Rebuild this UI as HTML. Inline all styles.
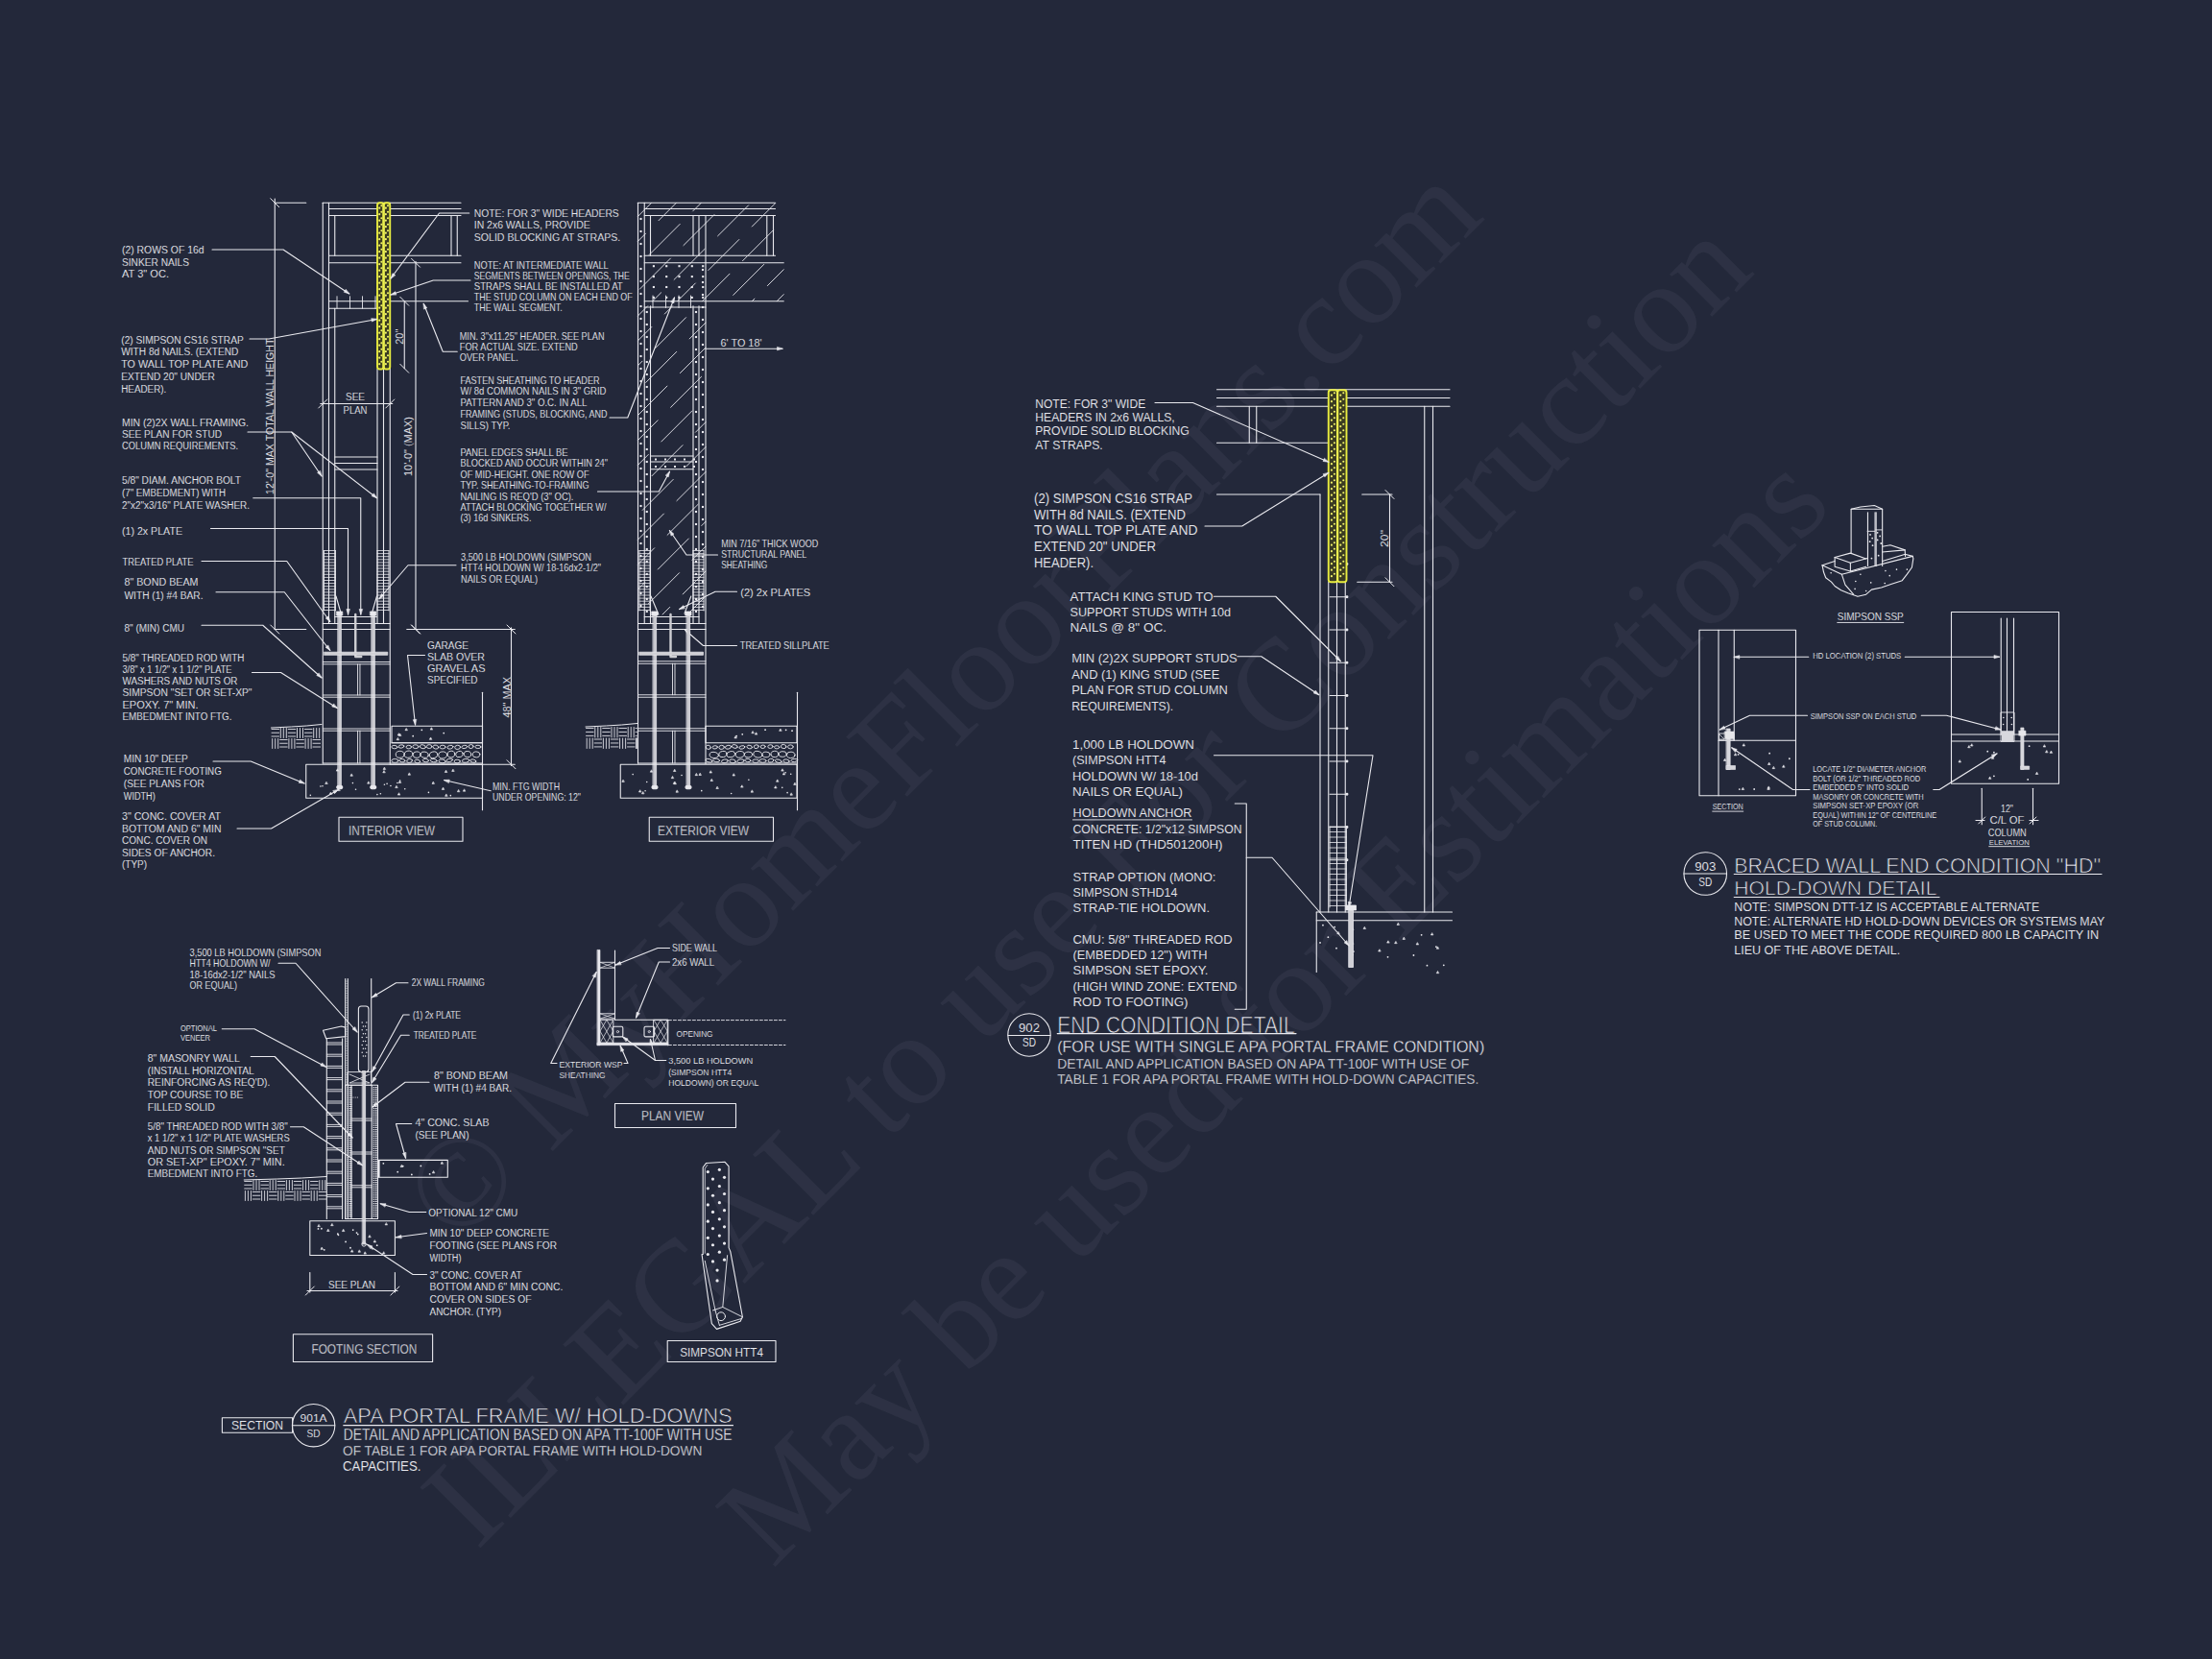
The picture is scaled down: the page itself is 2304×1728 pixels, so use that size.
<!DOCTYPE html>
<html><head><meta charset="utf-8"><style>
.d text{fill:#e9e9ee;stroke:#23283a;stroke-width:0.1px;font-family:"Liberation Sans",sans-serif}
.d text.big{stroke-width:0.7px}
.d text.mid{stroke-width:0.3px}

html,body{margin:0;padding:0;background:#23283a;width:2304px;height:1728px;overflow:hidden}
svg{display:block}
</style></head><body>
<svg width="2304" height="1728" viewBox="0 0 2304 1728">
<rect width="2304" height="1728" fill="#23283a"/>
<g transform="rotate(-45)" style="font-family:'Liberation Serif',serif;font-size:136px;fill:#f2ecff;fill-opacity:0.052">
<text x="-582" y="1255">© MyHomeFloorPlans.com</text>
<text x="-791" y="1494">ILLEGAL to use For Construction</text>
<text x="-587" y="1725">May be used for Estimations</text>
</g>
<g class="d" stroke="#e9e9ee" stroke-width="1.1" fill="none" stroke-linecap="round" stroke-linejoin="round">
<line x1="286.25" y1="207" x2="286.25" y2="655.5"/>
<line x1="286.25" y1="211.25" x2="318.75" y2="211.25"/>
<line x1="281.75" y1="206.75" x2="290.75" y2="215.75" stroke-width="1"/>
<line x1="286.25" y1="655.5" x2="318.75" y2="655.5"/>
<line x1="281.75" y1="651" x2="290.75" y2="660" stroke-width="1"/>
<text x="280.5" y="437.75" font-size="11.63" textLength="162.5" lengthAdjust="spacingAndGlyphs" text-anchor="middle" transform="rotate(-90 280.5 433.75)">12'-0" MAX TOTAL WALL HEIGHT</text>
<line x1="336.25" y1="211.25" x2="336.25" y2="795"/>
<line x1="342.5" y1="211.25" x2="342.5" y2="649.5"/>
<line x1="336.25" y1="211.25" x2="480" y2="211.25"/>
<line x1="342.5" y1="217.5" x2="480" y2="217.5"/>
<line x1="342.5" y1="224.5" x2="480" y2="224.5"/>
<line x1="342.5" y1="266.25" x2="480" y2="266.25"/>
<line x1="342.5" y1="273.75" x2="480" y2="273.75"/>
<line x1="348.75" y1="224.5" x2="348.75" y2="266.25"/>
<line x1="470" y1="224.5" x2="470" y2="266.25"/>
<line x1="476.25" y1="224.5" x2="476.25" y2="266.25"/>
<line x1="342.5" y1="313.75" x2="393" y2="313.75"/>
<line x1="406.25" y1="313.75" x2="487.5" y2="313.75"/>
<line x1="342.5" y1="321.25" x2="393" y2="321.25"/>
<line x1="351" y1="308.75" x2="351" y2="321.25" stroke-width="0.9"/>
<line x1="364.5" y1="308.75" x2="364.5" y2="321.25" stroke-width="0.9"/>
<line x1="377.5" y1="308.75" x2="377.5" y2="321.25" stroke-width="0.9"/>
<line x1="391" y1="308.75" x2="391" y2="321.25" stroke-width="0.9"/>
<line x1="348.75" y1="321.25" x2="348.75" y2="649.5"/>
<line x1="393" y1="384.5" x2="393" y2="649.5"/>
<line x1="399.5" y1="384.5" x2="399.5" y2="649.5"/>
<line x1="406.25" y1="211.25" x2="406.25" y2="795"/>
<line x1="348.75" y1="476" x2="393" y2="476"/>
<line x1="348.75" y1="482.5" x2="393" y2="482.5"/>
<line x1="348.75" y1="489" x2="393" y2="489"/>
<line x1="433" y1="272.5" x2="433" y2="655.5"/>
<line x1="428.5" y1="269.25" x2="437.5" y2="278.25" stroke-width="1"/>
<line x1="428.5" y1="651" x2="437.5" y2="660" stroke-width="1"/>
<text x="425" y="469" font-size="11.63" textLength="62" lengthAdjust="spacingAndGlyphs" text-anchor="middle" transform="rotate(-90 425 465)">10'-0" (MAX)</text>
<line x1="421.25" y1="313.75" x2="421.25" y2="383.75"/>
<line x1="416.75" y1="309.25" x2="425.75" y2="318.25" stroke-width="1"/>
<line x1="416.75" y1="379.25" x2="425.75" y2="388.25" stroke-width="1"/>
<text x="416" y="354.5" font-size="10.9" textLength="16" lengthAdjust="spacingAndGlyphs" text-anchor="middle" transform="rotate(-90 416 350.75)">20"</text>
<line x1="333.75" y1="420.5" x2="408.75" y2="420.5"/>
<line x1="331.75" y1="425" x2="340.75" y2="416" stroke-width="1"/>
<line x1="401.75" y1="425" x2="410.75" y2="416" stroke-width="1"/>
<text x="370" y="417.25" font-size="10.17" textLength="20" lengthAdjust="spacingAndGlyphs" text-anchor="middle">SEE</text>
<text x="370" y="431" font-size="10.17" textLength="25" lengthAdjust="spacingAndGlyphs" text-anchor="middle">PLAN</text>
<rect x="393" y="211.25" width="6.62" height="173.25" rx="2.5" fill="#3a3b22" stroke="#e8ec40" stroke-width="1.9"/>
<rect x="399.62" y="211.25" width="6.62" height="173.25" rx="2.5" fill="#3a3b22" stroke="#e8ec40" stroke-width="1.9"/>
<line x1="399.62" y1="212.25" x2="399.62" y2="383.5" stroke="#ecf050" stroke-width="2.2"/>
<circle cx="397.37" cy="214.25" r="1.05" fill="#f2f46a" stroke="none"/>
<circle cx="395.25" cy="216.65" r="1.05" fill="#f2f46a" stroke="none"/>
<circle cx="404" cy="214.25" r="1.05" fill="#f2f46a" stroke="none"/>
<circle cx="401.88" cy="216.65" r="1.05" fill="#f2f46a" stroke="none"/>
<circle cx="397.37" cy="220.75" r="1.05" fill="#f2f46a" stroke="none"/>
<circle cx="395.25" cy="223.15" r="1.05" fill="#f2f46a" stroke="none"/>
<circle cx="404" cy="220.75" r="1.05" fill="#f2f46a" stroke="none"/>
<circle cx="401.88" cy="223.15" r="1.05" fill="#f2f46a" stroke="none"/>
<circle cx="397.37" cy="227.25" r="1.05" fill="#f2f46a" stroke="none"/>
<circle cx="395.25" cy="229.65" r="1.05" fill="#f2f46a" stroke="none"/>
<circle cx="404" cy="227.25" r="1.05" fill="#f2f46a" stroke="none"/>
<circle cx="401.88" cy="229.65" r="1.05" fill="#f2f46a" stroke="none"/>
<circle cx="397.37" cy="233.75" r="1.05" fill="#f2f46a" stroke="none"/>
<circle cx="395.25" cy="236.15" r="1.05" fill="#f2f46a" stroke="none"/>
<circle cx="404" cy="233.75" r="1.05" fill="#f2f46a" stroke="none"/>
<circle cx="401.88" cy="236.15" r="1.05" fill="#f2f46a" stroke="none"/>
<circle cx="397.37" cy="240.25" r="1.05" fill="#f2f46a" stroke="none"/>
<circle cx="395.25" cy="242.65" r="1.05" fill="#f2f46a" stroke="none"/>
<circle cx="404" cy="240.25" r="1.05" fill="#f2f46a" stroke="none"/>
<circle cx="401.88" cy="242.65" r="1.05" fill="#f2f46a" stroke="none"/>
<circle cx="397.37" cy="246.75" r="1.05" fill="#f2f46a" stroke="none"/>
<circle cx="395.25" cy="249.15" r="1.05" fill="#f2f46a" stroke="none"/>
<circle cx="404" cy="246.75" r="1.05" fill="#f2f46a" stroke="none"/>
<circle cx="401.88" cy="249.15" r="1.05" fill="#f2f46a" stroke="none"/>
<circle cx="397.37" cy="253.25" r="1.05" fill="#f2f46a" stroke="none"/>
<circle cx="395.25" cy="255.65" r="1.05" fill="#f2f46a" stroke="none"/>
<circle cx="404" cy="253.25" r="1.05" fill="#f2f46a" stroke="none"/>
<circle cx="401.88" cy="255.65" r="1.05" fill="#f2f46a" stroke="none"/>
<circle cx="397.37" cy="259.75" r="1.05" fill="#f2f46a" stroke="none"/>
<circle cx="395.25" cy="262.15" r="1.05" fill="#f2f46a" stroke="none"/>
<circle cx="404" cy="259.75" r="1.05" fill="#f2f46a" stroke="none"/>
<circle cx="401.88" cy="262.15" r="1.05" fill="#f2f46a" stroke="none"/>
<circle cx="397.37" cy="266.25" r="1.05" fill="#f2f46a" stroke="none"/>
<circle cx="395.25" cy="268.65" r="1.05" fill="#f2f46a" stroke="none"/>
<circle cx="404" cy="266.25" r="1.05" fill="#f2f46a" stroke="none"/>
<circle cx="401.88" cy="268.65" r="1.05" fill="#f2f46a" stroke="none"/>
<circle cx="397.37" cy="272.75" r="1.05" fill="#f2f46a" stroke="none"/>
<circle cx="395.25" cy="275.15" r="1.05" fill="#f2f46a" stroke="none"/>
<circle cx="404" cy="272.75" r="1.05" fill="#f2f46a" stroke="none"/>
<circle cx="401.88" cy="275.15" r="1.05" fill="#f2f46a" stroke="none"/>
<circle cx="397.37" cy="279.25" r="1.05" fill="#f2f46a" stroke="none"/>
<circle cx="395.25" cy="281.65" r="1.05" fill="#f2f46a" stroke="none"/>
<circle cx="404" cy="279.25" r="1.05" fill="#f2f46a" stroke="none"/>
<circle cx="401.88" cy="281.65" r="1.05" fill="#f2f46a" stroke="none"/>
<circle cx="397.37" cy="285.75" r="1.05" fill="#f2f46a" stroke="none"/>
<circle cx="395.25" cy="288.15" r="1.05" fill="#f2f46a" stroke="none"/>
<circle cx="404" cy="285.75" r="1.05" fill="#f2f46a" stroke="none"/>
<circle cx="401.88" cy="288.15" r="1.05" fill="#f2f46a" stroke="none"/>
<circle cx="397.37" cy="292.25" r="1.05" fill="#f2f46a" stroke="none"/>
<circle cx="395.25" cy="294.65" r="1.05" fill="#f2f46a" stroke="none"/>
<circle cx="404" cy="292.25" r="1.05" fill="#f2f46a" stroke="none"/>
<circle cx="401.88" cy="294.65" r="1.05" fill="#f2f46a" stroke="none"/>
<circle cx="397.37" cy="298.75" r="1.05" fill="#f2f46a" stroke="none"/>
<circle cx="395.25" cy="301.15" r="1.05" fill="#f2f46a" stroke="none"/>
<circle cx="404" cy="298.75" r="1.05" fill="#f2f46a" stroke="none"/>
<circle cx="401.88" cy="301.15" r="1.05" fill="#f2f46a" stroke="none"/>
<circle cx="397.37" cy="305.25" r="1.05" fill="#f2f46a" stroke="none"/>
<circle cx="395.25" cy="307.65" r="1.05" fill="#f2f46a" stroke="none"/>
<circle cx="404" cy="305.25" r="1.05" fill="#f2f46a" stroke="none"/>
<circle cx="401.88" cy="307.65" r="1.05" fill="#f2f46a" stroke="none"/>
<circle cx="397.37" cy="311.75" r="1.05" fill="#f2f46a" stroke="none"/>
<circle cx="395.25" cy="314.15" r="1.05" fill="#f2f46a" stroke="none"/>
<circle cx="404" cy="311.75" r="1.05" fill="#f2f46a" stroke="none"/>
<circle cx="401.88" cy="314.15" r="1.05" fill="#f2f46a" stroke="none"/>
<circle cx="397.37" cy="318.25" r="1.05" fill="#f2f46a" stroke="none"/>
<circle cx="395.25" cy="320.65" r="1.05" fill="#f2f46a" stroke="none"/>
<circle cx="404" cy="318.25" r="1.05" fill="#f2f46a" stroke="none"/>
<circle cx="401.88" cy="320.65" r="1.05" fill="#f2f46a" stroke="none"/>
<circle cx="397.37" cy="324.75" r="1.05" fill="#f2f46a" stroke="none"/>
<circle cx="395.25" cy="327.15" r="1.05" fill="#f2f46a" stroke="none"/>
<circle cx="404" cy="324.75" r="1.05" fill="#f2f46a" stroke="none"/>
<circle cx="401.88" cy="327.15" r="1.05" fill="#f2f46a" stroke="none"/>
<circle cx="397.37" cy="331.25" r="1.05" fill="#f2f46a" stroke="none"/>
<circle cx="395.25" cy="333.65" r="1.05" fill="#f2f46a" stroke="none"/>
<circle cx="404" cy="331.25" r="1.05" fill="#f2f46a" stroke="none"/>
<circle cx="401.88" cy="333.65" r="1.05" fill="#f2f46a" stroke="none"/>
<circle cx="397.37" cy="337.75" r="1.05" fill="#f2f46a" stroke="none"/>
<circle cx="395.25" cy="340.15" r="1.05" fill="#f2f46a" stroke="none"/>
<circle cx="404" cy="337.75" r="1.05" fill="#f2f46a" stroke="none"/>
<circle cx="401.88" cy="340.15" r="1.05" fill="#f2f46a" stroke="none"/>
<circle cx="397.37" cy="344.25" r="1.05" fill="#f2f46a" stroke="none"/>
<circle cx="395.25" cy="346.65" r="1.05" fill="#f2f46a" stroke="none"/>
<circle cx="404" cy="344.25" r="1.05" fill="#f2f46a" stroke="none"/>
<circle cx="401.88" cy="346.65" r="1.05" fill="#f2f46a" stroke="none"/>
<circle cx="397.37" cy="350.75" r="1.05" fill="#f2f46a" stroke="none"/>
<circle cx="395.25" cy="353.15" r="1.05" fill="#f2f46a" stroke="none"/>
<circle cx="404" cy="350.75" r="1.05" fill="#f2f46a" stroke="none"/>
<circle cx="401.88" cy="353.15" r="1.05" fill="#f2f46a" stroke="none"/>
<circle cx="397.37" cy="357.25" r="1.05" fill="#f2f46a" stroke="none"/>
<circle cx="395.25" cy="359.65" r="1.05" fill="#f2f46a" stroke="none"/>
<circle cx="404" cy="357.25" r="1.05" fill="#f2f46a" stroke="none"/>
<circle cx="401.88" cy="359.65" r="1.05" fill="#f2f46a" stroke="none"/>
<circle cx="397.37" cy="363.75" r="1.05" fill="#f2f46a" stroke="none"/>
<circle cx="395.25" cy="366.15" r="1.05" fill="#f2f46a" stroke="none"/>
<circle cx="404" cy="363.75" r="1.05" fill="#f2f46a" stroke="none"/>
<circle cx="401.88" cy="366.15" r="1.05" fill="#f2f46a" stroke="none"/>
<circle cx="397.37" cy="370.25" r="1.05" fill="#f2f46a" stroke="none"/>
<circle cx="395.25" cy="372.65" r="1.05" fill="#f2f46a" stroke="none"/>
<circle cx="404" cy="370.25" r="1.05" fill="#f2f46a" stroke="none"/>
<circle cx="401.88" cy="372.65" r="1.05" fill="#f2f46a" stroke="none"/>
<circle cx="397.37" cy="376.75" r="1.05" fill="#f2f46a" stroke="none"/>
<circle cx="395.25" cy="379.15" r="1.05" fill="#f2f46a" stroke="none"/>
<circle cx="404" cy="376.75" r="1.05" fill="#f2f46a" stroke="none"/>
<circle cx="401.88" cy="379.15" r="1.05" fill="#f2f46a" stroke="none"/>
<line x1="337.5" y1="573.5" x2="337.5" y2="636" stroke-width="0.9"/>
<line x1="349.5" y1="573.5" x2="349.5" y2="636" stroke-width="0.9"/>
<line x1="337.5" y1="573.5" x2="349.5" y2="573.5" stroke-width="0.8"/>
<line x1="337.5" y1="576.6" x2="349.5" y2="576.6" stroke-width="0.8"/>
<line x1="337.5" y1="579.7" x2="349.5" y2="579.7" stroke-width="0.8"/>
<line x1="337.5" y1="582.8" x2="349.5" y2="582.8" stroke-width="0.8"/>
<line x1="337.5" y1="585.9" x2="349.5" y2="585.9" stroke-width="0.8"/>
<line x1="337.5" y1="589" x2="349.5" y2="589" stroke-width="0.8"/>
<line x1="337.5" y1="592.1" x2="349.5" y2="592.1" stroke-width="0.8"/>
<line x1="337.5" y1="595.2" x2="349.5" y2="595.2" stroke-width="0.8"/>
<line x1="337.5" y1="598.3" x2="349.5" y2="598.3" stroke-width="0.8"/>
<line x1="337.5" y1="601.4" x2="349.5" y2="601.4" stroke-width="0.8"/>
<line x1="337.5" y1="604.5" x2="349.5" y2="604.5" stroke-width="0.8"/>
<line x1="337.5" y1="607.6" x2="349.5" y2="607.6" stroke-width="0.8"/>
<line x1="337.5" y1="610.7" x2="349.5" y2="610.7" stroke-width="0.8"/>
<line x1="337.5" y1="613.8" x2="349.5" y2="613.8" stroke-width="0.8"/>
<line x1="337.5" y1="616.9" x2="349.5" y2="616.9" stroke-width="0.8"/>
<line x1="337.5" y1="620" x2="349.5" y2="620" stroke-width="0.8"/>
<line x1="337.5" y1="623.1" x2="349.5" y2="623.1" stroke-width="0.8"/>
<line x1="337.5" y1="626.2" x2="349.5" y2="626.2" stroke-width="0.8"/>
<line x1="337.5" y1="629.3" x2="349.5" y2="629.3" stroke-width="0.8"/>
<line x1="337.5" y1="632.4" x2="349.5" y2="632.4" stroke-width="0.8"/>
<line x1="337.5" y1="635.5" x2="349.5" y2="635.5" stroke-width="0.8"/>
<line x1="393" y1="573.5" x2="393" y2="636" stroke-width="0.9"/>
<line x1="405" y1="573.5" x2="405" y2="636" stroke-width="0.9"/>
<line x1="393" y1="573.5" x2="405" y2="573.5" stroke-width="0.8"/>
<line x1="393" y1="576.6" x2="405" y2="576.6" stroke-width="0.8"/>
<line x1="393" y1="579.7" x2="405" y2="579.7" stroke-width="0.8"/>
<line x1="393" y1="582.8" x2="405" y2="582.8" stroke-width="0.8"/>
<line x1="393" y1="585.9" x2="405" y2="585.9" stroke-width="0.8"/>
<line x1="393" y1="589" x2="405" y2="589" stroke-width="0.8"/>
<line x1="393" y1="592.1" x2="405" y2="592.1" stroke-width="0.8"/>
<line x1="393" y1="595.2" x2="405" y2="595.2" stroke-width="0.8"/>
<line x1="393" y1="598.3" x2="405" y2="598.3" stroke-width="0.8"/>
<line x1="393" y1="601.4" x2="405" y2="601.4" stroke-width="0.8"/>
<line x1="393" y1="604.5" x2="405" y2="604.5" stroke-width="0.8"/>
<line x1="393" y1="607.6" x2="405" y2="607.6" stroke-width="0.8"/>
<line x1="393" y1="610.7" x2="405" y2="610.7" stroke-width="0.8"/>
<line x1="393" y1="613.8" x2="405" y2="613.8" stroke-width="0.8"/>
<line x1="393" y1="616.9" x2="405" y2="616.9" stroke-width="0.8"/>
<line x1="393" y1="620" x2="405" y2="620" stroke-width="0.8"/>
<line x1="393" y1="623.1" x2="405" y2="623.1" stroke-width="0.8"/>
<line x1="393" y1="626.2" x2="405" y2="626.2" stroke-width="0.8"/>
<line x1="393" y1="629.3" x2="405" y2="629.3" stroke-width="0.8"/>
<line x1="393" y1="632.4" x2="405" y2="632.4" stroke-width="0.8"/>
<line x1="393" y1="635.5" x2="405" y2="635.5" stroke-width="0.8"/>
<line x1="336.25" y1="649.5" x2="406.25" y2="649.5"/>
<line x1="336.25" y1="655.5" x2="406.25" y2="655.5"/>
<rect x="352.15" y="638.5" width="3.2" height="181.5" stroke-width="0.8" fill="#c9c9cf"/>
<ellipse cx="353.75" cy="820" rx="3" ry="1.8" fill="#e9e9ee"/>
<rect x="350.75" y="637" width="6" height="4" stroke-width="0.8" fill="#e9e9ee"/>
<rect x="387.15" y="638.5" width="3.2" height="181.5" stroke-width="0.8" fill="#c9c9cf"/>
<ellipse cx="388.75" cy="820" rx="3" ry="1.8" fill="#e9e9ee"/>
<rect x="385.75" y="637" width="6" height="4" stroke-width="0.8" fill="#e9e9ee"/>
<polyline points="370.25,640 370.25,684 376.25,684" stroke-width="2.4" stroke="#cfcfd4"/>
<rect x="337.75" y="679.2" width="66" height="3.1" stroke-width="0.7" fill="#cfcfd4"/>
<line x1="336.25" y1="689.5" x2="406.25" y2="689.5" stroke-width="0.9"/>
<line x1="336.25" y1="691.8" x2="406.25" y2="691.8" stroke-width="0.9"/>
<line x1="336.25" y1="724" x2="406.25" y2="724" stroke-width="0.9"/>
<line x1="336.25" y1="726.2" x2="406.25" y2="726.2" stroke-width="0.9"/>
<line x1="336.25" y1="759" x2="406.25" y2="759" stroke-width="0.9"/>
<line x1="336.25" y1="761.2" x2="406.25" y2="761.2" stroke-width="0.9"/>
<line x1="336.25" y1="795" x2="406.25" y2="795"/>
<line x1="372.55" y1="691.8" x2="372.55" y2="724" stroke-width="0.9"/>
<line x1="374.95" y1="691.8" x2="374.95" y2="724" stroke-width="0.9"/>
<line x1="372.55" y1="761.2" x2="372.55" y2="795" stroke-width="0.9"/>
<line x1="374.95" y1="761.2" x2="374.95" y2="795" stroke-width="0.9"/>
<line x1="348.75" y1="642.5" x2="392.5" y2="642.5"/>
<line x1="350" y1="621" x2="355.5" y2="640"/>
<line x1="392.5" y1="621" x2="387" y2="640"/>
<polyline points="219.5,550.5 362.5,550.5 362.5,640"/>
<polygon points="362.5,640 360.9,634.5 364.1,634.5" stroke-width="0.6" fill="#e9e9ee"/>
<polyline points="263.75,518.75 375.75,518.75 375.75,640"/>
<polygon points="375.75,640 374.15,634.5 377.35,634.5" stroke-width="0.6" fill="#e9e9ee"/>
<rect x="408" y="756.25" width="94.5" height="17.5"/>
<circle cx="439.31" cy="760.29" r="0.9" stroke-width="0" fill="#e9e9ee"/>
<polygon points="416.56,764.38 415.46,766.38 417.66,766.38" stroke-width="0.6" fill="#e9e9ee"/>
<polygon points="415.25,764 414.15,766 416.35,766" stroke-width="0.6" fill="#e9e9ee"/>
<polygon points="449.24,758.09 448.14,760.09 450.34,760.09" stroke-width="0.6" fill="#e9e9ee"/>
<polygon points="448.42,768.31 447.32,770.31 449.52,770.31" stroke-width="0.6" fill="#e9e9ee"/>
<circle cx="430.2" cy="766.72" r="0.9" stroke-width="0" fill="#e9e9ee"/>
<circle cx="462.23" cy="763.61" r="0.9" stroke-width="0" fill="#e9e9ee"/>
<polygon points="414.22,768.74 413.12,770.74 415.32,770.74" stroke-width="0.6" fill="#e9e9ee"/>
<polygon points="423.06,758.74 421.96,760.74 424.16,760.74" stroke-width="0.6" fill="#e9e9ee"/>
<line x1="408" y1="773.75" x2="502.5" y2="773.75"/>
<line x1="406.25" y1="795" x2="502.5" y2="795"/>
<ellipse cx="410.9" cy="778.1" rx="3.06" ry="1.7" stroke-width="0.85" transform="rotate(4.17 410.9 778)"/>
<ellipse cx="418.11" cy="777.47" rx="2.86" ry="1.64" stroke-width="0.85" transform="rotate(-8.82 418.11 778)"/>
<ellipse cx="425.78" cy="778.1" rx="2.78" ry="1.76" stroke-width="0.85" transform="rotate(-1.4 425.78 778)"/>
<ellipse cx="432.88" cy="777.69" rx="3.04" ry="1.95" stroke-width="0.85" transform="rotate(2.23 432.88 778)"/>
<ellipse cx="440.32" cy="777.75" rx="3.1" ry="1.96" stroke-width="0.85" transform="rotate(14.41 440.32 778)"/>
<ellipse cx="447.15" cy="777.58" rx="2.77" ry="1.97" stroke-width="0.85" transform="rotate(-0.33 447.15 778)"/>
<ellipse cx="453.87" cy="778.09" rx="2.95" ry="1.98" stroke-width="0.85" transform="rotate(11.26 453.87 778)"/>
<ellipse cx="461" cy="778.1" rx="2.97" ry="1.9" stroke-width="0.85" transform="rotate(-1.31 461 778)"/>
<ellipse cx="468.9" cy="778.2" rx="3.15" ry="1.84" stroke-width="0.85" transform="rotate(-13.18 468.9 778)"/>
<ellipse cx="476.6" cy="778.39" rx="2.93" ry="2.09" stroke-width="0.85" transform="rotate(-6.46 476.6 778)"/>
<ellipse cx="483.83" cy="777.95" rx="2.95" ry="1.63" stroke-width="0.85" transform="rotate(-9.96 483.83 778)"/>
<ellipse cx="490.66" cy="777.56" rx="2.51" ry="1.98" stroke-width="0.85" transform="rotate(-7.57 490.66 778)"/>
<ellipse cx="497.9" cy="777.94" rx="3.1" ry="1.65" stroke-width="0.85" transform="rotate(1.48 497.9 778)"/>
<ellipse cx="416.8" cy="785.81" rx="4.54" ry="3.52" stroke-width="0.85" transform="rotate(-2.54 416.8 786.08)"/>
<ellipse cx="425.55" cy="785.66" rx="4.61" ry="3.6" stroke-width="0.85" transform="rotate(-9.71 425.55 786.08)"/>
<ellipse cx="434.06" cy="786.18" rx="3.91" ry="3.21" stroke-width="0.85" transform="rotate(-7.12 434.06 786.08)"/>
<ellipse cx="442.17" cy="786.15" rx="4.11" ry="3.11" stroke-width="0.85" transform="rotate(13.59 442.17 786.08)"/>
<ellipse cx="451.51" cy="786.29" rx="4.21" ry="3.31" stroke-width="0.85" transform="rotate(-13.38 451.51 786.08)"/>
<ellipse cx="461.23" cy="786.43" rx="4.49" ry="3.53" stroke-width="0.85" transform="rotate(-3.23 461.23 786.08)"/>
<ellipse cx="470.05" cy="785.55" rx="3.77" ry="3.33" stroke-width="0.85" transform="rotate(-12.98 470.05 786.08)"/>
<ellipse cx="478.53" cy="785.54" rx="3.83" ry="3.09" stroke-width="0.85" transform="rotate(-14.99 478.53 786.08)"/>
<ellipse cx="486.9" cy="785.51" rx="3.76" ry="3.1" stroke-width="0.85" transform="rotate(11.23 486.9 786.08)"/>
<ellipse cx="496.1" cy="785.89" rx="3.81" ry="3.01" stroke-width="0.85" transform="rotate(-4.08 496.1 786.08)"/>
<ellipse cx="411.4" cy="792.41" rx="3.61" ry="1.98" stroke-width="0.85" transform="rotate(-0.48 411.4 792.45)"/>
<ellipse cx="418.92" cy="792.17" rx="2.98" ry="1.68" stroke-width="0.85" transform="rotate(9.87 418.92 792.45)"/>
<ellipse cx="426.57" cy="792.48" rx="2.91" ry="1.96" stroke-width="0.85" transform="rotate(-10.6 426.57 792.45)"/>
<ellipse cx="434.84" cy="793.02" rx="2.91" ry="1.77" stroke-width="0.85" transform="rotate(10.9 434.84 792.45)"/>
<ellipse cx="443.36" cy="792.05" rx="3.11" ry="1.7" stroke-width="0.85" transform="rotate(8.16 443.36 792.45)"/>
<ellipse cx="451.61" cy="792.12" rx="3.55" ry="1.68" stroke-width="0.85" transform="rotate(9.35 451.61 792.45)"/>
<ellipse cx="460.61" cy="792.83" rx="3.61" ry="1.89" stroke-width="0.85" transform="rotate(7.2 460.61 792.45)"/>
<ellipse cx="468.36" cy="791.88" rx="3.33" ry="1.69" stroke-width="0.85" transform="rotate(-14.16 468.36 792.45)"/>
<ellipse cx="476.2" cy="793" rx="3.11" ry="1.84" stroke-width="0.85" transform="rotate(-1.58 476.2 792.45)"/>
<ellipse cx="485.11" cy="792.29" rx="3.73" ry="1.96" stroke-width="0.85" transform="rotate(-8.39 485.11 792.45)"/>
<ellipse cx="492.87" cy="792.6" rx="3.06" ry="1.62" stroke-width="0.85" transform="rotate(12.01 492.87 792.45)"/>
<rect x="318.75" y="796.25" width="183.75" height="35"/>
<circle cx="406.94" cy="818.49" r="0.8" stroke-width="0" fill="#e9e9ee"/>
<circle cx="335.99" cy="818.73" r="0.8" stroke-width="0" fill="#e9e9ee"/>
<polygon points="461.37,820.4 460.27,822.4 462.47,822.4" stroke-width="0.6" fill="#e9e9ee"/>
<polygon points="352.84,821.61 351.74,823.61 353.94,823.61" stroke-width="0.6" fill="#e9e9ee"/>
<polygon points="464.7,827.27 463.6,829.27 465.8,829.27" stroke-width="0.6" fill="#e9e9ee"/>
<circle cx="392.9" cy="827.6" r="0.8" stroke-width="0" fill="#e9e9ee"/>
<polygon points="351.31,801.09 350.21,803.09 352.41,803.09" stroke-width="0.6" fill="#e9e9ee"/>
<polygon points="483.4,822.15 482.3,824.15 484.5,824.15" stroke-width="0.6" fill="#e9e9ee"/>
<circle cx="469.32" cy="828.64" r="0.8" stroke-width="0" fill="#e9e9ee"/>
<polygon points="383.74,814.16 382.64,816.16 384.84,816.16" stroke-width="0.6" fill="#e9e9ee"/>
<circle cx="323.31" cy="828.35" r="0.8" stroke-width="0" fill="#e9e9ee"/>
<polygon points="415.4,826.09 414.3,828.09 416.5,828.09" stroke-width="0.6" fill="#e9e9ee"/>
<polygon points="477.45,822.76 476.35,824.76 478.55,824.76" stroke-width="0.6" fill="#e9e9ee"/>
<polygon points="366.02,806.23 364.92,808.23 367.12,808.23" stroke-width="0.6" fill="#e9e9ee"/>
<polygon points="426.16,805.19 425.06,807.19 427.26,807.19" stroke-width="0.6" fill="#e9e9ee"/>
<polygon points="344.31,825.36 343.21,827.36 345.41,827.36" stroke-width="0.6" fill="#e9e9ee"/>
<circle cx="403.1" cy="816.33" r="0.8" stroke-width="0" fill="#e9e9ee"/>
<circle cx="396.36" cy="826.7" r="0.8" stroke-width="0" fill="#e9e9ee"/>
<polygon points="416.35,813.38 415.25,815.38 417.45,815.38" stroke-width="0.6" fill="#e9e9ee"/>
<polygon points="399.86,802.83 398.76,804.83 400.96,804.83" stroke-width="0.6" fill="#e9e9ee"/>
<polygon points="464.4,802.49 463.3,804.49 465.5,804.49" stroke-width="0.6" fill="#e9e9ee"/>
<polygon points="451.1,814.4 450,816.4 452.2,816.4" stroke-width="0.6" fill="#e9e9ee"/>
<circle cx="413.92" cy="815.47" r="0.8" stroke-width="0" fill="#e9e9ee"/>
<polygon points="339.82,814.52 338.72,816.52 340.92,816.52" stroke-width="0.6" fill="#e9e9ee"/>
<circle cx="370.53" cy="822.19" r="0.8" stroke-width="0" fill="#e9e9ee"/>
<circle cx="421.72" cy="821.81" r="0.8" stroke-width="0" fill="#e9e9ee"/>
<circle cx="400.42" cy="817.24" r="0.8" stroke-width="0" fill="#e9e9ee"/>
<polygon points="412.81,818.62 411.71,820.62 413.91,820.62" stroke-width="0.6" fill="#e9e9ee"/>
<circle cx="416.61" cy="813.07" r="0.8" stroke-width="0" fill="#e9e9ee"/>
<circle cx="446.43" cy="825.42" r="0.8" stroke-width="0" fill="#e9e9ee"/>
<circle cx="367.41" cy="815.59" r="0.8" stroke-width="0" fill="#e9e9ee"/>
<polygon points="471.74,801.4 470.64,803.4 472.84,803.4" stroke-width="0.6" fill="#e9e9ee"/>
<polygon points="400.22,799.4 399.12,801.4 401.32,801.4" stroke-width="0.6" fill="#e9e9ee"/>
<circle cx="333.89" cy="819" r="0.8" stroke-width="0" fill="#e9e9ee"/>
<line x1="406.25" y1="796.25" x2="536.25" y2="796.25"/>
<line x1="532.5" y1="653.75" x2="532.5" y2="797.5"/>
<line x1="528" y1="651" x2="537" y2="660" stroke-width="1"/>
<line x1="528" y1="791.75" x2="537" y2="800.75" stroke-width="1"/>
<text x="527.5" y="730.25" font-size="11.63" textLength="42.5" lengthAdjust="spacingAndGlyphs" text-anchor="middle" transform="rotate(-90 527.5 726.25)">48" MAX</text>
<line x1="423.75" y1="655.5" x2="536.25" y2="655.5"/>
<line x1="428.5" y1="651" x2="437.5" y2="660" stroke-width="1"/>
<line x1="502.5" y1="721.25" x2="502.5" y2="843.75"/>
<polyline points="282.5,758 303.5,757 319.25,756 335,754.5" stroke-width="1"/>
<line x1="283" y1="759.5" x2="290.6" y2="759.5" stroke-width="0.85"/>
<line x1="283" y1="763.25" x2="290.6" y2="763.25" stroke-width="0.85"/>
<line x1="283" y1="767" x2="290.6" y2="767" stroke-width="0.85"/>
<line x1="292.3" y1="758.5" x2="292.3" y2="768.5" stroke-width="0.85"/>
<line x1="295.3" y1="758.5" x2="295.3" y2="768.5" stroke-width="0.85"/>
<line x1="298.3" y1="758.5" x2="298.3" y2="768.5" stroke-width="0.85"/>
<line x1="300.2" y1="759.5" x2="307.8" y2="759.5" stroke-width="0.85"/>
<line x1="300.2" y1="763.25" x2="307.8" y2="763.25" stroke-width="0.85"/>
<line x1="300.2" y1="767" x2="307.8" y2="767" stroke-width="0.85"/>
<line x1="309.5" y1="758.5" x2="309.5" y2="768.5" stroke-width="0.85"/>
<line x1="312.5" y1="758.5" x2="312.5" y2="768.5" stroke-width="0.85"/>
<line x1="315.5" y1="758.5" x2="315.5" y2="768.5" stroke-width="0.85"/>
<line x1="317.4" y1="759.5" x2="325" y2="759.5" stroke-width="0.85"/>
<line x1="317.4" y1="763.25" x2="325" y2="763.25" stroke-width="0.85"/>
<line x1="317.4" y1="767" x2="325" y2="767" stroke-width="0.85"/>
<line x1="326.7" y1="758.5" x2="326.7" y2="768.5" stroke-width="0.85"/>
<line x1="329.7" y1="758.5" x2="329.7" y2="768.5" stroke-width="0.85"/>
<line x1="332.7" y1="758.5" x2="332.7" y2="768.5" stroke-width="0.85"/>
<line x1="283.7" y1="769.5" x2="283.7" y2="779.5" stroke-width="0.85"/>
<line x1="286.7" y1="769.5" x2="286.7" y2="779.5" stroke-width="0.85"/>
<line x1="289.7" y1="769.5" x2="289.7" y2="779.5" stroke-width="0.85"/>
<line x1="291.6" y1="770.5" x2="299.2" y2="770.5" stroke-width="0.85"/>
<line x1="291.6" y1="774.25" x2="299.2" y2="774.25" stroke-width="0.85"/>
<line x1="291.6" y1="778" x2="299.2" y2="778" stroke-width="0.85"/>
<line x1="300.9" y1="769.5" x2="300.9" y2="779.5" stroke-width="0.85"/>
<line x1="303.9" y1="769.5" x2="303.9" y2="779.5" stroke-width="0.85"/>
<line x1="306.9" y1="769.5" x2="306.9" y2="779.5" stroke-width="0.85"/>
<line x1="308.8" y1="770.5" x2="316.4" y2="770.5" stroke-width="0.85"/>
<line x1="308.8" y1="774.25" x2="316.4" y2="774.25" stroke-width="0.85"/>
<line x1="308.8" y1="778" x2="316.4" y2="778" stroke-width="0.85"/>
<line x1="318.1" y1="769.5" x2="318.1" y2="779.5" stroke-width="0.85"/>
<line x1="321.1" y1="769.5" x2="321.1" y2="779.5" stroke-width="0.85"/>
<line x1="324.1" y1="769.5" x2="324.1" y2="779.5" stroke-width="0.85"/>
<line x1="326" y1="770.5" x2="333.6" y2="770.5" stroke-width="0.85"/>
<line x1="326" y1="774.25" x2="333.6" y2="774.25" stroke-width="0.85"/>
<line x1="326" y1="778" x2="333.6" y2="778" stroke-width="0.85"/>
<rect x="353" y="851.25" width="129" height="25"/>
<text x="363" y="869.5" font-size="14.53" textLength="90" lengthAdjust="spacingAndGlyphs" class="mid">INTERIOR VIEW</text>
<text x="127" y="264" font-size="11.63" textLength="85.5" lengthAdjust="spacingAndGlyphs">(2) ROWS OF 16d</text>
<text x="127" y="276.5" font-size="11.63" textLength="70" lengthAdjust="spacingAndGlyphs">SINKER NAILS</text>
<text x="127" y="289" font-size="11.63" textLength="49" lengthAdjust="spacingAndGlyphs">AT 3" OC.</text>
<polyline points="221,260 295,260 363.75,306"/>
<polygon points="363.75,306 358.29,304.27 360.07,301.61" stroke-width="0.6" fill="#e9e9ee"/>
<text x="126.25" y="357.75" font-size="11.63" textLength="127.5" lengthAdjust="spacingAndGlyphs">(2) SIMPSON CS16 STRAP</text>
<text x="126.25" y="370.45" font-size="11.63" textLength="122" lengthAdjust="spacingAndGlyphs">WITH 8d NAILS. (EXTEND</text>
<text x="126.25" y="383.15" font-size="11.63" textLength="132" lengthAdjust="spacingAndGlyphs">TO WALL TOP PLATE AND</text>
<text x="126.25" y="395.85" font-size="11.63" textLength="97.5" lengthAdjust="spacingAndGlyphs">EXTEND 20" UNDER</text>
<text x="126.25" y="408.55" font-size="11.63" textLength="47" lengthAdjust="spacingAndGlyphs">HEADER).</text>
<polyline points="260,353 280,353 392.5,332.5"/>
<polygon points="392.5,332.5 387.38,335.06 386.8,331.91" stroke-width="0.6" fill="#e9e9ee"/>
<text x="127" y="444" font-size="11.63" textLength="132" lengthAdjust="spacingAndGlyphs">MIN (2)2X WALL FRAMING.</text>
<text x="127" y="456.2" font-size="11.63" textLength="104" lengthAdjust="spacingAndGlyphs">SEE PLAN FOR STUD</text>
<text x="127" y="468.4" font-size="11.63" textLength="121" lengthAdjust="spacingAndGlyphs">COLUMN REQUIREMENTS.</text>
<polyline points="258,450 303.75,450 335,496"/>
<polygon points="335,496 330.59,492.35 333.23,490.55" stroke-width="0.6" fill="#e9e9ee"/>
<polyline points="303.75,450 392.5,518.75"/>
<polygon points="392.5,518.75 387.17,516.65 389.13,514.12" stroke-width="0.6" fill="#e9e9ee"/>
<text x="127" y="504" font-size="11.63" textLength="124" lengthAdjust="spacingAndGlyphs">5/8" DIAM. ANCHOR BOLT</text>
<text x="127" y="517" font-size="11.63" textLength="108" lengthAdjust="spacingAndGlyphs">(7" EMBEDMENT) WITH</text>
<text x="127" y="530" font-size="11.63" textLength="133" lengthAdjust="spacingAndGlyphs">2"x2"x3/16" PLATE WASHER.</text>
<text x="127" y="557" font-size="11.63" textLength="63" lengthAdjust="spacingAndGlyphs">(1) 2x PLATE</text>
<text x="127.5" y="588.5" font-size="11.63" textLength="74" lengthAdjust="spacingAndGlyphs">TREATED PLATE</text>
<polyline points="210,584.5 298.75,584.5 343.75,647.5"/>
<polygon points="343.75,647.5 339.25,643.95 341.86,642.09" stroke-width="0.6" fill="#e9e9ee"/>
<text x="129.5" y="610" font-size="11.63" textLength="77" lengthAdjust="spacingAndGlyphs">8" BOND BEAM</text>
<text x="129.5" y="624" font-size="11.63" textLength="82" lengthAdjust="spacingAndGlyphs">WITH (1) #4 BAR.</text>
<polyline points="225,616.75 296.25,616.75 343.75,677.5"/>
<polygon points="343.75,677.5 339.1,674.15 341.62,672.18" stroke-width="0.6" fill="#e9e9ee"/>
<text x="129.5" y="657.75" font-size="11.63" textLength="62.5" lengthAdjust="spacingAndGlyphs">8" (MIN) CMU</text>
<polyline points="210,651.25 273.75,651.25 335,706"/>
<polygon points="335,706 329.83,703.53 331.97,701.14" stroke-width="0.6" fill="#e9e9ee"/>
<text x="127.5" y="688.5" font-size="11.63" textLength="127" lengthAdjust="spacingAndGlyphs">5/8" THREADED ROD WITH</text>
<text x="127.5" y="700.75" font-size="11.63" textLength="114" lengthAdjust="spacingAndGlyphs">3/8" x 1 1/2" x 1 1/2" PLATE</text>
<text x="127.5" y="713" font-size="11.63" textLength="120" lengthAdjust="spacingAndGlyphs">WASHERS AND NUTS OR</text>
<text x="127.5" y="725.25" font-size="11.63" textLength="135" lengthAdjust="spacingAndGlyphs">SIMPSON "SET OR SET-XP"</text>
<text x="127.5" y="737.5" font-size="11.63" textLength="79" lengthAdjust="spacingAndGlyphs">EPOXY.  7" MIN.</text>
<text x="127.5" y="749.75" font-size="11.63" textLength="114" lengthAdjust="spacingAndGlyphs">EMBEDMENT INTO FTG.</text>
<polyline points="262.5,700.5 292.5,700.5 351.25,737.5"/>
<polygon points="351.25,737.5 345.74,735.92 347.45,733.22" stroke-width="0.6" fill="#e9e9ee"/>
<text x="128.75" y="794" font-size="11.63" textLength="67" lengthAdjust="spacingAndGlyphs">MIN 10" DEEP</text>
<text x="128.75" y="806.9" font-size="11.63" textLength="102" lengthAdjust="spacingAndGlyphs">CONCRETE FOOTING</text>
<text x="128.75" y="819.8" font-size="11.63" textLength="84" lengthAdjust="spacingAndGlyphs">(SEE PLANS FOR</text>
<text x="128.75" y="832.7" font-size="11.63" textLength="33" lengthAdjust="spacingAndGlyphs">WIDTH)</text>
<polyline points="222,793 261.25,793 317,816"/>
<polygon points="317,816 311.31,815.38 312.53,812.42" stroke-width="0.6" fill="#e9e9ee"/>
<text x="127" y="854" font-size="11.63" textLength="103" lengthAdjust="spacingAndGlyphs">3" CONC. COVER AT</text>
<text x="127" y="866.6" font-size="11.63" textLength="103.5" lengthAdjust="spacingAndGlyphs">BOTTOM AND 6" MIN</text>
<text x="127" y="879.2" font-size="11.63" textLength="89" lengthAdjust="spacingAndGlyphs">CONC. COVER ON</text>
<text x="127" y="891.8" font-size="11.63" textLength="97" lengthAdjust="spacingAndGlyphs">SIDES OF ANCHOR.</text>
<text x="127" y="904.4" font-size="11.63" textLength="26" lengthAdjust="spacingAndGlyphs">(TYP)</text>
<polyline points="247,863 282.5,863 352.5,822.5"/>
<polygon points="352.5,822.5 348.54,826.64 346.94,823.87" stroke-width="0.6" fill="#e9e9ee"/>
<text x="493.75" y="225.6" font-size="10.47" textLength="151" lengthAdjust="spacingAndGlyphs">NOTE: FOR 3" WIDE HEADERS</text>
<text x="493.75" y="238.1" font-size="10.47" textLength="121" lengthAdjust="spacingAndGlyphs">IN 2x6 WALLS, PROVIDE</text>
<text x="493.75" y="250.6" font-size="10.47" textLength="152.5" lengthAdjust="spacingAndGlyphs">SOLID BLOCKING AT STRAPS.</text>
<polyline points="488.75,222 457.5,222 407,290"/>
<polygon points="407,290 408.99,284.63 411.56,286.54" stroke-width="0.6" fill="#e9e9ee"/>
<text x="493.75" y="279.75" font-size="10.17" textLength="140" lengthAdjust="spacingAndGlyphs">NOTE: AT INTERMEDIATE WALL</text>
<text x="493.75" y="290.85" font-size="10.17" textLength="162" lengthAdjust="spacingAndGlyphs">SEGMENTS BETWEEN OPENINGS, THE</text>
<text x="493.75" y="301.95" font-size="10.17" textLength="155" lengthAdjust="spacingAndGlyphs">STRAPS SHALL BE INSTALLED AT</text>
<text x="493.75" y="313.05" font-size="10.17" textLength="165" lengthAdjust="spacingAndGlyphs">THE STUD COLUMN ON EACH END OF</text>
<text x="493.75" y="324.15" font-size="10.17" textLength="92" lengthAdjust="spacingAndGlyphs">THE WALL SEGMENT.</text>
<polyline points="490,292 451.25,292 407,307"/>
<polygon points="407,307 411.7,303.72 412.72,306.75" stroke-width="0.6" fill="#e9e9ee"/>
<text x="478.75" y="354.25" font-size="10.17" textLength="150.75" lengthAdjust="spacingAndGlyphs">MIN. 3"x11.25" HEADER. SEE PLAN</text>
<text x="478.75" y="365.15" font-size="10.17" textLength="123" lengthAdjust="spacingAndGlyphs">FOR ACTUAL SIZE. EXTEND</text>
<text x="478.75" y="376.05" font-size="10.17" textLength="61" lengthAdjust="spacingAndGlyphs">OVER PANEL.</text>
<polyline points="476.25,366.25 461.25,366.25 441.25,316.25"/>
<polygon points="441.25,316.25 444.78,320.76 441.81,321.95" stroke-width="0.6" fill="#e9e9ee"/>
<text x="479.5" y="399.75" font-size="10.17" textLength="145" lengthAdjust="spacingAndGlyphs">FASTEN SHEATHING TO HEADER</text>
<text x="479.5" y="411.45" font-size="10.17" textLength="152" lengthAdjust="spacingAndGlyphs">W/ 8d COMMON NAILS IN 3" GRID</text>
<text x="479.5" y="423.15" font-size="10.17" textLength="132" lengthAdjust="spacingAndGlyphs">PATTERN AND 3" O.C. IN ALL</text>
<text x="479.5" y="434.85" font-size="10.17" textLength="153" lengthAdjust="spacingAndGlyphs">FRAMING (STUDS, BLOCKING, AND</text>
<text x="479.5" y="446.55" font-size="10.17" textLength="52" lengthAdjust="spacingAndGlyphs">SILLS) TYP.</text>
<text x="479.5" y="474.75" font-size="10.17" textLength="112" lengthAdjust="spacingAndGlyphs">PANEL EDGES SHALL BE</text>
<text x="479.5" y="486.2" font-size="10.17" textLength="153.5" lengthAdjust="spacingAndGlyphs">BLOCKED AND OCCUR WITHIN 24"</text>
<text x="479.5" y="497.65" font-size="10.17" textLength="134" lengthAdjust="spacingAndGlyphs">OF MID-HEIGHT.  ONE ROW OF</text>
<text x="479.5" y="509.1" font-size="10.17" textLength="134" lengthAdjust="spacingAndGlyphs">TYP. SHEATHING-TO-FRAMING</text>
<text x="479.5" y="520.55" font-size="10.17" textLength="118" lengthAdjust="spacingAndGlyphs">NAILING IS REQ'D (3" OC).</text>
<text x="479.5" y="532" font-size="10.17" textLength="152" lengthAdjust="spacingAndGlyphs">ATTACH BLOCKING TOGETHER W/</text>
<text x="479.5" y="543.45" font-size="10.17" textLength="74" lengthAdjust="spacingAndGlyphs">(3) 16d SINKERS.</text>
<text x="480" y="584" font-size="10.17" textLength="136" lengthAdjust="spacingAndGlyphs">3,500 LB HOLDOWN (SIMPSON</text>
<text x="480" y="595.4" font-size="10.17" textLength="146" lengthAdjust="spacingAndGlyphs">HTT4 HOLDOWN W/ 18-16dx2-1/2"</text>
<text x="480" y="606.8" font-size="10.17" textLength="80" lengthAdjust="spacingAndGlyphs">NAILS OR EQUAL)</text>
<polyline points="475,588.75 425,588.75 395,623.75"/>
<polygon points="395,623.75 397.36,618.53 399.79,620.62" stroke-width="0.6" fill="#e9e9ee"/>
<text x="445" y="675.75" font-size="10.9" textLength="43" lengthAdjust="spacingAndGlyphs">GARAGE</text>
<text x="445" y="687.85" font-size="10.9" textLength="60" lengthAdjust="spacingAndGlyphs">SLAB OVER</text>
<text x="445" y="699.95" font-size="10.9" textLength="60.5" lengthAdjust="spacingAndGlyphs">GRAVEL AS</text>
<text x="445" y="712.05" font-size="10.9" textLength="52.5" lengthAdjust="spacingAndGlyphs">SPECIFIED</text>
<polyline points="442.5,682.5 424.5,682.5 432.5,755"/>
<polygon points="432.5,755 430.31,749.71 433.49,749.36" stroke-width="0.6" fill="#e9e9ee"/>
<text x="513" y="822.75" font-size="10.17" textLength="70" lengthAdjust="spacingAndGlyphs">MIN. FTG WIDTH</text>
<text x="513" y="834.25" font-size="10.17" textLength="92" lengthAdjust="spacingAndGlyphs">UNDER OPENING: 12"</text>
<polyline points="511.25,823.75 462.5,812.5"/>
<polygon points="462.5,812.5 468.22,812.18 467.5,815.3" stroke-width="0.6" fill="#e9e9ee"/>
<line x1="664.5" y1="211.25" x2="664.5" y2="795"/>
<line x1="671.25" y1="211.25" x2="671.25" y2="649.5"/>
<line x1="664.5" y1="211.25" x2="807.5" y2="211.25"/>
<line x1="671.25" y1="217.5" x2="807.5" y2="217.5"/>
<line x1="671.25" y1="224.5" x2="807.5" y2="224.5"/>
<line x1="677.5" y1="224.5" x2="677.5" y2="266.25"/>
<line x1="722" y1="224.5" x2="722" y2="266.25"/>
<line x1="728" y1="224.5" x2="728" y2="266.25"/>
<line x1="798.8" y1="224.5" x2="798.8" y2="266.25"/>
<line x1="805.5" y1="224.5" x2="805.5" y2="266.25"/>
<line x1="671.25" y1="266.25" x2="807.5" y2="266.25"/>
<line x1="671.25" y1="273.75" x2="816.25" y2="273.75"/>
<line x1="671.25" y1="313.75" x2="816.25" y2="313.75"/>
<line x1="671.25" y1="320" x2="735" y2="320"/>
<line x1="680" y1="308" x2="680" y2="320.5" stroke-width="0.9"/>
<line x1="693.5" y1="308" x2="693.5" y2="320.5" stroke-width="0.9"/>
<line x1="707" y1="308" x2="707" y2="320.5" stroke-width="0.9"/>
<line x1="719.5" y1="308" x2="719.5" y2="320.5" stroke-width="0.9"/>
<line x1="677.5" y1="318.75" x2="677.5" y2="649.5"/>
<line x1="722" y1="318.75" x2="722" y2="649.5"/>
<line x1="728" y1="318.75" x2="728" y2="649.5"/>
<line x1="735" y1="224.5" x2="735" y2="795"/>
<line x1="677.5" y1="475" x2="722" y2="475"/>
<line x1="677.5" y1="481" x2="722" y2="481"/>
<line x1="677.5" y1="488.75" x2="722" y2="488.75"/>
<rect x="666.45" y="226.95" width="2.1" height="2.1" fill="#e9e9ee" stroke="none"/>
<rect x="666.45" y="239.95" width="2.1" height="2.1" fill="#e9e9ee" stroke="none"/>
<rect x="666.45" y="252.95" width="2.1" height="2.1" fill="#e9e9ee" stroke="none"/>
<rect x="666.45" y="265.95" width="2.1" height="2.1" fill="#e9e9ee" stroke="none"/>
<rect x="666.45" y="278.95" width="2.1" height="2.1" fill="#e9e9ee" stroke="none"/>
<rect x="666.45" y="291.95" width="2.1" height="2.1" fill="#e9e9ee" stroke="none"/>
<rect x="666.45" y="304.95" width="2.1" height="2.1" fill="#e9e9ee" stroke="none"/>
<rect x="666.45" y="317.95" width="2.1" height="2.1" fill="#e9e9ee" stroke="none"/>
<rect x="666.45" y="330.95" width="2.1" height="2.1" fill="#e9e9ee" stroke="none"/>
<rect x="666.45" y="343.95" width="2.1" height="2.1" fill="#e9e9ee" stroke="none"/>
<rect x="666.45" y="356.95" width="2.1" height="2.1" fill="#e9e9ee" stroke="none"/>
<rect x="666.45" y="369.95" width="2.1" height="2.1" fill="#e9e9ee" stroke="none"/>
<rect x="666.45" y="382.95" width="2.1" height="2.1" fill="#e9e9ee" stroke="none"/>
<rect x="666.45" y="395.95" width="2.1" height="2.1" fill="#e9e9ee" stroke="none"/>
<rect x="666.45" y="408.95" width="2.1" height="2.1" fill="#e9e9ee" stroke="none"/>
<rect x="666.45" y="421.95" width="2.1" height="2.1" fill="#e9e9ee" stroke="none"/>
<rect x="666.45" y="434.95" width="2.1" height="2.1" fill="#e9e9ee" stroke="none"/>
<rect x="666.45" y="447.95" width="2.1" height="2.1" fill="#e9e9ee" stroke="none"/>
<rect x="666.45" y="460.95" width="2.1" height="2.1" fill="#e9e9ee" stroke="none"/>
<rect x="666.45" y="473.95" width="2.1" height="2.1" fill="#e9e9ee" stroke="none"/>
<rect x="666.45" y="486.95" width="2.1" height="2.1" fill="#e9e9ee" stroke="none"/>
<rect x="666.45" y="499.95" width="2.1" height="2.1" fill="#e9e9ee" stroke="none"/>
<rect x="666.45" y="512.95" width="2.1" height="2.1" fill="#e9e9ee" stroke="none"/>
<rect x="666.45" y="525.95" width="2.1" height="2.1" fill="#e9e9ee" stroke="none"/>
<rect x="666.45" y="538.95" width="2.1" height="2.1" fill="#e9e9ee" stroke="none"/>
<rect x="666.45" y="551.95" width="2.1" height="2.1" fill="#e9e9ee" stroke="none"/>
<rect x="666.45" y="564.95" width="2.1" height="2.1" fill="#e9e9ee" stroke="none"/>
<rect x="666.45" y="577.95" width="2.1" height="2.1" fill="#e9e9ee" stroke="none"/>
<rect x="666.45" y="590.95" width="2.1" height="2.1" fill="#e9e9ee" stroke="none"/>
<rect x="666.45" y="603.95" width="2.1" height="2.1" fill="#e9e9ee" stroke="none"/>
<rect x="666.45" y="616.95" width="2.1" height="2.1" fill="#e9e9ee" stroke="none"/>
<rect x="666.45" y="629.95" width="2.1" height="2.1" fill="#e9e9ee" stroke="none"/>
<rect x="672.7" y="323.95" width="2.1" height="2.1" fill="#e9e9ee" stroke="none"/>
<rect x="672.7" y="336.95" width="2.1" height="2.1" fill="#e9e9ee" stroke="none"/>
<rect x="672.7" y="349.95" width="2.1" height="2.1" fill="#e9e9ee" stroke="none"/>
<rect x="672.7" y="362.95" width="2.1" height="2.1" fill="#e9e9ee" stroke="none"/>
<rect x="672.7" y="375.95" width="2.1" height="2.1" fill="#e9e9ee" stroke="none"/>
<rect x="672.7" y="388.95" width="2.1" height="2.1" fill="#e9e9ee" stroke="none"/>
<rect x="672.7" y="401.95" width="2.1" height="2.1" fill="#e9e9ee" stroke="none"/>
<rect x="672.7" y="414.95" width="2.1" height="2.1" fill="#e9e9ee" stroke="none"/>
<rect x="672.7" y="427.95" width="2.1" height="2.1" fill="#e9e9ee" stroke="none"/>
<rect x="672.7" y="440.95" width="2.1" height="2.1" fill="#e9e9ee" stroke="none"/>
<rect x="672.7" y="453.95" width="2.1" height="2.1" fill="#e9e9ee" stroke="none"/>
<rect x="672.7" y="466.95" width="2.1" height="2.1" fill="#e9e9ee" stroke="none"/>
<rect x="672.7" y="479.95" width="2.1" height="2.1" fill="#e9e9ee" stroke="none"/>
<rect x="672.7" y="492.95" width="2.1" height="2.1" fill="#e9e9ee" stroke="none"/>
<rect x="672.7" y="505.95" width="2.1" height="2.1" fill="#e9e9ee" stroke="none"/>
<rect x="672.7" y="518.95" width="2.1" height="2.1" fill="#e9e9ee" stroke="none"/>
<rect x="672.7" y="531.95" width="2.1" height="2.1" fill="#e9e9ee" stroke="none"/>
<rect x="672.7" y="544.95" width="2.1" height="2.1" fill="#e9e9ee" stroke="none"/>
<rect x="672.7" y="557.95" width="2.1" height="2.1" fill="#e9e9ee" stroke="none"/>
<rect x="672.7" y="570.95" width="2.1" height="2.1" fill="#e9e9ee" stroke="none"/>
<rect x="672.7" y="583.95" width="2.1" height="2.1" fill="#e9e9ee" stroke="none"/>
<rect x="672.7" y="596.95" width="2.1" height="2.1" fill="#e9e9ee" stroke="none"/>
<rect x="672.7" y="609.95" width="2.1" height="2.1" fill="#e9e9ee" stroke="none"/>
<rect x="672.7" y="622.95" width="2.1" height="2.1" fill="#e9e9ee" stroke="none"/>
<rect x="672.7" y="635.95" width="2.1" height="2.1" fill="#e9e9ee" stroke="none"/>
<rect x="723.95" y="323.95" width="2.1" height="2.1" fill="#e9e9ee" stroke="none"/>
<rect x="723.95" y="336.95" width="2.1" height="2.1" fill="#e9e9ee" stroke="none"/>
<rect x="723.95" y="349.95" width="2.1" height="2.1" fill="#e9e9ee" stroke="none"/>
<rect x="723.95" y="362.95" width="2.1" height="2.1" fill="#e9e9ee" stroke="none"/>
<rect x="723.95" y="375.95" width="2.1" height="2.1" fill="#e9e9ee" stroke="none"/>
<rect x="723.95" y="388.95" width="2.1" height="2.1" fill="#e9e9ee" stroke="none"/>
<rect x="723.95" y="401.95" width="2.1" height="2.1" fill="#e9e9ee" stroke="none"/>
<rect x="723.95" y="414.95" width="2.1" height="2.1" fill="#e9e9ee" stroke="none"/>
<rect x="723.95" y="427.95" width="2.1" height="2.1" fill="#e9e9ee" stroke="none"/>
<rect x="723.95" y="440.95" width="2.1" height="2.1" fill="#e9e9ee" stroke="none"/>
<rect x="723.95" y="453.95" width="2.1" height="2.1" fill="#e9e9ee" stroke="none"/>
<rect x="723.95" y="466.95" width="2.1" height="2.1" fill="#e9e9ee" stroke="none"/>
<rect x="723.95" y="479.95" width="2.1" height="2.1" fill="#e9e9ee" stroke="none"/>
<rect x="723.95" y="492.95" width="2.1" height="2.1" fill="#e9e9ee" stroke="none"/>
<rect x="723.95" y="505.95" width="2.1" height="2.1" fill="#e9e9ee" stroke="none"/>
<rect x="723.95" y="518.95" width="2.1" height="2.1" fill="#e9e9ee" stroke="none"/>
<rect x="723.95" y="531.95" width="2.1" height="2.1" fill="#e9e9ee" stroke="none"/>
<rect x="723.95" y="544.95" width="2.1" height="2.1" fill="#e9e9ee" stroke="none"/>
<rect x="723.95" y="557.95" width="2.1" height="2.1" fill="#e9e9ee" stroke="none"/>
<rect x="723.95" y="570.95" width="2.1" height="2.1" fill="#e9e9ee" stroke="none"/>
<rect x="723.95" y="583.95" width="2.1" height="2.1" fill="#e9e9ee" stroke="none"/>
<rect x="723.95" y="596.95" width="2.1" height="2.1" fill="#e9e9ee" stroke="none"/>
<rect x="723.95" y="609.95" width="2.1" height="2.1" fill="#e9e9ee" stroke="none"/>
<rect x="723.95" y="622.95" width="2.1" height="2.1" fill="#e9e9ee" stroke="none"/>
<rect x="723.95" y="635.95" width="2.1" height="2.1" fill="#e9e9ee" stroke="none"/>
<rect x="730.95" y="279.95" width="2.1" height="2.1" fill="#e9e9ee" stroke="none"/>
<rect x="730.95" y="292.95" width="2.1" height="2.1" fill="#e9e9ee" stroke="none"/>
<rect x="730.95" y="305.95" width="2.1" height="2.1" fill="#e9e9ee" stroke="none"/>
<rect x="730.95" y="318.95" width="2.1" height="2.1" fill="#e9e9ee" stroke="none"/>
<rect x="730.95" y="331.95" width="2.1" height="2.1" fill="#e9e9ee" stroke="none"/>
<rect x="730.95" y="344.95" width="2.1" height="2.1" fill="#e9e9ee" stroke="none"/>
<rect x="730.95" y="357.95" width="2.1" height="2.1" fill="#e9e9ee" stroke="none"/>
<rect x="730.95" y="370.95" width="2.1" height="2.1" fill="#e9e9ee" stroke="none"/>
<rect x="730.95" y="383.95" width="2.1" height="2.1" fill="#e9e9ee" stroke="none"/>
<rect x="730.95" y="396.95" width="2.1" height="2.1" fill="#e9e9ee" stroke="none"/>
<rect x="730.95" y="409.95" width="2.1" height="2.1" fill="#e9e9ee" stroke="none"/>
<rect x="730.95" y="422.95" width="2.1" height="2.1" fill="#e9e9ee" stroke="none"/>
<rect x="730.95" y="435.95" width="2.1" height="2.1" fill="#e9e9ee" stroke="none"/>
<rect x="730.95" y="448.95" width="2.1" height="2.1" fill="#e9e9ee" stroke="none"/>
<rect x="730.95" y="461.95" width="2.1" height="2.1" fill="#e9e9ee" stroke="none"/>
<rect x="730.95" y="474.95" width="2.1" height="2.1" fill="#e9e9ee" stroke="none"/>
<rect x="730.95" y="487.95" width="2.1" height="2.1" fill="#e9e9ee" stroke="none"/>
<rect x="730.95" y="500.95" width="2.1" height="2.1" fill="#e9e9ee" stroke="none"/>
<rect x="730.95" y="513.95" width="2.1" height="2.1" fill="#e9e9ee" stroke="none"/>
<rect x="730.95" y="526.95" width="2.1" height="2.1" fill="#e9e9ee" stroke="none"/>
<rect x="730.95" y="539.95" width="2.1" height="2.1" fill="#e9e9ee" stroke="none"/>
<rect x="730.95" y="552.95" width="2.1" height="2.1" fill="#e9e9ee" stroke="none"/>
<rect x="730.95" y="565.95" width="2.1" height="2.1" fill="#e9e9ee" stroke="none"/>
<rect x="730.95" y="578.95" width="2.1" height="2.1" fill="#e9e9ee" stroke="none"/>
<rect x="730.95" y="591.95" width="2.1" height="2.1" fill="#e9e9ee" stroke="none"/>
<rect x="730.95" y="604.95" width="2.1" height="2.1" fill="#e9e9ee" stroke="none"/>
<rect x="730.95" y="617.95" width="2.1" height="2.1" fill="#e9e9ee" stroke="none"/>
<rect x="730.95" y="630.95" width="2.1" height="2.1" fill="#e9e9ee" stroke="none"/>
<rect x="679.85" y="276.15" width="2.1" height="2.1" fill="#e9e9ee" stroke="none"/>
<rect x="693.15" y="276.15" width="2.1" height="2.1" fill="#e9e9ee" stroke="none"/>
<rect x="706.45" y="276.15" width="2.1" height="2.1" fill="#e9e9ee" stroke="none"/>
<rect x="719.75" y="276.15" width="2.1" height="2.1" fill="#e9e9ee" stroke="none"/>
<rect x="731.15" y="276.15" width="2.1" height="2.1" fill="#e9e9ee" stroke="none"/>
<rect x="679.85" y="287.05" width="2.1" height="2.1" fill="#e9e9ee" stroke="none"/>
<rect x="693.15" y="287.05" width="2.1" height="2.1" fill="#e9e9ee" stroke="none"/>
<rect x="706.45" y="287.05" width="2.1" height="2.1" fill="#e9e9ee" stroke="none"/>
<rect x="719.75" y="287.05" width="2.1" height="2.1" fill="#e9e9ee" stroke="none"/>
<rect x="731.15" y="287.05" width="2.1" height="2.1" fill="#e9e9ee" stroke="none"/>
<rect x="679.85" y="297.95" width="2.1" height="2.1" fill="#e9e9ee" stroke="none"/>
<rect x="693.15" y="297.95" width="2.1" height="2.1" fill="#e9e9ee" stroke="none"/>
<rect x="706.45" y="297.95" width="2.1" height="2.1" fill="#e9e9ee" stroke="none"/>
<rect x="719.75" y="297.95" width="2.1" height="2.1" fill="#e9e9ee" stroke="none"/>
<rect x="731.15" y="297.95" width="2.1" height="2.1" fill="#e9e9ee" stroke="none"/>
<rect x="679.85" y="308.85" width="2.1" height="2.1" fill="#e9e9ee" stroke="none"/>
<rect x="693.15" y="308.85" width="2.1" height="2.1" fill="#e9e9ee" stroke="none"/>
<rect x="706.45" y="308.85" width="2.1" height="2.1" fill="#e9e9ee" stroke="none"/>
<rect x="719.75" y="308.85" width="2.1" height="2.1" fill="#e9e9ee" stroke="none"/>
<rect x="731.15" y="308.85" width="2.1" height="2.1" fill="#e9e9ee" stroke="none"/>
<rect x="682" y="477.5" width="2" height="2" fill="#e9e9ee" stroke="none"/>
<rect x="682" y="485" width="2" height="2" fill="#e9e9ee" stroke="none"/>
<rect x="692" y="477.5" width="2" height="2" fill="#e9e9ee" stroke="none"/>
<rect x="692" y="485" width="2" height="2" fill="#e9e9ee" stroke="none"/>
<rect x="702" y="477.5" width="2" height="2" fill="#e9e9ee" stroke="none"/>
<rect x="702" y="485" width="2" height="2" fill="#e9e9ee" stroke="none"/>
<rect x="712" y="477.5" width="2" height="2" fill="#e9e9ee" stroke="none"/>
<rect x="712" y="485" width="2" height="2" fill="#e9e9ee" stroke="none"/>
<rect x="722" y="477.5" width="2" height="2" fill="#e9e9ee" stroke="none"/>
<rect x="722" y="485" width="2" height="2" fill="#e9e9ee" stroke="none"/>
<line x1="664.5" y1="225.3" x2="678.55" y2="211.25" stroke-width="0.9"/>
<line x1="664.5" y1="251.2" x2="672.5" y2="243.2" stroke-width="0.9"/>
<line x1="686" y1="229.7" x2="704.45" y2="211.25" stroke-width="0.9"/>
<line x1="676.2" y1="265.4" x2="708.2" y2="233.4" stroke-width="0.9"/>
<line x1="721.7" y1="219.9" x2="730.35" y2="211.25" stroke-width="0.9"/>
<line x1="693.75" y1="273.75" x2="698.4" y2="269.1" stroke-width="0.9"/>
<line x1="711.9" y1="255.6" x2="743.9" y2="223.6" stroke-width="0.9"/>
<line x1="719.65" y1="273.75" x2="734.1" y2="259.3" stroke-width="0.9"/>
<line x1="747.6" y1="245.8" x2="779.6" y2="213.8" stroke-width="0.9"/>
<line x1="745.55" y1="273.75" x2="769.8" y2="249.5" stroke-width="0.9"/>
<line x1="783.3" y1="236" x2="807.5" y2="211.8" stroke-width="0.9"/>
<line x1="773.5" y1="271.7" x2="805.5" y2="239.7" stroke-width="0.9"/>
<line x1="737.8" y1="281.5" x2="745.55" y2="273.75" stroke-width="0.9"/>
<line x1="735" y1="310.2" x2="760" y2="285.2" stroke-width="0.9"/>
<line x1="763.7" y1="307.4" x2="795.7" y2="275.4" stroke-width="0.9"/>
<line x1="783.25" y1="313.75" x2="785.9" y2="311.1" stroke-width="0.9"/>
<line x1="799.4" y1="297.6" x2="816.25" y2="280.75" stroke-width="0.9"/>
<line x1="809.15" y1="313.75" x2="816.25" y2="306.65" stroke-width="0.9"/>
<line x1="666.4" y1="301.1" x2="693.75" y2="273.75" stroke-width="0.9"/>
<line x1="679.65" y1="313.75" x2="688.6" y2="304.8" stroke-width="0.9"/>
<line x1="702.1" y1="291.3" x2="719.65" y2="273.75" stroke-width="0.9"/>
<line x1="705.55" y1="313.75" x2="724.3" y2="295" stroke-width="0.9"/>
<line x1="731.45" y1="313.75" x2="735" y2="310.2" stroke-width="0.9"/>
<line x1="664.5" y1="328.9" x2="674.65" y2="318.75" stroke-width="0.9"/>
<line x1="664.5" y1="354.8" x2="678.8" y2="340.5" stroke-width="0.9"/>
<line x1="692.3" y1="327" x2="700.55" y2="318.75" stroke-width="0.9"/>
<line x1="664.5" y1="380.7" x2="669" y2="376.2" stroke-width="0.9"/>
<line x1="682.5" y1="362.7" x2="714.5" y2="330.7" stroke-width="0.9"/>
<line x1="672.7" y1="398.4" x2="704.7" y2="366.4" stroke-width="0.9"/>
<line x1="718.2" y1="352.9" x2="735" y2="336.1" stroke-width="0.9"/>
<line x1="664.5" y1="432.5" x2="694.9" y2="402.1" stroke-width="0.9"/>
<line x1="708.4" y1="388.6" x2="735" y2="362" stroke-width="0.9"/>
<line x1="664.5" y1="458.4" x2="685.1" y2="437.8" stroke-width="0.9"/>
<line x1="698.6" y1="424.3" x2="730.6" y2="392.3" stroke-width="0.9"/>
<line x1="664.5" y1="484.3" x2="675.3" y2="473.5" stroke-width="0.9"/>
<line x1="688.8" y1="460" x2="720.8" y2="428" stroke-width="0.9"/>
<line x1="679" y1="495.7" x2="711" y2="463.7" stroke-width="0.9"/>
<line x1="724.5" y1="450.2" x2="735" y2="439.7" stroke-width="0.9"/>
<line x1="669.2" y1="531.4" x2="701.2" y2="499.4" stroke-width="0.9"/>
<line x1="714.7" y1="485.9" x2="735" y2="465.6" stroke-width="0.9"/>
<line x1="664.5" y1="562" x2="691.4" y2="535.1" stroke-width="0.9"/>
<line x1="704.9" y1="521.6" x2="735" y2="491.5" stroke-width="0.9"/>
<line x1="664.5" y1="587.9" x2="681.6" y2="570.8" stroke-width="0.9"/>
<line x1="695.1" y1="557.3" x2="727.1" y2="525.3" stroke-width="0.9"/>
<line x1="664.5" y1="613.8" x2="671.8" y2="606.5" stroke-width="0.9"/>
<line x1="685.3" y1="593" x2="717.3" y2="561" stroke-width="0.9"/>
<line x1="730.8" y1="547.5" x2="735" y2="543.3" stroke-width="0.9"/>
<line x1="675.5" y1="628.7" x2="707.5" y2="596.7" stroke-width="0.9"/>
<line x1="721" y1="583.2" x2="735" y2="569.2" stroke-width="0.9"/>
<line x1="690.1" y1="640" x2="697.7" y2="632.4" stroke-width="0.9"/>
<line x1="711.2" y1="618.9" x2="735" y2="595.1" stroke-width="0.9"/>
<line x1="716" y1="640" x2="733.4" y2="622.6" stroke-width="0.9"/>
<text x="750.5" y="361" font-size="10.17" textLength="43" lengthAdjust="spacingAndGlyphs">6' TO 18'</text>
<line x1="735" y1="363.25" x2="815" y2="363.25"/>
<polygon points="815,363.25 809.5,364.85 809.5,361.65" stroke-width="0.6" fill="#e9e9ee"/>
<polyline points="635,435 653.75,435 702.5,310"/>
<polygon points="702.5,310 701.99,315.71 699.01,314.54" stroke-width="0.6" fill="#e9e9ee"/>
<polyline points="622.5,512 686.25,512 697.5,491.25"/>
<polygon points="697.5,491.25 696.29,496.85 693.47,495.32" stroke-width="0.6" fill="#e9e9ee"/>
<text x="751.25" y="569.75" font-size="10.17" textLength="101" lengthAdjust="spacingAndGlyphs">MIN 7/16" THICK WOOD</text>
<text x="751.25" y="580.75" font-size="10.17" textLength="89" lengthAdjust="spacingAndGlyphs">STRUCTURAL PANEL</text>
<text x="751.25" y="591.75" font-size="10.17" textLength="48" lengthAdjust="spacingAndGlyphs">SHEATHING</text>
<polyline points="747.5,578 715,578 697.5,552.5"/>
<polygon points="697.5,552.5 701.93,556.13 699.29,557.94" stroke-width="0.6" fill="#e9e9ee"/>
<text x="771.25" y="620.75" font-size="11.63" textLength="73" lengthAdjust="spacingAndGlyphs">(2) 2x PLATES</text>
<polyline points="767.5,616.25 745,616.25 707.5,634.5"/>
<polygon points="707.5,634.5 711.75,630.65 713.15,633.53" stroke-width="0.6" fill="#e9e9ee"/>
<text x="770.75" y="676.25" font-size="10.9" textLength="93" lengthAdjust="spacingAndGlyphs">TREATED SILLPLATE</text>
<polyline points="767.5,672.5 732.5,672.5 713.75,656.25"/>
<polygon points="713.75,656.25 718.95,658.64 716.86,661.06" stroke-width="0.6" fill="#e9e9ee"/>
<line x1="671.25" y1="642.5" x2="728" y2="642.5"/>
<line x1="678" y1="621" x2="685.9" y2="640"/>
<line x1="719.8" y1="621" x2="713" y2="639"/>
<line x1="666" y1="573.5" x2="666" y2="636" stroke-width="0.9"/>
<line x1="677" y1="573.5" x2="677" y2="636" stroke-width="0.9"/>
<line x1="666" y1="573.5" x2="677" y2="573.5" stroke-width="0.8"/>
<line x1="666" y1="576.6" x2="677" y2="576.6" stroke-width="0.8"/>
<line x1="666" y1="579.7" x2="677" y2="579.7" stroke-width="0.8"/>
<line x1="666" y1="582.8" x2="677" y2="582.8" stroke-width="0.8"/>
<line x1="666" y1="585.9" x2="677" y2="585.9" stroke-width="0.8"/>
<line x1="666" y1="589" x2="677" y2="589" stroke-width="0.8"/>
<line x1="666" y1="592.1" x2="677" y2="592.1" stroke-width="0.8"/>
<line x1="666" y1="595.2" x2="677" y2="595.2" stroke-width="0.8"/>
<line x1="666" y1="598.3" x2="677" y2="598.3" stroke-width="0.8"/>
<line x1="666" y1="601.4" x2="677" y2="601.4" stroke-width="0.8"/>
<line x1="666" y1="604.5" x2="677" y2="604.5" stroke-width="0.8"/>
<line x1="666" y1="607.6" x2="677" y2="607.6" stroke-width="0.8"/>
<line x1="666" y1="610.7" x2="677" y2="610.7" stroke-width="0.8"/>
<line x1="666" y1="613.8" x2="677" y2="613.8" stroke-width="0.8"/>
<line x1="666" y1="616.9" x2="677" y2="616.9" stroke-width="0.8"/>
<line x1="666" y1="620" x2="677" y2="620" stroke-width="0.8"/>
<line x1="666" y1="623.1" x2="677" y2="623.1" stroke-width="0.8"/>
<line x1="666" y1="626.2" x2="677" y2="626.2" stroke-width="0.8"/>
<line x1="666" y1="629.3" x2="677" y2="629.3" stroke-width="0.8"/>
<line x1="666" y1="632.4" x2="677" y2="632.4" stroke-width="0.8"/>
<line x1="666" y1="635.5" x2="677" y2="635.5" stroke-width="0.8"/>
<line x1="722" y1="573.5" x2="722" y2="636" stroke-width="0.9"/>
<line x1="733" y1="573.5" x2="733" y2="636" stroke-width="0.9"/>
<line x1="722" y1="573.5" x2="733" y2="573.5" stroke-width="0.8"/>
<line x1="722" y1="576.6" x2="733" y2="576.6" stroke-width="0.8"/>
<line x1="722" y1="579.7" x2="733" y2="579.7" stroke-width="0.8"/>
<line x1="722" y1="582.8" x2="733" y2="582.8" stroke-width="0.8"/>
<line x1="722" y1="585.9" x2="733" y2="585.9" stroke-width="0.8"/>
<line x1="722" y1="589" x2="733" y2="589" stroke-width="0.8"/>
<line x1="722" y1="592.1" x2="733" y2="592.1" stroke-width="0.8"/>
<line x1="722" y1="595.2" x2="733" y2="595.2" stroke-width="0.8"/>
<line x1="722" y1="598.3" x2="733" y2="598.3" stroke-width="0.8"/>
<line x1="722" y1="601.4" x2="733" y2="601.4" stroke-width="0.8"/>
<line x1="722" y1="604.5" x2="733" y2="604.5" stroke-width="0.8"/>
<line x1="722" y1="607.6" x2="733" y2="607.6" stroke-width="0.8"/>
<line x1="722" y1="610.7" x2="733" y2="610.7" stroke-width="0.8"/>
<line x1="722" y1="613.8" x2="733" y2="613.8" stroke-width="0.8"/>
<line x1="722" y1="616.9" x2="733" y2="616.9" stroke-width="0.8"/>
<line x1="722" y1="620" x2="733" y2="620" stroke-width="0.8"/>
<line x1="722" y1="623.1" x2="733" y2="623.1" stroke-width="0.8"/>
<line x1="722" y1="626.2" x2="733" y2="626.2" stroke-width="0.8"/>
<line x1="722" y1="629.3" x2="733" y2="629.3" stroke-width="0.8"/>
<line x1="722" y1="632.4" x2="733" y2="632.4" stroke-width="0.8"/>
<line x1="722" y1="635.5" x2="733" y2="635.5" stroke-width="0.8"/>
<line x1="664.5" y1="649.5" x2="735" y2="649.5"/>
<line x1="664.5" y1="655.5" x2="735" y2="655.5"/>
<rect x="680.4" y="638.5" width="3.2" height="181.5" stroke-width="0.8" fill="#c9c9cf"/>
<ellipse cx="682" cy="820" rx="3" ry="1.8" fill="#e9e9ee"/>
<rect x="679" y="637" width="6" height="4" stroke-width="0.8" fill="#e9e9ee"/>
<rect x="715.4" y="638.5" width="3.2" height="181.5" stroke-width="0.8" fill="#c9c9cf"/>
<ellipse cx="717" cy="820" rx="3" ry="1.8" fill="#e9e9ee"/>
<rect x="714" y="637" width="6" height="4" stroke-width="0.8" fill="#e9e9ee"/>
<polyline points="698.5,640 698.5,684 704,684" stroke-width="2.4" stroke="#cfcfd4"/>
<rect x="666" y="679.2" width="66.5" height="3.1" stroke-width="0.7" fill="#cfcfd4"/>
<line x1="664.5" y1="688.75" x2="735" y2="688.75" stroke-width="0.9"/>
<line x1="664.5" y1="691.25" x2="735" y2="691.25" stroke-width="0.9"/>
<line x1="664.5" y1="723.75" x2="735" y2="723.75" stroke-width="0.9"/>
<line x1="664.5" y1="726.25" x2="735" y2="726.25" stroke-width="0.9"/>
<line x1="664.5" y1="758.75" x2="735" y2="758.75" stroke-width="0.9"/>
<line x1="664.5" y1="761.25" x2="735" y2="761.25" stroke-width="0.9"/>
<line x1="664.5" y1="795" x2="735" y2="795"/>
<line x1="700.5" y1="691.25" x2="700.5" y2="723.75" stroke-width="0.9"/>
<line x1="703" y1="691.25" x2="703" y2="723.75" stroke-width="0.9"/>
<line x1="700.5" y1="761.25" x2="700.5" y2="795" stroke-width="0.9"/>
<line x1="703" y1="761.25" x2="703" y2="795" stroke-width="0.9"/>
<rect x="735" y="756.25" width="95" height="17.5"/>
<circle cx="818.63" cy="760.34" r="0.9" stroke-width="0" fill="#e9e9ee"/>
<circle cx="797.08" cy="760.18" r="0.9" stroke-width="0" fill="#e9e9ee"/>
<circle cx="825.05" cy="761.21" r="0.9" stroke-width="0" fill="#e9e9ee"/>
<circle cx="773.24" cy="764.83" r="0.9" stroke-width="0" fill="#e9e9ee"/>
<polygon points="812.75,759.33 811.65,761.33 813.85,761.33" stroke-width="0.6" fill="#e9e9ee"/>
<polygon points="783.92,761.73 782.82,763.73 785.02,763.73" stroke-width="0.6" fill="#e9e9ee"/>
<polygon points="765.99,766.9 764.89,768.9 767.09,768.9" stroke-width="0.6" fill="#e9e9ee"/>
<polygon points="787.42,763.1 786.32,765.1 788.52,765.1" stroke-width="0.6" fill="#e9e9ee"/>
<circle cx="767.17" cy="766.67" r="0.9" stroke-width="0" fill="#e9e9ee"/>
<ellipse cx="737.9" cy="778.35" rx="2.51" ry="2.08" stroke-width="0.85" transform="rotate(14.15 737.9 778)"/>
<ellipse cx="744.72" cy="778.33" rx="2.66" ry="1.63" stroke-width="0.85" transform="rotate(-6.89 744.72 778)"/>
<ellipse cx="751.57" cy="778.38" rx="2.77" ry="2.05" stroke-width="0.85" transform="rotate(-7.24 751.57 778)"/>
<ellipse cx="758.45" cy="778.24" rx="3.13" ry="1.89" stroke-width="0.85" transform="rotate(-12.32 758.45 778)"/>
<ellipse cx="765.19" cy="777.49" rx="2.96" ry="1.82" stroke-width="0.85" transform="rotate(13.15 765.19 778)"/>
<ellipse cx="772.79" cy="778.43" rx="3.05" ry="1.65" stroke-width="0.85" transform="rotate(-13 772.79 778)"/>
<ellipse cx="780.73" cy="778.06" rx="2.79" ry="1.78" stroke-width="0.85" transform="rotate(12.8 780.73 778)"/>
<ellipse cx="787.79" cy="777.69" rx="2.56" ry="1.87" stroke-width="0.85" transform="rotate(-11.72 787.79 778)"/>
<ellipse cx="794.68" cy="777.77" rx="2.5" ry="1.71" stroke-width="0.85" transform="rotate(-5.85 794.68 778)"/>
<ellipse cx="802.47" cy="777.61" rx="2.68" ry="1.85" stroke-width="0.85" transform="rotate(-4.59 802.47 778)"/>
<ellipse cx="809.16" cy="778.28" rx="2.65" ry="1.62" stroke-width="0.85" transform="rotate(1.53 809.16 778)"/>
<ellipse cx="816.1" cy="777.53" rx="2.81" ry="2.06" stroke-width="0.85" transform="rotate(9.57 816.1 778)"/>
<ellipse cx="823.4" cy="777.87" rx="2.82" ry="2.01" stroke-width="0.85" transform="rotate(0.2 823.4 778)"/>
<ellipse cx="743.8" cy="786.47" rx="4.71" ry="3.09" stroke-width="0.85" transform="rotate(6.2 743.8 786.08)"/>
<ellipse cx="753.04" cy="785.54" rx="4.09" ry="3.09" stroke-width="0.85" transform="rotate(-11.11 753.04 786.08)"/>
<ellipse cx="761.27" cy="785.67" rx="4.45" ry="3.02" stroke-width="0.85" transform="rotate(-12.47 761.27 786.08)"/>
<ellipse cx="770.89" cy="785.81" rx="4.59" ry="3.36" stroke-width="0.85" transform="rotate(-7.73 770.89 786.08)"/>
<ellipse cx="779.51" cy="786.01" rx="4.15" ry="2.93" stroke-width="0.85" transform="rotate(-7.1 779.51 786.08)"/>
<ellipse cx="789.35" cy="785.77" rx="4.7" ry="3.26" stroke-width="0.85" transform="rotate(13.97 789.35 786.08)"/>
<ellipse cx="798" cy="785.93" rx="4.04" ry="2.81" stroke-width="0.85" transform="rotate(-0.76 798 786.08)"/>
<ellipse cx="807.01" cy="785.48" rx="3.87" ry="3.22" stroke-width="0.85" transform="rotate(-7.07 807.01 786.08)"/>
<ellipse cx="815.27" cy="785.5" rx="4.08" ry="2.84" stroke-width="0.85" transform="rotate(-5.87 815.27 786.08)"/>
<ellipse cx="823.79" cy="786.38" rx="4.28" ry="3.24" stroke-width="0.85" transform="rotate(4.73 823.79 786.08)"/>
<ellipse cx="738.4" cy="792.24" rx="3.64" ry="1.71" stroke-width="0.85" transform="rotate(14.54 738.4 792.45)"/>
<ellipse cx="746.03" cy="791.9" rx="3.51" ry="1.82" stroke-width="0.85" transform="rotate(10.06 746.03 792.45)"/>
<ellipse cx="754.87" cy="792.82" rx="3.42" ry="1.86" stroke-width="0.85" transform="rotate(-10.82 754.87 792.45)"/>
<ellipse cx="763.11" cy="792.82" rx="3.32" ry="1.91" stroke-width="0.85" transform="rotate(9.79 763.11 792.45)"/>
<ellipse cx="771.44" cy="792.68" rx="3.65" ry="1.84" stroke-width="0.85" transform="rotate(-8.1 771.44 792.45)"/>
<ellipse cx="778.88" cy="791.98" rx="3" ry="1.69" stroke-width="0.85" transform="rotate(10.07 778.88 792.45)"/>
<ellipse cx="787.17" cy="792.67" rx="3.42" ry="1.81" stroke-width="0.85" transform="rotate(-0.32 787.17 792.45)"/>
<ellipse cx="794.56" cy="792.45" rx="3.57" ry="1.87" stroke-width="0.85" transform="rotate(1.06 794.56 792.45)"/>
<ellipse cx="803.02" cy="792.15" rx="2.95" ry="1.86" stroke-width="0.85" transform="rotate(-12.77 803.02 792.45)"/>
<ellipse cx="810.83" cy="792.74" rx="3.51" ry="1.62" stroke-width="0.85" transform="rotate(14.27 810.83 792.45)"/>
<ellipse cx="819.02" cy="792.67" rx="3.22" ry="1.75" stroke-width="0.85" transform="rotate(8.01 819.02 792.45)"/>
<ellipse cx="827.42" cy="792.03" rx="3.44" ry="1.56" stroke-width="0.85" transform="rotate(-7.38 827.42 792.45)"/>
<line x1="735" y1="795" x2="830" y2="795"/>
<rect x="646.25" y="796.25" width="183.75" height="35"/>
<polygon points="702.97,814.75 701.87,816.75 704.07,816.75" stroke-width="0.6" fill="#e9e9ee"/>
<circle cx="659.15" cy="806.58" r="0.8" stroke-width="0" fill="#e9e9ee"/>
<polygon points="772.67,818.1 771.57,820.1 773.77,820.1" stroke-width="0.6" fill="#e9e9ee"/>
<polygon points="741.1,811.55 740,813.55 742.2,813.55" stroke-width="0.6" fill="#e9e9ee"/>
<polygon points="669.55,824.85 668.45,826.85 670.65,826.85" stroke-width="0.6" fill="#e9e9ee"/>
<polygon points="824.07,826.17 822.97,828.17 825.17,828.17" stroke-width="0.6" fill="#e9e9ee"/>
<circle cx="730.75" cy="823.67" r="0.8" stroke-width="0" fill="#e9e9ee"/>
<polygon points="729.04,805.48 727.94,807.48 730.14,807.48" stroke-width="0.6" fill="#e9e9ee"/>
<circle cx="818.22" cy="804.78" r="0.8" stroke-width="0" fill="#e9e9ee"/>
<circle cx="673.73" cy="814.5" r="0.8" stroke-width="0" fill="#e9e9ee"/>
<circle cx="672.09" cy="823.68" r="0.8" stroke-width="0" fill="#e9e9ee"/>
<polygon points="807.66,818.95 806.56,820.95 808.76,820.95" stroke-width="0.6" fill="#e9e9ee"/>
<polygon points="809.61,812.22 808.51,814.22 810.71,814.22" stroke-width="0.6" fill="#e9e9ee"/>
<polygon points="648.9,812.39 647.8,814.39 650,814.39" stroke-width="0.6" fill="#e9e9ee"/>
<polygon points="702.53,801.51 701.43,803.51 703.63,803.51" stroke-width="0.6" fill="#e9e9ee"/>
<polygon points="705.07,823.2 703.97,825.2 706.17,825.2" stroke-width="0.6" fill="#e9e9ee"/>
<polygon points="783.19,823.16 782.09,825.16 784.29,825.16" stroke-width="0.6" fill="#e9e9ee"/>
<circle cx="814.77" cy="820.35" r="0.8" stroke-width="0" fill="#e9e9ee"/>
<polygon points="700.35,808.69 699.25,810.69 701.45,810.69" stroke-width="0.6" fill="#e9e9ee"/>
<polygon points="827.78,815.41 826.68,817.41 828.88,817.41" stroke-width="0.6" fill="#e9e9ee"/>
<polygon points="725.19,805.68 724.09,807.68 726.29,807.68" stroke-width="0.6" fill="#e9e9ee"/>
<polygon points="666.53,823.02 665.43,825.02 667.63,825.02" stroke-width="0.6" fill="#e9e9ee"/>
<polygon points="816.42,804.88 815.32,806.88 817.52,806.88" stroke-width="0.6" fill="#e9e9ee"/>
<polygon points="740.1,803.04 739,805.04 741.2,805.04" stroke-width="0.6" fill="#e9e9ee"/>
<circle cx="820.12" cy="825.66" r="0.8" stroke-width="0" fill="#e9e9ee"/>
<circle cx="761.65" cy="826.57" r="0.8" stroke-width="0" fill="#e9e9ee"/>
<polygon points="746.97,819.46 745.87,821.46 748.07,821.46" stroke-width="0.6" fill="#e9e9ee"/>
<circle cx="779.89" cy="812.23" r="0.8" stroke-width="0" fill="#e9e9ee"/>
<polygon points="764.1,806.02 763,808.02 765.2,808.02" stroke-width="0.6" fill="#e9e9ee"/>
<polygon points="814.84,801.1 813.74,803.1 815.94,803.1" stroke-width="0.6" fill="#e9e9ee"/>
<circle cx="710.02" cy="807.48" r="0.8" stroke-width="0" fill="#e9e9ee"/>
<circle cx="823.74" cy="806.32" r="0.8" stroke-width="0" fill="#e9e9ee"/>
<polygon points="702.33,814.43 701.23,816.43 703.43,816.43" stroke-width="0.6" fill="#e9e9ee"/>
<polygon points="678.33,802.16 677.23,804.16 679.43,804.16" stroke-width="0.6" fill="#e9e9ee"/>
<line x1="830.5" y1="721.25" x2="830.5" y2="843.75"/>
<polyline points="610,757 631.5,756 647.62,755 663.75,753.5" stroke-width="1"/>
<line x1="610.5" y1="758.5" x2="618.1" y2="758.5" stroke-width="0.85"/>
<line x1="610.5" y1="762.46" x2="618.1" y2="762.46" stroke-width="0.85"/>
<line x1="610.5" y1="766.42" x2="618.1" y2="766.42" stroke-width="0.85"/>
<line x1="619.8" y1="757.5" x2="619.8" y2="768" stroke-width="0.85"/>
<line x1="622.8" y1="757.5" x2="622.8" y2="768" stroke-width="0.85"/>
<line x1="625.8" y1="757.5" x2="625.8" y2="768" stroke-width="0.85"/>
<line x1="627.7" y1="758.5" x2="635.3" y2="758.5" stroke-width="0.85"/>
<line x1="627.7" y1="762.46" x2="635.3" y2="762.46" stroke-width="0.85"/>
<line x1="627.7" y1="766.42" x2="635.3" y2="766.42" stroke-width="0.85"/>
<line x1="637" y1="757.5" x2="637" y2="768" stroke-width="0.85"/>
<line x1="640" y1="757.5" x2="640" y2="768" stroke-width="0.85"/>
<line x1="643" y1="757.5" x2="643" y2="768" stroke-width="0.85"/>
<line x1="644.9" y1="758.5" x2="652.5" y2="758.5" stroke-width="0.85"/>
<line x1="644.9" y1="762.46" x2="652.5" y2="762.46" stroke-width="0.85"/>
<line x1="644.9" y1="766.42" x2="652.5" y2="766.42" stroke-width="0.85"/>
<line x1="654.2" y1="757.5" x2="654.2" y2="768" stroke-width="0.85"/>
<line x1="657.2" y1="757.5" x2="657.2" y2="768" stroke-width="0.85"/>
<line x1="660.2" y1="757.5" x2="660.2" y2="768" stroke-width="0.85"/>
<line x1="662.1" y1="758.5" x2="663.25" y2="758.5" stroke-width="0.85"/>
<line x1="662.1" y1="762.46" x2="663.25" y2="762.46" stroke-width="0.85"/>
<line x1="662.1" y1="766.42" x2="663.25" y2="766.42" stroke-width="0.85"/>
<line x1="611.2" y1="769" x2="611.2" y2="779.5" stroke-width="0.85"/>
<line x1="614.2" y1="769" x2="614.2" y2="779.5" stroke-width="0.85"/>
<line x1="617.2" y1="769" x2="617.2" y2="779.5" stroke-width="0.85"/>
<line x1="619.1" y1="770" x2="626.7" y2="770" stroke-width="0.85"/>
<line x1="619.1" y1="773.96" x2="626.7" y2="773.96" stroke-width="0.85"/>
<line x1="619.1" y1="777.92" x2="626.7" y2="777.92" stroke-width="0.85"/>
<line x1="628.4" y1="769" x2="628.4" y2="779.5" stroke-width="0.85"/>
<line x1="631.4" y1="769" x2="631.4" y2="779.5" stroke-width="0.85"/>
<line x1="634.4" y1="769" x2="634.4" y2="779.5" stroke-width="0.85"/>
<line x1="636.3" y1="770" x2="643.9" y2="770" stroke-width="0.85"/>
<line x1="636.3" y1="773.96" x2="643.9" y2="773.96" stroke-width="0.85"/>
<line x1="636.3" y1="777.92" x2="643.9" y2="777.92" stroke-width="0.85"/>
<line x1="645.6" y1="769" x2="645.6" y2="779.5" stroke-width="0.85"/>
<line x1="648.6" y1="769" x2="648.6" y2="779.5" stroke-width="0.85"/>
<line x1="651.6" y1="769" x2="651.6" y2="779.5" stroke-width="0.85"/>
<line x1="653.5" y1="770" x2="661.1" y2="770" stroke-width="0.85"/>
<line x1="653.5" y1="773.96" x2="661.1" y2="773.96" stroke-width="0.85"/>
<line x1="653.5" y1="777.92" x2="661.1" y2="777.92" stroke-width="0.85"/>
<line x1="662.8" y1="769" x2="662.8" y2="779.5" stroke-width="0.85"/>
<line x1="662.87" y1="769" x2="662.87" y2="779.5" stroke-width="0.85"/>
<line x1="662.94" y1="769" x2="662.94" y2="779.5" stroke-width="0.85"/>
<rect x="676.25" y="851.25" width="129.25" height="25"/>
<text x="685" y="869.5" font-size="14.53" textLength="95" lengthAdjust="spacingAndGlyphs" class="mid">EXTERIOR VIEW</text>
<line x1="1267.5" y1="405.75" x2="1510" y2="405.75"/>
<line x1="1267.5" y1="414.5" x2="1510" y2="414.5"/>
<line x1="1267.5" y1="423.25" x2="1510" y2="423.25"/>
<line x1="1301.25" y1="423.25" x2="1301.25" y2="461.25"/>
<line x1="1308.75" y1="423.25" x2="1308.75" y2="461.25"/>
<line x1="1267.5" y1="461.25" x2="1383.75" y2="461.25"/>
<line x1="1483.75" y1="423.25" x2="1483.75" y2="950"/>
<line x1="1492.5" y1="423.25" x2="1492.5" y2="950"/>
<line x1="1267.5" y1="515" x2="1375" y2="515"/>
<line x1="1375" y1="515" x2="1375" y2="950"/>
<line x1="1383.75" y1="606" x2="1383.75" y2="950"/>
<line x1="1392.5" y1="606" x2="1392.5" y2="950"/>
<line x1="1401.25" y1="606" x2="1401.25" y2="950"/>
<line x1="1385" y1="587.5" x2="1403" y2="587.5" stroke-width="1"/>
<circle cx="1403" cy="587.5" r="0.9" fill="#e9e9ee"/>
<line x1="1385" y1="621.75" x2="1403" y2="621.75" stroke-width="1"/>
<circle cx="1403" cy="621.75" r="0.9" fill="#e9e9ee"/>
<line x1="1385" y1="656" x2="1403" y2="656" stroke-width="1"/>
<circle cx="1403" cy="656" r="0.9" fill="#e9e9ee"/>
<line x1="1385" y1="690.25" x2="1403" y2="690.25" stroke-width="1"/>
<circle cx="1403" cy="690.25" r="0.9" fill="#e9e9ee"/>
<line x1="1385" y1="724.5" x2="1403" y2="724.5" stroke-width="1"/>
<circle cx="1403" cy="724.5" r="0.9" fill="#e9e9ee"/>
<line x1="1385" y1="758.75" x2="1403" y2="758.75" stroke-width="1"/>
<circle cx="1403" cy="758.75" r="0.9" fill="#e9e9ee"/>
<line x1="1385" y1="793" x2="1403" y2="793" stroke-width="1"/>
<circle cx="1403" cy="793" r="0.9" fill="#e9e9ee"/>
<line x1="1385" y1="827.25" x2="1403" y2="827.25" stroke-width="1"/>
<circle cx="1403" cy="827.25" r="0.9" fill="#e9e9ee"/>
<line x1="1385" y1="861.5" x2="1403" y2="861.5" stroke-width="1"/>
<circle cx="1403" cy="861.5" r="0.9" fill="#e9e9ee"/>
<line x1="1385" y1="895.75" x2="1403" y2="895.75" stroke-width="1"/>
<circle cx="1403" cy="895.75" r="0.9" fill="#e9e9ee"/>
<rect x="1383.75" y="406.25" width="9.38" height="200" rx="2.5" fill="#3a3b22" stroke="#e8ec40" stroke-width="1.9"/>
<rect x="1393.12" y="406.25" width="9.38" height="200" rx="2.5" fill="#3a3b22" stroke="#e8ec40" stroke-width="1.9"/>
<line x1="1393.12" y1="407.25" x2="1393.12" y2="605.25" stroke="#ecf050" stroke-width="2.2"/>
<circle cx="1389.94" cy="409.25" r="1.05" fill="#f2f46a" stroke="none"/>
<circle cx="1386.94" cy="411.65" r="1.05" fill="#f2f46a" stroke="none"/>
<circle cx="1399.31" cy="409.25" r="1.05" fill="#f2f46a" stroke="none"/>
<circle cx="1396.31" cy="411.65" r="1.05" fill="#f2f46a" stroke="none"/>
<circle cx="1389.94" cy="415.75" r="1.05" fill="#f2f46a" stroke="none"/>
<circle cx="1386.94" cy="418.15" r="1.05" fill="#f2f46a" stroke="none"/>
<circle cx="1399.31" cy="415.75" r="1.05" fill="#f2f46a" stroke="none"/>
<circle cx="1396.31" cy="418.15" r="1.05" fill="#f2f46a" stroke="none"/>
<circle cx="1389.94" cy="422.25" r="1.05" fill="#f2f46a" stroke="none"/>
<circle cx="1386.94" cy="424.65" r="1.05" fill="#f2f46a" stroke="none"/>
<circle cx="1399.31" cy="422.25" r="1.05" fill="#f2f46a" stroke="none"/>
<circle cx="1396.31" cy="424.65" r="1.05" fill="#f2f46a" stroke="none"/>
<circle cx="1389.94" cy="428.75" r="1.05" fill="#f2f46a" stroke="none"/>
<circle cx="1386.94" cy="431.15" r="1.05" fill="#f2f46a" stroke="none"/>
<circle cx="1399.31" cy="428.75" r="1.05" fill="#f2f46a" stroke="none"/>
<circle cx="1396.31" cy="431.15" r="1.05" fill="#f2f46a" stroke="none"/>
<circle cx="1389.94" cy="435.25" r="1.05" fill="#f2f46a" stroke="none"/>
<circle cx="1386.94" cy="437.65" r="1.05" fill="#f2f46a" stroke="none"/>
<circle cx="1399.31" cy="435.25" r="1.05" fill="#f2f46a" stroke="none"/>
<circle cx="1396.31" cy="437.65" r="1.05" fill="#f2f46a" stroke="none"/>
<circle cx="1389.94" cy="441.75" r="1.05" fill="#f2f46a" stroke="none"/>
<circle cx="1386.94" cy="444.15" r="1.05" fill="#f2f46a" stroke="none"/>
<circle cx="1399.31" cy="441.75" r="1.05" fill="#f2f46a" stroke="none"/>
<circle cx="1396.31" cy="444.15" r="1.05" fill="#f2f46a" stroke="none"/>
<circle cx="1389.94" cy="448.25" r="1.05" fill="#f2f46a" stroke="none"/>
<circle cx="1386.94" cy="450.65" r="1.05" fill="#f2f46a" stroke="none"/>
<circle cx="1399.31" cy="448.25" r="1.05" fill="#f2f46a" stroke="none"/>
<circle cx="1396.31" cy="450.65" r="1.05" fill="#f2f46a" stroke="none"/>
<circle cx="1389.94" cy="454.75" r="1.05" fill="#f2f46a" stroke="none"/>
<circle cx="1386.94" cy="457.15" r="1.05" fill="#f2f46a" stroke="none"/>
<circle cx="1399.31" cy="454.75" r="1.05" fill="#f2f46a" stroke="none"/>
<circle cx="1396.31" cy="457.15" r="1.05" fill="#f2f46a" stroke="none"/>
<circle cx="1389.94" cy="461.25" r="1.05" fill="#f2f46a" stroke="none"/>
<circle cx="1386.94" cy="463.65" r="1.05" fill="#f2f46a" stroke="none"/>
<circle cx="1399.31" cy="461.25" r="1.05" fill="#f2f46a" stroke="none"/>
<circle cx="1396.31" cy="463.65" r="1.05" fill="#f2f46a" stroke="none"/>
<circle cx="1389.94" cy="467.75" r="1.05" fill="#f2f46a" stroke="none"/>
<circle cx="1386.94" cy="470.15" r="1.05" fill="#f2f46a" stroke="none"/>
<circle cx="1399.31" cy="467.75" r="1.05" fill="#f2f46a" stroke="none"/>
<circle cx="1396.31" cy="470.15" r="1.05" fill="#f2f46a" stroke="none"/>
<circle cx="1389.94" cy="474.25" r="1.05" fill="#f2f46a" stroke="none"/>
<circle cx="1386.94" cy="476.65" r="1.05" fill="#f2f46a" stroke="none"/>
<circle cx="1399.31" cy="474.25" r="1.05" fill="#f2f46a" stroke="none"/>
<circle cx="1396.31" cy="476.65" r="1.05" fill="#f2f46a" stroke="none"/>
<circle cx="1389.94" cy="480.75" r="1.05" fill="#f2f46a" stroke="none"/>
<circle cx="1386.94" cy="483.15" r="1.05" fill="#f2f46a" stroke="none"/>
<circle cx="1399.31" cy="480.75" r="1.05" fill="#f2f46a" stroke="none"/>
<circle cx="1396.31" cy="483.15" r="1.05" fill="#f2f46a" stroke="none"/>
<circle cx="1389.94" cy="487.25" r="1.05" fill="#f2f46a" stroke="none"/>
<circle cx="1386.94" cy="489.65" r="1.05" fill="#f2f46a" stroke="none"/>
<circle cx="1399.31" cy="487.25" r="1.05" fill="#f2f46a" stroke="none"/>
<circle cx="1396.31" cy="489.65" r="1.05" fill="#f2f46a" stroke="none"/>
<circle cx="1389.94" cy="493.75" r="1.05" fill="#f2f46a" stroke="none"/>
<circle cx="1386.94" cy="496.15" r="1.05" fill="#f2f46a" stroke="none"/>
<circle cx="1399.31" cy="493.75" r="1.05" fill="#f2f46a" stroke="none"/>
<circle cx="1396.31" cy="496.15" r="1.05" fill="#f2f46a" stroke="none"/>
<circle cx="1389.94" cy="500.25" r="1.05" fill="#f2f46a" stroke="none"/>
<circle cx="1386.94" cy="502.65" r="1.05" fill="#f2f46a" stroke="none"/>
<circle cx="1399.31" cy="500.25" r="1.05" fill="#f2f46a" stroke="none"/>
<circle cx="1396.31" cy="502.65" r="1.05" fill="#f2f46a" stroke="none"/>
<circle cx="1389.94" cy="506.75" r="1.05" fill="#f2f46a" stroke="none"/>
<circle cx="1386.94" cy="509.15" r="1.05" fill="#f2f46a" stroke="none"/>
<circle cx="1399.31" cy="506.75" r="1.05" fill="#f2f46a" stroke="none"/>
<circle cx="1396.31" cy="509.15" r="1.05" fill="#f2f46a" stroke="none"/>
<circle cx="1389.94" cy="513.25" r="1.05" fill="#f2f46a" stroke="none"/>
<circle cx="1386.94" cy="515.65" r="1.05" fill="#f2f46a" stroke="none"/>
<circle cx="1399.31" cy="513.25" r="1.05" fill="#f2f46a" stroke="none"/>
<circle cx="1396.31" cy="515.65" r="1.05" fill="#f2f46a" stroke="none"/>
<circle cx="1389.94" cy="519.75" r="1.05" fill="#f2f46a" stroke="none"/>
<circle cx="1386.94" cy="522.15" r="1.05" fill="#f2f46a" stroke="none"/>
<circle cx="1399.31" cy="519.75" r="1.05" fill="#f2f46a" stroke="none"/>
<circle cx="1396.31" cy="522.15" r="1.05" fill="#f2f46a" stroke="none"/>
<circle cx="1389.94" cy="526.25" r="1.05" fill="#f2f46a" stroke="none"/>
<circle cx="1386.94" cy="528.65" r="1.05" fill="#f2f46a" stroke="none"/>
<circle cx="1399.31" cy="526.25" r="1.05" fill="#f2f46a" stroke="none"/>
<circle cx="1396.31" cy="528.65" r="1.05" fill="#f2f46a" stroke="none"/>
<circle cx="1389.94" cy="532.75" r="1.05" fill="#f2f46a" stroke="none"/>
<circle cx="1386.94" cy="535.15" r="1.05" fill="#f2f46a" stroke="none"/>
<circle cx="1399.31" cy="532.75" r="1.05" fill="#f2f46a" stroke="none"/>
<circle cx="1396.31" cy="535.15" r="1.05" fill="#f2f46a" stroke="none"/>
<circle cx="1389.94" cy="539.25" r="1.05" fill="#f2f46a" stroke="none"/>
<circle cx="1386.94" cy="541.65" r="1.05" fill="#f2f46a" stroke="none"/>
<circle cx="1399.31" cy="539.25" r="1.05" fill="#f2f46a" stroke="none"/>
<circle cx="1396.31" cy="541.65" r="1.05" fill="#f2f46a" stroke="none"/>
<circle cx="1389.94" cy="545.75" r="1.05" fill="#f2f46a" stroke="none"/>
<circle cx="1386.94" cy="548.15" r="1.05" fill="#f2f46a" stroke="none"/>
<circle cx="1399.31" cy="545.75" r="1.05" fill="#f2f46a" stroke="none"/>
<circle cx="1396.31" cy="548.15" r="1.05" fill="#f2f46a" stroke="none"/>
<circle cx="1389.94" cy="552.25" r="1.05" fill="#f2f46a" stroke="none"/>
<circle cx="1386.94" cy="554.65" r="1.05" fill="#f2f46a" stroke="none"/>
<circle cx="1399.31" cy="552.25" r="1.05" fill="#f2f46a" stroke="none"/>
<circle cx="1396.31" cy="554.65" r="1.05" fill="#f2f46a" stroke="none"/>
<circle cx="1389.94" cy="558.75" r="1.05" fill="#f2f46a" stroke="none"/>
<circle cx="1386.94" cy="561.15" r="1.05" fill="#f2f46a" stroke="none"/>
<circle cx="1399.31" cy="558.75" r="1.05" fill="#f2f46a" stroke="none"/>
<circle cx="1396.31" cy="561.15" r="1.05" fill="#f2f46a" stroke="none"/>
<circle cx="1389.94" cy="565.25" r="1.05" fill="#f2f46a" stroke="none"/>
<circle cx="1386.94" cy="567.65" r="1.05" fill="#f2f46a" stroke="none"/>
<circle cx="1399.31" cy="565.25" r="1.05" fill="#f2f46a" stroke="none"/>
<circle cx="1396.31" cy="567.65" r="1.05" fill="#f2f46a" stroke="none"/>
<circle cx="1389.94" cy="571.75" r="1.05" fill="#f2f46a" stroke="none"/>
<circle cx="1386.94" cy="574.15" r="1.05" fill="#f2f46a" stroke="none"/>
<circle cx="1399.31" cy="571.75" r="1.05" fill="#f2f46a" stroke="none"/>
<circle cx="1396.31" cy="574.15" r="1.05" fill="#f2f46a" stroke="none"/>
<circle cx="1389.94" cy="578.25" r="1.05" fill="#f2f46a" stroke="none"/>
<circle cx="1386.94" cy="580.65" r="1.05" fill="#f2f46a" stroke="none"/>
<circle cx="1399.31" cy="578.25" r="1.05" fill="#f2f46a" stroke="none"/>
<circle cx="1396.31" cy="580.65" r="1.05" fill="#f2f46a" stroke="none"/>
<circle cx="1389.94" cy="584.75" r="1.05" fill="#f2f46a" stroke="none"/>
<circle cx="1386.94" cy="587.15" r="1.05" fill="#f2f46a" stroke="none"/>
<circle cx="1399.31" cy="584.75" r="1.05" fill="#f2f46a" stroke="none"/>
<circle cx="1396.31" cy="587.15" r="1.05" fill="#f2f46a" stroke="none"/>
<circle cx="1389.94" cy="591.25" r="1.05" fill="#f2f46a" stroke="none"/>
<circle cx="1386.94" cy="593.65" r="1.05" fill="#f2f46a" stroke="none"/>
<circle cx="1399.31" cy="591.25" r="1.05" fill="#f2f46a" stroke="none"/>
<circle cx="1396.31" cy="593.65" r="1.05" fill="#f2f46a" stroke="none"/>
<circle cx="1389.94" cy="597.75" r="1.05" fill="#f2f46a" stroke="none"/>
<circle cx="1386.94" cy="600.15" r="1.05" fill="#f2f46a" stroke="none"/>
<circle cx="1399.31" cy="597.75" r="1.05" fill="#f2f46a" stroke="none"/>
<circle cx="1396.31" cy="600.15" r="1.05" fill="#f2f46a" stroke="none"/>
<line x1="1447.5" y1="515" x2="1447.5" y2="606.25"/>
<line x1="1418.75" y1="515" x2="1450" y2="515"/>
<line x1="1413.75" y1="606.25" x2="1450" y2="606.25"/>
<line x1="1443" y1="510.5" x2="1452" y2="519.5" stroke-width="1"/>
<line x1="1443" y1="601.75" x2="1452" y2="610.75" stroke-width="1"/>
<text x="1442.5" y="564.5" font-size="10.17" textLength="18" lengthAdjust="spacingAndGlyphs" text-anchor="middle" transform="rotate(-90 1442.5 561)">20"</text>
<line x1="1385" y1="861" x2="1385" y2="945" stroke-width="0.9"/>
<line x1="1402.5" y1="861" x2="1402.5" y2="945" stroke-width="0.9"/>
<line x1="1385" y1="861" x2="1402.5" y2="861" stroke-width="0.8"/>
<line x1="1385" y1="866.5" x2="1402.5" y2="866.5" stroke-width="0.8"/>
<line x1="1385" y1="872" x2="1402.5" y2="872" stroke-width="0.8"/>
<line x1="1385" y1="877.5" x2="1402.5" y2="877.5" stroke-width="0.8"/>
<line x1="1385" y1="883" x2="1402.5" y2="883" stroke-width="0.8"/>
<line x1="1385" y1="888.5" x2="1402.5" y2="888.5" stroke-width="0.8"/>
<line x1="1385" y1="894" x2="1402.5" y2="894" stroke-width="0.8"/>
<line x1="1385" y1="899.5" x2="1402.5" y2="899.5" stroke-width="0.8"/>
<line x1="1385" y1="905" x2="1402.5" y2="905" stroke-width="0.8"/>
<line x1="1385" y1="910.5" x2="1402.5" y2="910.5" stroke-width="0.8"/>
<line x1="1385" y1="916" x2="1402.5" y2="916" stroke-width="0.8"/>
<line x1="1385" y1="921.5" x2="1402.5" y2="921.5" stroke-width="0.8"/>
<line x1="1385" y1="927" x2="1402.5" y2="927" stroke-width="0.8"/>
<line x1="1385" y1="932.5" x2="1402.5" y2="932.5" stroke-width="0.8"/>
<line x1="1385" y1="938" x2="1402.5" y2="938" stroke-width="0.8"/>
<line x1="1385" y1="943.5" x2="1402.5" y2="943.5" stroke-width="0.8"/>
<line x1="1371.25" y1="950" x2="1512.5" y2="950"/>
<line x1="1371.25" y1="958.75" x2="1512.5" y2="958.75"/>
<line x1="1371.25" y1="950" x2="1371.25" y2="1012.5"/>
<polygon points="1497.3,986.25 1496.2,988.25 1498.4,988.25" stroke-width="0.6" fill="#e9e9ee"/>
<polygon points="1497.35,1011.72 1496.25,1013.72 1498.45,1013.72" stroke-width="0.6" fill="#e9e9ee"/>
<polygon points="1393.85,970.71 1392.75,972.71 1394.95,972.71" stroke-width="0.6" fill="#e9e9ee"/>
<polygon points="1421.16,965.55 1420.06,967.55 1422.26,967.55" stroke-width="0.6" fill="#e9e9ee"/>
<circle cx="1409.88" cy="991.05" r="0.9" stroke-width="0" fill="#e9e9ee"/>
<polygon points="1476.2,981.95 1475.1,983.95 1477.3,983.95" stroke-width="0.6" fill="#e9e9ee"/>
<polygon points="1445.76,980.12 1444.66,982.12 1446.86,982.12" stroke-width="0.6" fill="#e9e9ee"/>
<circle cx="1383.38" cy="976.15" r="0.9" stroke-width="0" fill="#e9e9ee"/>
<circle cx="1391.99" cy="987.67" r="0.9" stroke-width="0" fill="#e9e9ee"/>
<polygon points="1491.49,971.91 1490.39,973.91 1492.59,973.91" stroke-width="0.6" fill="#e9e9ee"/>
<polygon points="1408.54,981.29 1407.44,983.29 1409.64,983.29" stroke-width="0.6" fill="#e9e9ee"/>
<circle cx="1503.78" cy="1005.28" r="0.9" stroke-width="0" fill="#e9e9ee"/>
<circle cx="1377.94" cy="963.64" r="0.9" stroke-width="0" fill="#e9e9ee"/>
<circle cx="1495.92" cy="986.14" r="0.9" stroke-width="0" fill="#e9e9ee"/>
<circle cx="1375.02" cy="981.97" r="0.9" stroke-width="0" fill="#e9e9ee"/>
<circle cx="1486.45" cy="1005.63" r="0.9" stroke-width="0" fill="#e9e9ee"/>
<polygon points="1408.54,966.46 1407.44,968.46 1409.64,968.46" stroke-width="0.6" fill="#e9e9ee"/>
<circle cx="1445.52" cy="996.79" r="0.9" stroke-width="0" fill="#e9e9ee"/>
<circle cx="1472.43" cy="995.01" r="0.9" stroke-width="0" fill="#e9e9ee"/>
<polygon points="1436.74,989.03 1435.64,991.03 1437.84,991.03" stroke-width="0.6" fill="#e9e9ee"/>
<circle cx="1480.61" cy="973.86" r="0.9" stroke-width="0" fill="#e9e9ee"/>
<polygon points="1462.14,976.39 1461.04,978.39 1463.24,978.39" stroke-width="0.6" fill="#e9e9ee"/>
<circle cx="1408.99" cy="994.45" r="0.9" stroke-width="0" fill="#e9e9ee"/>
<circle cx="1390.14" cy="965.59" r="0.9" stroke-width="0" fill="#e9e9ee"/>
<polygon points="1453.69,980.69 1452.59,982.69 1454.79,982.69" stroke-width="0.6" fill="#e9e9ee"/>
<polygon points="1456.14,961.43 1455.04,963.43 1457.24,963.43" stroke-width="0.6" fill="#e9e9ee"/>
<rect x="1405" y="945" width="4.5" height="62.5" stroke-width="0.8" fill="#d0d0d6"/>
<rect x="1402" y="943" width="10.5" height="5" stroke-width="0.8" fill="#e9e9ee"/>
<text x="1078.25" y="424.5" font-size="13.08" textLength="115" lengthAdjust="spacingAndGlyphs">NOTE: FOR 3" WIDE</text>
<text x="1078.25" y="438.9" font-size="13.08" textLength="145.5" lengthAdjust="spacingAndGlyphs">HEADERS IN 2x6 WALLS,</text>
<text x="1078.25" y="453.3" font-size="13.08" textLength="160.5" lengthAdjust="spacingAndGlyphs">PROVIDE SOLID BLOCKING</text>
<text x="1078.25" y="467.7" font-size="13.08" textLength="70.5" lengthAdjust="spacingAndGlyphs">AT STRAPS.</text>
<polyline points="1203,419.5 1242.5,419.5 1383.75,481.25"/>
<polygon points="1383.75,481.25 1378.07,480.51 1379.35,477.58" stroke-width="0.6" fill="#e9e9ee"/>
<text x="1077" y="524.25" font-size="13.81" textLength="165" lengthAdjust="spacingAndGlyphs">(2) SIMPSON CS16 STRAP</text>
<text x="1077" y="540.85" font-size="13.81" textLength="158" lengthAdjust="spacingAndGlyphs">WITH 8d NAILS. (EXTEND</text>
<text x="1077" y="557.45" font-size="13.81" textLength="170.5" lengthAdjust="spacingAndGlyphs">TO WALL TOP PLATE AND</text>
<text x="1077" y="574.05" font-size="13.81" textLength="127" lengthAdjust="spacingAndGlyphs">EXTEND 20" UNDER</text>
<text x="1077" y="590.65" font-size="13.81" textLength="62" lengthAdjust="spacingAndGlyphs">HEADER).</text>
<polyline points="1255,548 1293.75,548 1383.75,492.5"/>
<polygon points="1383.75,492.5 1379.91,496.75 1378.23,494.03" stroke-width="0.6" fill="#e9e9ee"/>
<text x="1114.5" y="625.75" font-size="13.08" textLength="149" lengthAdjust="spacingAndGlyphs">ATTACH KING STUD TO</text>
<text x="1114.5" y="642" font-size="13.08" textLength="167.5" lengthAdjust="spacingAndGlyphs">SUPPORT STUDS WITH 10d</text>
<text x="1114.5" y="658.25" font-size="13.08" textLength="100.5" lengthAdjust="spacingAndGlyphs">NAILS @ 8" OC.</text>
<polyline points="1264.5,621.25 1328.75,621.25 1396.25,688.75"/>
<polygon points="1396.25,688.75 1391.23,685.99 1393.49,683.73" stroke-width="0.6" fill="#e9e9ee"/>
<text x="1116.25" y="690" font-size="13.08" textLength="172.5" lengthAdjust="spacingAndGlyphs">MIN (2)2X SUPPORT STUDS</text>
<text x="1116.25" y="706.5" font-size="13.08" textLength="154" lengthAdjust="spacingAndGlyphs">AND (1) KING STUD (SEE</text>
<text x="1116.25" y="723" font-size="13.08" textLength="162.5" lengthAdjust="spacingAndGlyphs">PLAN FOR STUD COLUMN</text>
<text x="1116.25" y="739.5" font-size="13.08" textLength="106" lengthAdjust="spacingAndGlyphs">REQUIREMENTS).</text>
<polyline points="1288.75,683.75 1313.75,683.75 1373.75,723.75"/>
<polygon points="1373.75,723.75 1368.29,722.03 1370.06,719.37" stroke-width="0.6" fill="#e9e9ee"/>
<text x="1117" y="779.5" font-size="13.08" textLength="127" lengthAdjust="spacingAndGlyphs">1,000 LB HOLDOWN</text>
<text x="1117" y="796" font-size="13.08" textLength="97.5" lengthAdjust="spacingAndGlyphs">(SIMPSON HTT4</text>
<text x="1117" y="812.5" font-size="13.08" textLength="131" lengthAdjust="spacingAndGlyphs">HOLDOWN W/ 18-10d</text>
<text x="1117" y="829" font-size="13.08" textLength="115" lengthAdjust="spacingAndGlyphs">NAILS OR EQUAL)</text>
<polyline points="1264.5,786.75 1430,786.75 1405,945"/>
<polygon points="1405,945 1404.28,939.32 1407.44,939.82" stroke-width="0.6" fill="#e9e9ee"/>
<text x="1117.5" y="850.75" font-size="13.08" textLength="124" lengthAdjust="spacingAndGlyphs">HOLDOWN ANCHOR</text>
<line x1="1117.5" y1="853.9" x2="1241.5" y2="853.9" stroke-width="0.9"/>
<text x="1117.5" y="868.25" font-size="13.08" textLength="176" lengthAdjust="spacingAndGlyphs">CONCRETE: 1/2"x12 SIMPSON</text>
<text x="1117.5" y="883.75" font-size="13.08" textLength="156" lengthAdjust="spacingAndGlyphs">TITEN HD (THD501200H)</text>
<text x="1117.5" y="917.75" font-size="13.08" textLength="149" lengthAdjust="spacingAndGlyphs">STRAP OPTION (MONO:</text>
<text x="1117.5" y="933.65" font-size="13.08" textLength="109" lengthAdjust="spacingAndGlyphs">SIMPSON STHD14</text>
<text x="1117.5" y="949.55" font-size="13.08" textLength="142.5" lengthAdjust="spacingAndGlyphs">STRAP-TIE HOLDOWN.</text>
<text x="1117.5" y="983.25" font-size="13.08" textLength="166" lengthAdjust="spacingAndGlyphs">CMU: 5/8" THREADED ROD</text>
<text x="1117.5" y="999.35" font-size="13.08" textLength="140" lengthAdjust="spacingAndGlyphs">(EMBEDDED 12") WITH</text>
<text x="1117.5" y="1015.45" font-size="13.08" textLength="141" lengthAdjust="spacingAndGlyphs">SIMPSON SET EPOXY.</text>
<text x="1117.5" y="1031.55" font-size="13.08" textLength="171" lengthAdjust="spacingAndGlyphs">(HIGH WIND ZONE: EXTEND</text>
<text x="1117.5" y="1047.65" font-size="13.08" textLength="120" lengthAdjust="spacingAndGlyphs">ROD TO FOOTING)</text>
<polyline points="1286.25,837 1298.25,837 1298.25,1051.25 1286.25,1051.25"/>
<polyline points="1298.25,893.25 1325,893.25 1405,985"/>
<polygon points="1405,985 1400.18,981.91 1402.59,979.8" stroke-width="0.6" fill="#e9e9ee"/>
<circle cx="1072" cy="1078" r="22.2"/>
<line x1="1050" y1="1078.5" x2="1094" y2="1078.5"/>
<text x="1072" y="1075.25" font-size="12.35" textLength="22" lengthAdjust="spacingAndGlyphs" text-anchor="middle">902</text>
<text x="1072" y="1090.25" font-size="12.35" textLength="14" lengthAdjust="spacingAndGlyphs" text-anchor="middle">SD</text>
<text x="1101.25" y="1075.5" font-size="23.26" textLength="247.5" lengthAdjust="spacingAndGlyphs" class="big">END CONDITION DETAIL</text>
<line x1="1101.25" y1="1076.6" x2="1350" y2="1076.6" stroke-width="1.2"/>
<text x="1101.25" y="1095.75" font-size="16.72" textLength="445" lengthAdjust="spacingAndGlyphs" class="mid">(FOR USE WITH SINGLE APA PORTAL FRAME CONDITION)</text>
<text x="1101.25" y="1113" font-size="14.53" textLength="429" lengthAdjust="spacingAndGlyphs" class="mid">DETAIL AND APPLICATION BASED ON APA TT-100F WITH USE OF</text>
<text x="1101.25" y="1128.75" font-size="14.53" textLength="439" lengthAdjust="spacingAndGlyphs" class="mid">TABLE 1 FOR APA PORTAL FRAME WITH HOLD-DOWN CAPACITIES.</text>
<polyline points="1898.09,588.79 1918.34,598.19 1992.13,579.39"/>
<polyline points="1898.09,588.79 1899.53,596.02 1901.7,601.81 1907.49,606.15 1911.11,610.49 1917.62,614.83 1924.85,617.73 1934.98,621.34 1943.66,619.17 1949.45,614.11 1959.58,611.94 1970.43,608.32 1981.28,604.71 1986.34,598.19 1991.41,590.96 1992.86,581.56 1992.13,579.39"/>
<polyline points="1918.34,598.19 1921.96,609.05 1930.64,619.17"/>
<polyline points="1898.09,588.79 1911.11,584.45"/>
<polyline points="1984.17,577.22 1992.13,579.39"/>
<polyline points="1911.11,580.47 1927.38,576.13 1943.66,581.92"/>
<polyline points="1911.11,580.47 1911.11,590.24 1927.38,594.94 1943.66,590.24"/>
<polyline points="1927.38,586.26 1927.38,594.94"/>
<polyline points="1911.11,580.47 1927.38,586.26 1945.11,581.56"/>
<polyline points="1960.66,569.26 1968.98,567.81 1984.17,572.87 1984.54,579.39"/>
<polyline points="1960.66,584.45 1984.54,577.22"/>
<polyline points="1960.66,575.04 1984.17,572.87"/>
<polyline points="1928.11,576.13 1928.11,530.19 1960.66,530.19 1960.66,589.51"/>
<polyline points="1945.47,533.81 1945.47,589.51"/>
<polyline points="1953.07,533.81 1953.07,589.51"/>
<polyline points="1954.15,533.81 1954.15,589.51"/>
<polyline points="1928.11,530.19 1937.87,528.02 1952.34,526.57 1960.66,530.19"/>
<polyline points="1945.11,553.34 1952.7,553.34" stroke-width="0.9"/>
<polyline points="1953.79,551.9 1960.3,551.9" stroke-width="0.9"/>
<circle cx="1948" cy="556.96" r="0.9" stroke-width="0" fill="#e9e9ee"/>
<circle cx="1950.17" cy="560.58" r="0.9" stroke-width="0" fill="#e9e9ee"/>
<circle cx="1947.64" cy="564.19" r="0.9" stroke-width="0" fill="#e9e9ee"/>
<circle cx="1950.53" cy="568.17" r="0.9" stroke-width="0" fill="#e9e9ee"/>
<circle cx="1955.6" cy="554.79" r="0.9" stroke-width="0" fill="#e9e9ee"/>
<circle cx="1958.13" cy="558.41" r="0.9" stroke-width="0" fill="#e9e9ee"/>
<circle cx="1955.6" cy="562.38" r="0.9" stroke-width="0" fill="#e9e9ee"/>
<circle cx="1959.22" cy="566" r="0.9" stroke-width="0" fill="#e9e9ee"/>
<circle cx="1949.45" cy="581.56" r="0.9" stroke-width="0" fill="#e9e9ee"/>
<circle cx="1956.68" cy="578.66" r="0.9" stroke-width="0" fill="#e9e9ee"/>
<circle cx="1907.13" cy="596.75" r="0.8" stroke-width="0" fill="#e9e9ee"/>
<circle cx="1937.87" cy="598.19" r="0.8" stroke-width="0" fill="#e9e9ee"/>
<circle cx="1932.81" cy="605.43" r="0.8" stroke-width="0" fill="#e9e9ee"/>
<circle cx="1948.73" cy="606.88" r="0.8" stroke-width="0" fill="#e9e9ee"/>
<circle cx="1963.19" cy="607.6" r="0.8" stroke-width="0" fill="#e9e9ee"/>
<circle cx="1968.26" cy="599.64" r="0.8" stroke-width="0" fill="#e9e9ee"/>
<circle cx="1975.49" cy="593.13" r="0.8" stroke-width="0" fill="#e9e9ee"/>
<circle cx="1963.92" cy="594.58" r="0.8" stroke-width="0" fill="#e9e9ee"/>
<circle cx="1986.34" cy="593.13" r="0.8" stroke-width="0" fill="#e9e9ee"/>
<circle cx="1943.66" cy="615.56" r="0.8" stroke-width="0" fill="#e9e9ee"/>
<circle cx="1932.09" cy="613.39" r="0.8" stroke-width="0" fill="#e9e9ee"/>
<text x="1913.75" y="646" font-size="10.17" textLength="69" lengthAdjust="spacingAndGlyphs">SIMPSON SSP</text>
<line x1="1913.75" y1="648.45" x2="1982.75" y2="648.45" stroke-width="0.9"/>
<rect x="1770" y="656.25" width="100.5" height="172.5"/>
<line x1="1790" y1="656.25" x2="1790" y2="828.75"/>
<line x1="1806.25" y1="656.25" x2="1806.25" y2="771.25"/>
<line x1="1790" y1="771.25" x2="1870.5" y2="771.25"/>
<text x="1783.75" y="843" font-size="8.72" textLength="32" lengthAdjust="spacingAndGlyphs">SECTION</text>
<line x1="1783.75" y1="845.1" x2="1815.75" y2="845.1" stroke-width="0.9"/>
<rect x="1791" y="764" width="15" height="7" stroke-width="0.9"/>
<polyline points="1791,765 1796,770 1791,770" stroke-width="0.7"/>
<rect x="1798.3" y="759" width="3.9" height="42.5" stroke-width="0.6" fill="#d6d6dc"/>
<rect x="1798.3" y="797.5" width="9.2" height="4" stroke-width="0.6" fill="#d6d6dc"/>
<rect x="1796.5" y="762" width="9.5" height="7.5" stroke-width="0.6" fill="#e6e6ea"/>
<circle cx="1827.17" cy="821.99" r="0.9" stroke-width="0" fill="#e9e9ee"/>
<polygon points="1857.63,797.19 1856.53,799.19 1858.73,799.19" stroke-width="0.6" fill="#e9e9ee"/>
<circle cx="1811.79" cy="822.07" r="0.9" stroke-width="0" fill="#e9e9ee"/>
<polygon points="1816.13,774.97 1815.03,776.97 1817.23,776.97" stroke-width="0.6" fill="#e9e9ee"/>
<polygon points="1842.56,794.48 1841.46,796.48 1843.66,796.48" stroke-width="0.6" fill="#e9e9ee"/>
<polygon points="1842.05,819.23 1840.95,821.23 1843.15,821.23" stroke-width="0.6" fill="#e9e9ee"/>
<polygon points="1796.46,790.46 1795.36,792.46 1797.56,792.46" stroke-width="0.6" fill="#e9e9ee"/>
<circle cx="1843.14" cy="784.71" r="0.9" stroke-width="0" fill="#e9e9ee"/>
<polygon points="1847.22,798.64 1846.12,800.64 1848.32,800.64" stroke-width="0.6" fill="#e9e9ee"/>
<circle cx="1863.83" cy="790.27" r="0.9" stroke-width="0" fill="#e9e9ee"/>
<circle cx="1810.62" cy="785.85" r="0.9" stroke-width="0" fill="#e9e9ee"/>
<polygon points="1815.24,820.54 1814.14,822.54 1816.34,822.54" stroke-width="0.6" fill="#e9e9ee"/>
<polygon points="1807.49,784.84 1806.39,786.84 1808.59,786.84" stroke-width="0.6" fill="#e9e9ee"/>
<polygon points="1841.9,820.39 1840.8,822.39 1843,822.39" stroke-width="0.6" fill="#e9e9ee"/>
<rect x="2032.5" y="637.5" width="112" height="178.75"/>
<line x1="2084.25" y1="644" x2="2084.25" y2="765"/>
<line x1="2090.5" y1="644" x2="2090.5" y2="765"/>
<line x1="2097.5" y1="644" x2="2097.5" y2="765"/>
<line x1="2032.5" y1="765" x2="2144.5" y2="765"/>
<line x1="2032.5" y1="772" x2="2144.5" y2="772"/>
<rect x="2084.4" y="742" width="13.6" height="30.4" stroke-width="0.9"/>
<rect x="2085" y="761.2" width="12.5" height="11.2" stroke-width="0" fill="#d8d8de"/>
<circle cx="2086.8" cy="747.5" r="0.8" stroke-width="0" fill="#e9e9ee"/>
<circle cx="2095.2" cy="747.5" r="0.8" stroke-width="0" fill="#e9e9ee"/>
<circle cx="2086.6" cy="754.5" r="0.8" stroke-width="0" fill="#e9e9ee"/>
<circle cx="2095.4" cy="754.5" r="0.8" stroke-width="0" fill="#e9e9ee"/>
<rect x="2105" y="758" width="3" height="43.4" stroke-width="0.6" fill="#d6d6dc"/>
<rect x="2105" y="798" width="8.7" height="3.4" stroke-width="0.6" fill="#d6d6dc"/>
<rect x="2103" y="761.2" width="7" height="4.9" stroke-width="0.6" fill="#e6e6ea"/>
<circle cx="2076.92" cy="783.67" r="0.9" stroke-width="0" fill="#e9e9ee"/>
<polygon points="2050.76,776.77 2049.66,778.77 2051.86,778.77" stroke-width="0.6" fill="#e9e9ee"/>
<circle cx="2076.91" cy="808.33" r="0.9" stroke-width="0" fill="#e9e9ee"/>
<circle cx="2112.2" cy="811.91" r="0.9" stroke-width="0" fill="#e9e9ee"/>
<circle cx="2070.24" cy="782.68" r="0.9" stroke-width="0" fill="#e9e9ee"/>
<circle cx="2113.62" cy="777.15" r="0.9" stroke-width="0" fill="#e9e9ee"/>
<polygon points="2075.38,788.36 2074.28,790.36 2076.48,790.36" stroke-width="0.6" fill="#e9e9ee"/>
<polygon points="2053.6,775 2052.5,777 2054.7,777" stroke-width="0.6" fill="#e9e9ee"/>
<polygon points="2072.55,809.3 2071.45,811.3 2073.65,811.3" stroke-width="0.6" fill="#e9e9ee"/>
<polygon points="2136.28,782.37 2135.18,784.37 2137.38,784.37" stroke-width="0.6" fill="#e9e9ee"/>
<polygon points="2121.44,804.49 2120.34,806.49 2122.54,806.49" stroke-width="0.6" fill="#e9e9ee"/>
<polygon points="2041.12,791.94 2040.02,793.94 2042.22,793.94" stroke-width="0.6" fill="#e9e9ee"/>
<polygon points="2131.63,781.85 2130.53,783.85 2132.73,783.85" stroke-width="0.6" fill="#e9e9ee"/>
<polygon points="2129.29,775.99 2128.19,777.99 2130.39,777.99" stroke-width="0.6" fill="#e9e9ee"/>
<text x="1888.25" y="686.25" font-size="8.72" textLength="92" lengthAdjust="spacingAndGlyphs">HD LOCATION (2) STUDS</text>
<line x1="1806.25" y1="684.25" x2="1883.75" y2="684.25"/>
<polygon points="1806.25,684.25 1811.75,682.65 1811.75,685.85" stroke-width="0.6" fill="#e9e9ee"/>
<line x1="1984.25" y1="684.25" x2="2082.5" y2="684.25"/>
<polygon points="2082.5,684.25 2077,685.85 2077,682.65" stroke-width="0.6" fill="#e9e9ee"/>
<text x="1885.75" y="748.75" font-size="8.72" textLength="110.5" lengthAdjust="spacingAndGlyphs">SIMPSON SSP ON EACH STUD</text>
<polyline points="1882.5,745.25 1822.5,745.25 1791.25,760"/>
<polygon points="1791.25,760 1795.54,756.21 1796.91,759.1" stroke-width="0.6" fill="#e9e9ee"/>
<polyline points="2001.25,745.25 2027.5,745.25 2083.75,760"/>
<polygon points="2083.75,760 2078.02,760.15 2078.84,757.06" stroke-width="0.6" fill="#e9e9ee"/>
<text x="1888.25" y="804.35" font-size="9.01" textLength="118" lengthAdjust="spacingAndGlyphs">LOCATE 1/2" DIAMETER ANCHOR</text>
<text x="1888.25" y="813.85" font-size="9.01" textLength="112" lengthAdjust="spacingAndGlyphs">BOLT (OR 1/2" THREADED ROD</text>
<text x="1888.25" y="823.35" font-size="9.01" textLength="100" lengthAdjust="spacingAndGlyphs">EMBEDDED 5" INTO SOLID</text>
<text x="1888.25" y="832.85" font-size="9.01" textLength="115.5" lengthAdjust="spacingAndGlyphs">MASONRY OR CONCRETE WITH</text>
<text x="1888.25" y="842.35" font-size="9.01" textLength="110" lengthAdjust="spacingAndGlyphs">SIMPSON SET-XP EPOXY (OR</text>
<text x="1888.25" y="851.85" font-size="9.01" textLength="129" lengthAdjust="spacingAndGlyphs">EQUAL) WITHIN 12" OF CENTERLINE</text>
<text x="1888.25" y="861.35" font-size="9.01" textLength="67" lengthAdjust="spacingAndGlyphs">OF STUD COLUMN.</text>
<polyline points="1885,822.5 1867.5,822.5 1803.75,778.75"/>
<polygon points="1803.75,778.75 1809.19,780.54 1807.38,783.18" stroke-width="0.6" fill="#e9e9ee"/>
<polyline points="2013.75,822.5 2020,822.5 2080,785"/>
<polygon points="2080,785 2076.18,789.27 2074.49,786.56" stroke-width="0.6" fill="#e9e9ee"/>
<line x1="2064.25" y1="821.25" x2="2064.25" y2="858.75"/>
<line x1="2117.5" y1="821.25" x2="2117.5" y2="858.75"/>
<line x1="2060.75" y1="858" x2="2067.75" y2="851" stroke-width="1"/>
<line x1="2114" y1="858" x2="2121" y2="851" stroke-width="1"/>
<line x1="2058" y1="854.5" x2="2067" y2="854.5"/>
<line x1="2114" y1="854.5" x2="2123" y2="854.5"/>
<text x="2090.5" y="845.5" font-size="10.17" textLength="13" lengthAdjust="spacingAndGlyphs" text-anchor="middle">12"</text>
<text x="2072.5" y="858" font-size="10.17" textLength="36" lengthAdjust="spacingAndGlyphs">C/L OF</text>
<text x="2070.75" y="870.5" font-size="10.17" textLength="40" lengthAdjust="spacingAndGlyphs">COLUMN</text>
<text x="2071.75" y="879.75" font-size="7.99" textLength="42" lengthAdjust="spacingAndGlyphs">ELEVATION</text>
<line x1="2071.75" y1="881.67" x2="2113.75" y2="881.67" stroke-width="0.9"/>
<circle cx="1776.25" cy="910" r="22.3"/>
<line x1="1754" y1="910" x2="1798.5" y2="910"/>
<text x="1776.25" y="907.25" font-size="12.35" textLength="22" lengthAdjust="spacingAndGlyphs" text-anchor="middle">903</text>
<text x="1776.25" y="923" font-size="12.35" textLength="14" lengthAdjust="spacingAndGlyphs" text-anchor="middle">SD</text>
<text x="1806.25" y="908.75" font-size="21.8" textLength="381.75" lengthAdjust="spacingAndGlyphs" class="big">BRACED WALL END CONDITION "HD"</text>
<line x1="1806.25" y1="910.5" x2="2189" y2="910.5" stroke-width="1.2"/>
<text x="1806.25" y="932" font-size="21.08" textLength="211.25" lengthAdjust="spacingAndGlyphs" class="big">HOLD-DOWN DETAIL</text>
<line x1="1806.25" y1="934.5" x2="2020" y2="934.5" stroke-width="1.2"/>
<text x="1806.25" y="948.9" font-size="13.08" textLength="318" lengthAdjust="spacingAndGlyphs">NOTE: SIMPSON DTT-1Z IS ACCEPTABLE ALTERNATE</text>
<text x="1806.25" y="963.6" font-size="13.08" textLength="386" lengthAdjust="spacingAndGlyphs">NOTE: ALTERNATE HD HOLD-DOWN DEVICES OR SYSTEMS MAY</text>
<text x="1806.25" y="978" font-size="13.08" textLength="380" lengthAdjust="spacingAndGlyphs">BE USED TO MEET THE CODE REQUIRED 800 LB CAPACITY IN</text>
<text x="1806.25" y="993.5" font-size="13.08" textLength="173" lengthAdjust="spacingAndGlyphs">LIEU OF THE ABOVE DETAIL.</text>
<line x1="359.7" y1="1019.5" x2="359.7" y2="1269.5"/>
<line x1="362.3" y1="1019.5" x2="362.3" y2="1269.5"/>
<circle cx="361" cy="1022" r="0.5" stroke-width="0" fill="#e9e9ee"/>
<circle cx="361" cy="1024.5" r="0.5" stroke-width="0" fill="#e9e9ee"/>
<circle cx="361" cy="1027" r="0.5" stroke-width="0" fill="#e9e9ee"/>
<circle cx="361" cy="1029.5" r="0.5" stroke-width="0" fill="#e9e9ee"/>
<circle cx="361" cy="1032" r="0.5" stroke-width="0" fill="#e9e9ee"/>
<circle cx="361" cy="1034.5" r="0.5" stroke-width="0" fill="#e9e9ee"/>
<circle cx="361" cy="1037" r="0.5" stroke-width="0" fill="#e9e9ee"/>
<circle cx="361" cy="1039.5" r="0.5" stroke-width="0" fill="#e9e9ee"/>
<circle cx="361" cy="1042" r="0.5" stroke-width="0" fill="#e9e9ee"/>
<circle cx="361" cy="1044.5" r="0.5" stroke-width="0" fill="#e9e9ee"/>
<circle cx="361" cy="1047" r="0.5" stroke-width="0" fill="#e9e9ee"/>
<circle cx="361" cy="1049.5" r="0.5" stroke-width="0" fill="#e9e9ee"/>
<circle cx="361" cy="1052" r="0.5" stroke-width="0" fill="#e9e9ee"/>
<circle cx="361" cy="1054.5" r="0.5" stroke-width="0" fill="#e9e9ee"/>
<circle cx="361" cy="1057" r="0.5" stroke-width="0" fill="#e9e9ee"/>
<circle cx="361" cy="1059.5" r="0.5" stroke-width="0" fill="#e9e9ee"/>
<circle cx="361" cy="1062" r="0.5" stroke-width="0" fill="#e9e9ee"/>
<circle cx="361" cy="1064.5" r="0.5" stroke-width="0" fill="#e9e9ee"/>
<circle cx="361" cy="1067" r="0.5" stroke-width="0" fill="#e9e9ee"/>
<circle cx="361" cy="1069.5" r="0.5" stroke-width="0" fill="#e9e9ee"/>
<circle cx="361" cy="1072" r="0.5" stroke-width="0" fill="#e9e9ee"/>
<circle cx="361" cy="1074.5" r="0.5" stroke-width="0" fill="#e9e9ee"/>
<circle cx="361" cy="1077" r="0.5" stroke-width="0" fill="#e9e9ee"/>
<circle cx="361" cy="1079.5" r="0.5" stroke-width="0" fill="#e9e9ee"/>
<circle cx="361" cy="1082" r="0.5" stroke-width="0" fill="#e9e9ee"/>
<circle cx="361" cy="1084.5" r="0.5" stroke-width="0" fill="#e9e9ee"/>
<circle cx="361" cy="1087" r="0.5" stroke-width="0" fill="#e9e9ee"/>
<circle cx="361" cy="1089.5" r="0.5" stroke-width="0" fill="#e9e9ee"/>
<circle cx="361" cy="1092" r="0.5" stroke-width="0" fill="#e9e9ee"/>
<circle cx="361" cy="1094.5" r="0.5" stroke-width="0" fill="#e9e9ee"/>
<circle cx="361" cy="1097" r="0.5" stroke-width="0" fill="#e9e9ee"/>
<circle cx="361" cy="1099.5" r="0.5" stroke-width="0" fill="#e9e9ee"/>
<circle cx="361" cy="1102" r="0.5" stroke-width="0" fill="#e9e9ee"/>
<circle cx="361" cy="1104.5" r="0.5" stroke-width="0" fill="#e9e9ee"/>
<circle cx="361" cy="1107" r="0.5" stroke-width="0" fill="#e9e9ee"/>
<circle cx="361" cy="1109.5" r="0.5" stroke-width="0" fill="#e9e9ee"/>
<circle cx="361" cy="1112" r="0.5" stroke-width="0" fill="#e9e9ee"/>
<circle cx="361" cy="1114.5" r="0.5" stroke-width="0" fill="#e9e9ee"/>
<circle cx="361" cy="1117" r="0.5" stroke-width="0" fill="#e9e9ee"/>
<circle cx="361" cy="1119.5" r="0.5" stroke-width="0" fill="#e9e9ee"/>
<circle cx="361" cy="1122" r="0.5" stroke-width="0" fill="#e9e9ee"/>
<circle cx="361" cy="1124.5" r="0.5" stroke-width="0" fill="#e9e9ee"/>
<circle cx="361" cy="1127" r="0.5" stroke-width="0" fill="#e9e9ee"/>
<circle cx="361" cy="1129.5" r="0.5" stroke-width="0" fill="#e9e9ee"/>
<line x1="386.7" y1="1019.5" x2="386.7" y2="1126"/>
<rect x="373.4" y="1048" width="10.6" height="68.6" rx="3"/>
<circle cx="377.2" cy="1065" r="0.75" stroke-width="0" fill="#e9e9ee"/>
<circle cx="381.8" cy="1065" r="0.75" stroke-width="0" fill="#e9e9ee"/>
<circle cx="378.4" cy="1068.9" r="0.75" stroke-width="0" fill="#e9e9ee"/>
<circle cx="380.6" cy="1068.9" r="0.75" stroke-width="0" fill="#e9e9ee"/>
<circle cx="377.2" cy="1072.8" r="0.75" stroke-width="0" fill="#e9e9ee"/>
<circle cx="381.8" cy="1072.8" r="0.75" stroke-width="0" fill="#e9e9ee"/>
<circle cx="378.4" cy="1076.7" r="0.75" stroke-width="0" fill="#e9e9ee"/>
<circle cx="380.6" cy="1076.7" r="0.75" stroke-width="0" fill="#e9e9ee"/>
<circle cx="377.2" cy="1080.6" r="0.75" stroke-width="0" fill="#e9e9ee"/>
<circle cx="381.8" cy="1080.6" r="0.75" stroke-width="0" fill="#e9e9ee"/>
<circle cx="378.4" cy="1084.5" r="0.75" stroke-width="0" fill="#e9e9ee"/>
<circle cx="380.6" cy="1084.5" r="0.75" stroke-width="0" fill="#e9e9ee"/>
<circle cx="377.2" cy="1088.4" r="0.75" stroke-width="0" fill="#e9e9ee"/>
<circle cx="381.8" cy="1088.4" r="0.75" stroke-width="0" fill="#e9e9ee"/>
<circle cx="378.4" cy="1092.3" r="0.75" stroke-width="0" fill="#e9e9ee"/>
<circle cx="380.6" cy="1092.3" r="0.75" stroke-width="0" fill="#e9e9ee"/>
<circle cx="377.2" cy="1096.2" r="0.75" stroke-width="0" fill="#e9e9ee"/>
<circle cx="381.8" cy="1096.2" r="0.75" stroke-width="0" fill="#e9e9ee"/>
<circle cx="378.4" cy="1100.1" r="0.75" stroke-width="0" fill="#e9e9ee"/>
<circle cx="380.6" cy="1100.1" r="0.75" stroke-width="0" fill="#e9e9ee"/>
<rect x="362.3" y="1116.6" width="24.4" height="13.7" stroke-width="0.9"/>
<polyline points="364,1119 385,1128 364,1128 385,1119" stroke-width="0.8"/>
<rect x="359.7" y="1130.3" width="33.8" height="139.2"/>
<line x1="366" y1="1130.3" x2="366" y2="1269.5"/>
<line x1="387.2" y1="1130.3" x2="387.2" y2="1269.5"/>
<rect x="361.7" y="1132" width="1.3" height="1.3" fill="#e9e9ee" stroke="none"/>
<rect x="363.7" y="1132" width="1.3" height="1.3" fill="#e9e9ee" stroke="none"/>
<rect x="365.4" y="1132" width="1.3" height="1.3" fill="#e9e9ee" stroke="none"/>
<rect x="361.7" y="1134.2" width="1.3" height="1.3" fill="#e9e9ee" stroke="none"/>
<rect x="363.7" y="1134.2" width="1.3" height="1.3" fill="#e9e9ee" stroke="none"/>
<rect x="365.4" y="1134.2" width="1.3" height="1.3" fill="#e9e9ee" stroke="none"/>
<rect x="361.7" y="1136.4" width="1.3" height="1.3" fill="#e9e9ee" stroke="none"/>
<rect x="363.7" y="1136.4" width="1.3" height="1.3" fill="#e9e9ee" stroke="none"/>
<rect x="365.4" y="1136.4" width="1.3" height="1.3" fill="#e9e9ee" stroke="none"/>
<rect x="361.7" y="1138.6" width="1.3" height="1.3" fill="#e9e9ee" stroke="none"/>
<rect x="363.7" y="1138.6" width="1.3" height="1.3" fill="#e9e9ee" stroke="none"/>
<rect x="365.4" y="1138.6" width="1.3" height="1.3" fill="#e9e9ee" stroke="none"/>
<rect x="361.7" y="1140.8" width="1.3" height="1.3" fill="#e9e9ee" stroke="none"/>
<rect x="363.7" y="1140.8" width="1.3" height="1.3" fill="#e9e9ee" stroke="none"/>
<rect x="365.4" y="1140.8" width="1.3" height="1.3" fill="#e9e9ee" stroke="none"/>
<rect x="361.7" y="1143" width="1.3" height="1.3" fill="#e9e9ee" stroke="none"/>
<rect x="363.7" y="1143" width="1.3" height="1.3" fill="#e9e9ee" stroke="none"/>
<rect x="365.4" y="1143" width="1.3" height="1.3" fill="#e9e9ee" stroke="none"/>
<rect x="361.7" y="1145.2" width="1.3" height="1.3" fill="#e9e9ee" stroke="none"/>
<rect x="363.7" y="1145.2" width="1.3" height="1.3" fill="#e9e9ee" stroke="none"/>
<rect x="365.4" y="1145.2" width="1.3" height="1.3" fill="#e9e9ee" stroke="none"/>
<rect x="361.7" y="1147.4" width="1.3" height="1.3" fill="#e9e9ee" stroke="none"/>
<rect x="363.7" y="1147.4" width="1.3" height="1.3" fill="#e9e9ee" stroke="none"/>
<rect x="365.4" y="1147.4" width="1.3" height="1.3" fill="#e9e9ee" stroke="none"/>
<rect x="361.7" y="1149.6" width="1.3" height="1.3" fill="#e9e9ee" stroke="none"/>
<rect x="363.7" y="1149.6" width="1.3" height="1.3" fill="#e9e9ee" stroke="none"/>
<rect x="365.4" y="1149.6" width="1.3" height="1.3" fill="#e9e9ee" stroke="none"/>
<rect x="361.7" y="1151.8" width="1.3" height="1.3" fill="#e9e9ee" stroke="none"/>
<rect x="363.7" y="1151.8" width="1.3" height="1.3" fill="#e9e9ee" stroke="none"/>
<rect x="365.4" y="1151.8" width="1.3" height="1.3" fill="#e9e9ee" stroke="none"/>
<rect x="361.7" y="1154" width="1.3" height="1.3" fill="#e9e9ee" stroke="none"/>
<rect x="363.7" y="1154" width="1.3" height="1.3" fill="#e9e9ee" stroke="none"/>
<rect x="365.4" y="1154" width="1.3" height="1.3" fill="#e9e9ee" stroke="none"/>
<rect x="361.7" y="1156.2" width="1.3" height="1.3" fill="#e9e9ee" stroke="none"/>
<rect x="363.7" y="1156.2" width="1.3" height="1.3" fill="#e9e9ee" stroke="none"/>
<rect x="365.4" y="1156.2" width="1.3" height="1.3" fill="#e9e9ee" stroke="none"/>
<rect x="361.7" y="1158.4" width="1.3" height="1.3" fill="#e9e9ee" stroke="none"/>
<rect x="363.7" y="1158.4" width="1.3" height="1.3" fill="#e9e9ee" stroke="none"/>
<rect x="365.4" y="1158.4" width="1.3" height="1.3" fill="#e9e9ee" stroke="none"/>
<rect x="361.7" y="1160.6" width="1.3" height="1.3" fill="#e9e9ee" stroke="none"/>
<rect x="363.7" y="1160.6" width="1.3" height="1.3" fill="#e9e9ee" stroke="none"/>
<rect x="365.4" y="1160.6" width="1.3" height="1.3" fill="#e9e9ee" stroke="none"/>
<rect x="361.7" y="1162.8" width="1.3" height="1.3" fill="#e9e9ee" stroke="none"/>
<rect x="363.7" y="1162.8" width="1.3" height="1.3" fill="#e9e9ee" stroke="none"/>
<rect x="365.4" y="1162.8" width="1.3" height="1.3" fill="#e9e9ee" stroke="none"/>
<rect x="361.7" y="1165" width="1.3" height="1.3" fill="#e9e9ee" stroke="none"/>
<rect x="363.7" y="1165" width="1.3" height="1.3" fill="#e9e9ee" stroke="none"/>
<rect x="365.4" y="1165" width="1.3" height="1.3" fill="#e9e9ee" stroke="none"/>
<rect x="361.7" y="1167.2" width="1.3" height="1.3" fill="#e9e9ee" stroke="none"/>
<rect x="363.7" y="1167.2" width="1.3" height="1.3" fill="#e9e9ee" stroke="none"/>
<rect x="365.4" y="1167.2" width="1.3" height="1.3" fill="#e9e9ee" stroke="none"/>
<rect x="361.7" y="1169.4" width="1.3" height="1.3" fill="#e9e9ee" stroke="none"/>
<rect x="363.7" y="1169.4" width="1.3" height="1.3" fill="#e9e9ee" stroke="none"/>
<rect x="365.4" y="1169.4" width="1.3" height="1.3" fill="#e9e9ee" stroke="none"/>
<rect x="361.7" y="1171.6" width="1.3" height="1.3" fill="#e9e9ee" stroke="none"/>
<rect x="363.7" y="1171.6" width="1.3" height="1.3" fill="#e9e9ee" stroke="none"/>
<rect x="365.4" y="1171.6" width="1.3" height="1.3" fill="#e9e9ee" stroke="none"/>
<rect x="361.7" y="1173.8" width="1.3" height="1.3" fill="#e9e9ee" stroke="none"/>
<rect x="363.7" y="1173.8" width="1.3" height="1.3" fill="#e9e9ee" stroke="none"/>
<rect x="365.4" y="1173.8" width="1.3" height="1.3" fill="#e9e9ee" stroke="none"/>
<rect x="361.7" y="1176" width="1.3" height="1.3" fill="#e9e9ee" stroke="none"/>
<rect x="363.7" y="1176" width="1.3" height="1.3" fill="#e9e9ee" stroke="none"/>
<rect x="365.4" y="1176" width="1.3" height="1.3" fill="#e9e9ee" stroke="none"/>
<rect x="361.7" y="1178.2" width="1.3" height="1.3" fill="#e9e9ee" stroke="none"/>
<rect x="363.7" y="1178.2" width="1.3" height="1.3" fill="#e9e9ee" stroke="none"/>
<rect x="365.4" y="1178.2" width="1.3" height="1.3" fill="#e9e9ee" stroke="none"/>
<rect x="361.7" y="1180.4" width="1.3" height="1.3" fill="#e9e9ee" stroke="none"/>
<rect x="363.7" y="1180.4" width="1.3" height="1.3" fill="#e9e9ee" stroke="none"/>
<rect x="365.4" y="1180.4" width="1.3" height="1.3" fill="#e9e9ee" stroke="none"/>
<rect x="361.7" y="1182.6" width="1.3" height="1.3" fill="#e9e9ee" stroke="none"/>
<rect x="363.7" y="1182.6" width="1.3" height="1.3" fill="#e9e9ee" stroke="none"/>
<rect x="365.4" y="1182.6" width="1.3" height="1.3" fill="#e9e9ee" stroke="none"/>
<rect x="361.7" y="1184.8" width="1.3" height="1.3" fill="#e9e9ee" stroke="none"/>
<rect x="363.7" y="1184.8" width="1.3" height="1.3" fill="#e9e9ee" stroke="none"/>
<rect x="365.4" y="1184.8" width="1.3" height="1.3" fill="#e9e9ee" stroke="none"/>
<rect x="361.7" y="1187" width="1.3" height="1.3" fill="#e9e9ee" stroke="none"/>
<rect x="363.7" y="1187" width="1.3" height="1.3" fill="#e9e9ee" stroke="none"/>
<rect x="365.4" y="1187" width="1.3" height="1.3" fill="#e9e9ee" stroke="none"/>
<rect x="361.7" y="1189.2" width="1.3" height="1.3" fill="#e9e9ee" stroke="none"/>
<rect x="363.7" y="1189.2" width="1.3" height="1.3" fill="#e9e9ee" stroke="none"/>
<rect x="365.4" y="1189.2" width="1.3" height="1.3" fill="#e9e9ee" stroke="none"/>
<rect x="361.7" y="1191.4" width="1.3" height="1.3" fill="#e9e9ee" stroke="none"/>
<rect x="363.7" y="1191.4" width="1.3" height="1.3" fill="#e9e9ee" stroke="none"/>
<rect x="365.4" y="1191.4" width="1.3" height="1.3" fill="#e9e9ee" stroke="none"/>
<rect x="361.7" y="1193.6" width="1.3" height="1.3" fill="#e9e9ee" stroke="none"/>
<rect x="363.7" y="1193.6" width="1.3" height="1.3" fill="#e9e9ee" stroke="none"/>
<rect x="365.4" y="1193.6" width="1.3" height="1.3" fill="#e9e9ee" stroke="none"/>
<rect x="361.7" y="1195.8" width="1.3" height="1.3" fill="#e9e9ee" stroke="none"/>
<rect x="363.7" y="1195.8" width="1.3" height="1.3" fill="#e9e9ee" stroke="none"/>
<rect x="365.4" y="1195.8" width="1.3" height="1.3" fill="#e9e9ee" stroke="none"/>
<rect x="361.7" y="1198" width="1.3" height="1.3" fill="#e9e9ee" stroke="none"/>
<rect x="363.7" y="1198" width="1.3" height="1.3" fill="#e9e9ee" stroke="none"/>
<rect x="365.4" y="1198" width="1.3" height="1.3" fill="#e9e9ee" stroke="none"/>
<rect x="361.7" y="1200.2" width="1.3" height="1.3" fill="#e9e9ee" stroke="none"/>
<rect x="363.7" y="1200.2" width="1.3" height="1.3" fill="#e9e9ee" stroke="none"/>
<rect x="365.4" y="1200.2" width="1.3" height="1.3" fill="#e9e9ee" stroke="none"/>
<rect x="361.7" y="1202.4" width="1.3" height="1.3" fill="#e9e9ee" stroke="none"/>
<rect x="363.7" y="1202.4" width="1.3" height="1.3" fill="#e9e9ee" stroke="none"/>
<rect x="365.4" y="1202.4" width="1.3" height="1.3" fill="#e9e9ee" stroke="none"/>
<rect x="361.7" y="1204.6" width="1.3" height="1.3" fill="#e9e9ee" stroke="none"/>
<rect x="363.7" y="1204.6" width="1.3" height="1.3" fill="#e9e9ee" stroke="none"/>
<rect x="365.4" y="1204.6" width="1.3" height="1.3" fill="#e9e9ee" stroke="none"/>
<rect x="361.7" y="1206.8" width="1.3" height="1.3" fill="#e9e9ee" stroke="none"/>
<rect x="363.7" y="1206.8" width="1.3" height="1.3" fill="#e9e9ee" stroke="none"/>
<rect x="365.4" y="1206.8" width="1.3" height="1.3" fill="#e9e9ee" stroke="none"/>
<rect x="361.7" y="1209" width="1.3" height="1.3" fill="#e9e9ee" stroke="none"/>
<rect x="363.7" y="1209" width="1.3" height="1.3" fill="#e9e9ee" stroke="none"/>
<rect x="365.4" y="1209" width="1.3" height="1.3" fill="#e9e9ee" stroke="none"/>
<rect x="361.7" y="1211.2" width="1.3" height="1.3" fill="#e9e9ee" stroke="none"/>
<rect x="363.7" y="1211.2" width="1.3" height="1.3" fill="#e9e9ee" stroke="none"/>
<rect x="365.4" y="1211.2" width="1.3" height="1.3" fill="#e9e9ee" stroke="none"/>
<rect x="361.7" y="1213.4" width="1.3" height="1.3" fill="#e9e9ee" stroke="none"/>
<rect x="363.7" y="1213.4" width="1.3" height="1.3" fill="#e9e9ee" stroke="none"/>
<rect x="365.4" y="1213.4" width="1.3" height="1.3" fill="#e9e9ee" stroke="none"/>
<rect x="361.7" y="1215.6" width="1.3" height="1.3" fill="#e9e9ee" stroke="none"/>
<rect x="363.7" y="1215.6" width="1.3" height="1.3" fill="#e9e9ee" stroke="none"/>
<rect x="365.4" y="1215.6" width="1.3" height="1.3" fill="#e9e9ee" stroke="none"/>
<rect x="361.7" y="1217.8" width="1.3" height="1.3" fill="#e9e9ee" stroke="none"/>
<rect x="363.7" y="1217.8" width="1.3" height="1.3" fill="#e9e9ee" stroke="none"/>
<rect x="365.4" y="1217.8" width="1.3" height="1.3" fill="#e9e9ee" stroke="none"/>
<rect x="361.7" y="1220" width="1.3" height="1.3" fill="#e9e9ee" stroke="none"/>
<rect x="363.7" y="1220" width="1.3" height="1.3" fill="#e9e9ee" stroke="none"/>
<rect x="365.4" y="1220" width="1.3" height="1.3" fill="#e9e9ee" stroke="none"/>
<rect x="361.7" y="1222.2" width="1.3" height="1.3" fill="#e9e9ee" stroke="none"/>
<rect x="363.7" y="1222.2" width="1.3" height="1.3" fill="#e9e9ee" stroke="none"/>
<rect x="365.4" y="1222.2" width="1.3" height="1.3" fill="#e9e9ee" stroke="none"/>
<rect x="361.7" y="1224.4" width="1.3" height="1.3" fill="#e9e9ee" stroke="none"/>
<rect x="363.7" y="1224.4" width="1.3" height="1.3" fill="#e9e9ee" stroke="none"/>
<rect x="365.4" y="1224.4" width="1.3" height="1.3" fill="#e9e9ee" stroke="none"/>
<rect x="361.7" y="1226.6" width="1.3" height="1.3" fill="#e9e9ee" stroke="none"/>
<rect x="363.7" y="1226.6" width="1.3" height="1.3" fill="#e9e9ee" stroke="none"/>
<rect x="365.4" y="1226.6" width="1.3" height="1.3" fill="#e9e9ee" stroke="none"/>
<rect x="361.7" y="1228.8" width="1.3" height="1.3" fill="#e9e9ee" stroke="none"/>
<rect x="363.7" y="1228.8" width="1.3" height="1.3" fill="#e9e9ee" stroke="none"/>
<rect x="365.4" y="1228.8" width="1.3" height="1.3" fill="#e9e9ee" stroke="none"/>
<rect x="361.7" y="1231" width="1.3" height="1.3" fill="#e9e9ee" stroke="none"/>
<rect x="363.7" y="1231" width="1.3" height="1.3" fill="#e9e9ee" stroke="none"/>
<rect x="365.4" y="1231" width="1.3" height="1.3" fill="#e9e9ee" stroke="none"/>
<rect x="361.7" y="1233.2" width="1.3" height="1.3" fill="#e9e9ee" stroke="none"/>
<rect x="363.7" y="1233.2" width="1.3" height="1.3" fill="#e9e9ee" stroke="none"/>
<rect x="365.4" y="1233.2" width="1.3" height="1.3" fill="#e9e9ee" stroke="none"/>
<rect x="361.7" y="1235.4" width="1.3" height="1.3" fill="#e9e9ee" stroke="none"/>
<rect x="363.7" y="1235.4" width="1.3" height="1.3" fill="#e9e9ee" stroke="none"/>
<rect x="365.4" y="1235.4" width="1.3" height="1.3" fill="#e9e9ee" stroke="none"/>
<rect x="361.7" y="1237.6" width="1.3" height="1.3" fill="#e9e9ee" stroke="none"/>
<rect x="363.7" y="1237.6" width="1.3" height="1.3" fill="#e9e9ee" stroke="none"/>
<rect x="365.4" y="1237.6" width="1.3" height="1.3" fill="#e9e9ee" stroke="none"/>
<rect x="361.7" y="1239.8" width="1.3" height="1.3" fill="#e9e9ee" stroke="none"/>
<rect x="363.7" y="1239.8" width="1.3" height="1.3" fill="#e9e9ee" stroke="none"/>
<rect x="365.4" y="1239.8" width="1.3" height="1.3" fill="#e9e9ee" stroke="none"/>
<rect x="361.7" y="1242" width="1.3" height="1.3" fill="#e9e9ee" stroke="none"/>
<rect x="363.7" y="1242" width="1.3" height="1.3" fill="#e9e9ee" stroke="none"/>
<rect x="365.4" y="1242" width="1.3" height="1.3" fill="#e9e9ee" stroke="none"/>
<rect x="361.7" y="1244.2" width="1.3" height="1.3" fill="#e9e9ee" stroke="none"/>
<rect x="363.7" y="1244.2" width="1.3" height="1.3" fill="#e9e9ee" stroke="none"/>
<rect x="365.4" y="1244.2" width="1.3" height="1.3" fill="#e9e9ee" stroke="none"/>
<rect x="361.7" y="1246.4" width="1.3" height="1.3" fill="#e9e9ee" stroke="none"/>
<rect x="363.7" y="1246.4" width="1.3" height="1.3" fill="#e9e9ee" stroke="none"/>
<rect x="365.4" y="1246.4" width="1.3" height="1.3" fill="#e9e9ee" stroke="none"/>
<rect x="361.7" y="1248.6" width="1.3" height="1.3" fill="#e9e9ee" stroke="none"/>
<rect x="363.7" y="1248.6" width="1.3" height="1.3" fill="#e9e9ee" stroke="none"/>
<rect x="365.4" y="1248.6" width="1.3" height="1.3" fill="#e9e9ee" stroke="none"/>
<rect x="361.7" y="1250.8" width="1.3" height="1.3" fill="#e9e9ee" stroke="none"/>
<rect x="363.7" y="1250.8" width="1.3" height="1.3" fill="#e9e9ee" stroke="none"/>
<rect x="365.4" y="1250.8" width="1.3" height="1.3" fill="#e9e9ee" stroke="none"/>
<rect x="361.7" y="1253" width="1.3" height="1.3" fill="#e9e9ee" stroke="none"/>
<rect x="363.7" y="1253" width="1.3" height="1.3" fill="#e9e9ee" stroke="none"/>
<rect x="365.4" y="1253" width="1.3" height="1.3" fill="#e9e9ee" stroke="none"/>
<rect x="361.7" y="1255.2" width="1.3" height="1.3" fill="#e9e9ee" stroke="none"/>
<rect x="363.7" y="1255.2" width="1.3" height="1.3" fill="#e9e9ee" stroke="none"/>
<rect x="365.4" y="1255.2" width="1.3" height="1.3" fill="#e9e9ee" stroke="none"/>
<rect x="361.7" y="1257.4" width="1.3" height="1.3" fill="#e9e9ee" stroke="none"/>
<rect x="363.7" y="1257.4" width="1.3" height="1.3" fill="#e9e9ee" stroke="none"/>
<rect x="365.4" y="1257.4" width="1.3" height="1.3" fill="#e9e9ee" stroke="none"/>
<rect x="361.7" y="1259.6" width="1.3" height="1.3" fill="#e9e9ee" stroke="none"/>
<rect x="363.7" y="1259.6" width="1.3" height="1.3" fill="#e9e9ee" stroke="none"/>
<rect x="365.4" y="1259.6" width="1.3" height="1.3" fill="#e9e9ee" stroke="none"/>
<rect x="361.7" y="1261.8" width="1.3" height="1.3" fill="#e9e9ee" stroke="none"/>
<rect x="363.7" y="1261.8" width="1.3" height="1.3" fill="#e9e9ee" stroke="none"/>
<rect x="365.4" y="1261.8" width="1.3" height="1.3" fill="#e9e9ee" stroke="none"/>
<rect x="361.7" y="1264" width="1.3" height="1.3" fill="#e9e9ee" stroke="none"/>
<rect x="363.7" y="1264" width="1.3" height="1.3" fill="#e9e9ee" stroke="none"/>
<rect x="365.4" y="1264" width="1.3" height="1.3" fill="#e9e9ee" stroke="none"/>
<rect x="361.7" y="1266.2" width="1.3" height="1.3" fill="#e9e9ee" stroke="none"/>
<rect x="363.7" y="1266.2" width="1.3" height="1.3" fill="#e9e9ee" stroke="none"/>
<rect x="365.4" y="1266.2" width="1.3" height="1.3" fill="#e9e9ee" stroke="none"/>
<rect x="388.7" y="1132" width="1.3" height="1.3" fill="#e9e9ee" stroke="none"/>
<rect x="390.7" y="1132" width="1.3" height="1.3" fill="#e9e9ee" stroke="none"/>
<rect x="392.4" y="1132" width="1.3" height="1.3" fill="#e9e9ee" stroke="none"/>
<rect x="388.7" y="1134.2" width="1.3" height="1.3" fill="#e9e9ee" stroke="none"/>
<rect x="390.7" y="1134.2" width="1.3" height="1.3" fill="#e9e9ee" stroke="none"/>
<rect x="392.4" y="1134.2" width="1.3" height="1.3" fill="#e9e9ee" stroke="none"/>
<rect x="388.7" y="1136.4" width="1.3" height="1.3" fill="#e9e9ee" stroke="none"/>
<rect x="390.7" y="1136.4" width="1.3" height="1.3" fill="#e9e9ee" stroke="none"/>
<rect x="392.4" y="1136.4" width="1.3" height="1.3" fill="#e9e9ee" stroke="none"/>
<rect x="388.7" y="1138.6" width="1.3" height="1.3" fill="#e9e9ee" stroke="none"/>
<rect x="390.7" y="1138.6" width="1.3" height="1.3" fill="#e9e9ee" stroke="none"/>
<rect x="392.4" y="1138.6" width="1.3" height="1.3" fill="#e9e9ee" stroke="none"/>
<rect x="388.7" y="1140.8" width="1.3" height="1.3" fill="#e9e9ee" stroke="none"/>
<rect x="390.7" y="1140.8" width="1.3" height="1.3" fill="#e9e9ee" stroke="none"/>
<rect x="392.4" y="1140.8" width="1.3" height="1.3" fill="#e9e9ee" stroke="none"/>
<rect x="388.7" y="1143" width="1.3" height="1.3" fill="#e9e9ee" stroke="none"/>
<rect x="390.7" y="1143" width="1.3" height="1.3" fill="#e9e9ee" stroke="none"/>
<rect x="392.4" y="1143" width="1.3" height="1.3" fill="#e9e9ee" stroke="none"/>
<rect x="388.7" y="1145.2" width="1.3" height="1.3" fill="#e9e9ee" stroke="none"/>
<rect x="390.7" y="1145.2" width="1.3" height="1.3" fill="#e9e9ee" stroke="none"/>
<rect x="392.4" y="1145.2" width="1.3" height="1.3" fill="#e9e9ee" stroke="none"/>
<rect x="388.7" y="1147.4" width="1.3" height="1.3" fill="#e9e9ee" stroke="none"/>
<rect x="390.7" y="1147.4" width="1.3" height="1.3" fill="#e9e9ee" stroke="none"/>
<rect x="392.4" y="1147.4" width="1.3" height="1.3" fill="#e9e9ee" stroke="none"/>
<rect x="388.7" y="1149.6" width="1.3" height="1.3" fill="#e9e9ee" stroke="none"/>
<rect x="390.7" y="1149.6" width="1.3" height="1.3" fill="#e9e9ee" stroke="none"/>
<rect x="392.4" y="1149.6" width="1.3" height="1.3" fill="#e9e9ee" stroke="none"/>
<rect x="388.7" y="1151.8" width="1.3" height="1.3" fill="#e9e9ee" stroke="none"/>
<rect x="390.7" y="1151.8" width="1.3" height="1.3" fill="#e9e9ee" stroke="none"/>
<rect x="392.4" y="1151.8" width="1.3" height="1.3" fill="#e9e9ee" stroke="none"/>
<rect x="388.7" y="1154" width="1.3" height="1.3" fill="#e9e9ee" stroke="none"/>
<rect x="390.7" y="1154" width="1.3" height="1.3" fill="#e9e9ee" stroke="none"/>
<rect x="392.4" y="1154" width="1.3" height="1.3" fill="#e9e9ee" stroke="none"/>
<rect x="388.7" y="1156.2" width="1.3" height="1.3" fill="#e9e9ee" stroke="none"/>
<rect x="390.7" y="1156.2" width="1.3" height="1.3" fill="#e9e9ee" stroke="none"/>
<rect x="392.4" y="1156.2" width="1.3" height="1.3" fill="#e9e9ee" stroke="none"/>
<rect x="388.7" y="1158.4" width="1.3" height="1.3" fill="#e9e9ee" stroke="none"/>
<rect x="390.7" y="1158.4" width="1.3" height="1.3" fill="#e9e9ee" stroke="none"/>
<rect x="392.4" y="1158.4" width="1.3" height="1.3" fill="#e9e9ee" stroke="none"/>
<rect x="388.7" y="1160.6" width="1.3" height="1.3" fill="#e9e9ee" stroke="none"/>
<rect x="390.7" y="1160.6" width="1.3" height="1.3" fill="#e9e9ee" stroke="none"/>
<rect x="392.4" y="1160.6" width="1.3" height="1.3" fill="#e9e9ee" stroke="none"/>
<rect x="388.7" y="1162.8" width="1.3" height="1.3" fill="#e9e9ee" stroke="none"/>
<rect x="390.7" y="1162.8" width="1.3" height="1.3" fill="#e9e9ee" stroke="none"/>
<rect x="392.4" y="1162.8" width="1.3" height="1.3" fill="#e9e9ee" stroke="none"/>
<rect x="388.7" y="1165" width="1.3" height="1.3" fill="#e9e9ee" stroke="none"/>
<rect x="390.7" y="1165" width="1.3" height="1.3" fill="#e9e9ee" stroke="none"/>
<rect x="392.4" y="1165" width="1.3" height="1.3" fill="#e9e9ee" stroke="none"/>
<rect x="388.7" y="1167.2" width="1.3" height="1.3" fill="#e9e9ee" stroke="none"/>
<rect x="390.7" y="1167.2" width="1.3" height="1.3" fill="#e9e9ee" stroke="none"/>
<rect x="392.4" y="1167.2" width="1.3" height="1.3" fill="#e9e9ee" stroke="none"/>
<rect x="388.7" y="1169.4" width="1.3" height="1.3" fill="#e9e9ee" stroke="none"/>
<rect x="390.7" y="1169.4" width="1.3" height="1.3" fill="#e9e9ee" stroke="none"/>
<rect x="392.4" y="1169.4" width="1.3" height="1.3" fill="#e9e9ee" stroke="none"/>
<rect x="388.7" y="1171.6" width="1.3" height="1.3" fill="#e9e9ee" stroke="none"/>
<rect x="390.7" y="1171.6" width="1.3" height="1.3" fill="#e9e9ee" stroke="none"/>
<rect x="392.4" y="1171.6" width="1.3" height="1.3" fill="#e9e9ee" stroke="none"/>
<rect x="388.7" y="1173.8" width="1.3" height="1.3" fill="#e9e9ee" stroke="none"/>
<rect x="390.7" y="1173.8" width="1.3" height="1.3" fill="#e9e9ee" stroke="none"/>
<rect x="392.4" y="1173.8" width="1.3" height="1.3" fill="#e9e9ee" stroke="none"/>
<rect x="388.7" y="1176" width="1.3" height="1.3" fill="#e9e9ee" stroke="none"/>
<rect x="390.7" y="1176" width="1.3" height="1.3" fill="#e9e9ee" stroke="none"/>
<rect x="392.4" y="1176" width="1.3" height="1.3" fill="#e9e9ee" stroke="none"/>
<rect x="388.7" y="1178.2" width="1.3" height="1.3" fill="#e9e9ee" stroke="none"/>
<rect x="390.7" y="1178.2" width="1.3" height="1.3" fill="#e9e9ee" stroke="none"/>
<rect x="392.4" y="1178.2" width="1.3" height="1.3" fill="#e9e9ee" stroke="none"/>
<rect x="388.7" y="1180.4" width="1.3" height="1.3" fill="#e9e9ee" stroke="none"/>
<rect x="390.7" y="1180.4" width="1.3" height="1.3" fill="#e9e9ee" stroke="none"/>
<rect x="392.4" y="1180.4" width="1.3" height="1.3" fill="#e9e9ee" stroke="none"/>
<rect x="388.7" y="1182.6" width="1.3" height="1.3" fill="#e9e9ee" stroke="none"/>
<rect x="390.7" y="1182.6" width="1.3" height="1.3" fill="#e9e9ee" stroke="none"/>
<rect x="392.4" y="1182.6" width="1.3" height="1.3" fill="#e9e9ee" stroke="none"/>
<rect x="388.7" y="1184.8" width="1.3" height="1.3" fill="#e9e9ee" stroke="none"/>
<rect x="390.7" y="1184.8" width="1.3" height="1.3" fill="#e9e9ee" stroke="none"/>
<rect x="392.4" y="1184.8" width="1.3" height="1.3" fill="#e9e9ee" stroke="none"/>
<rect x="388.7" y="1187" width="1.3" height="1.3" fill="#e9e9ee" stroke="none"/>
<rect x="390.7" y="1187" width="1.3" height="1.3" fill="#e9e9ee" stroke="none"/>
<rect x="392.4" y="1187" width="1.3" height="1.3" fill="#e9e9ee" stroke="none"/>
<rect x="388.7" y="1189.2" width="1.3" height="1.3" fill="#e9e9ee" stroke="none"/>
<rect x="390.7" y="1189.2" width="1.3" height="1.3" fill="#e9e9ee" stroke="none"/>
<rect x="392.4" y="1189.2" width="1.3" height="1.3" fill="#e9e9ee" stroke="none"/>
<rect x="388.7" y="1191.4" width="1.3" height="1.3" fill="#e9e9ee" stroke="none"/>
<rect x="390.7" y="1191.4" width="1.3" height="1.3" fill="#e9e9ee" stroke="none"/>
<rect x="392.4" y="1191.4" width="1.3" height="1.3" fill="#e9e9ee" stroke="none"/>
<rect x="388.7" y="1193.6" width="1.3" height="1.3" fill="#e9e9ee" stroke="none"/>
<rect x="390.7" y="1193.6" width="1.3" height="1.3" fill="#e9e9ee" stroke="none"/>
<rect x="392.4" y="1193.6" width="1.3" height="1.3" fill="#e9e9ee" stroke="none"/>
<rect x="388.7" y="1195.8" width="1.3" height="1.3" fill="#e9e9ee" stroke="none"/>
<rect x="390.7" y="1195.8" width="1.3" height="1.3" fill="#e9e9ee" stroke="none"/>
<rect x="392.4" y="1195.8" width="1.3" height="1.3" fill="#e9e9ee" stroke="none"/>
<rect x="388.7" y="1198" width="1.3" height="1.3" fill="#e9e9ee" stroke="none"/>
<rect x="390.7" y="1198" width="1.3" height="1.3" fill="#e9e9ee" stroke="none"/>
<rect x="392.4" y="1198" width="1.3" height="1.3" fill="#e9e9ee" stroke="none"/>
<rect x="388.7" y="1200.2" width="1.3" height="1.3" fill="#e9e9ee" stroke="none"/>
<rect x="390.7" y="1200.2" width="1.3" height="1.3" fill="#e9e9ee" stroke="none"/>
<rect x="392.4" y="1200.2" width="1.3" height="1.3" fill="#e9e9ee" stroke="none"/>
<rect x="388.7" y="1202.4" width="1.3" height="1.3" fill="#e9e9ee" stroke="none"/>
<rect x="390.7" y="1202.4" width="1.3" height="1.3" fill="#e9e9ee" stroke="none"/>
<rect x="392.4" y="1202.4" width="1.3" height="1.3" fill="#e9e9ee" stroke="none"/>
<rect x="388.7" y="1204.6" width="1.3" height="1.3" fill="#e9e9ee" stroke="none"/>
<rect x="390.7" y="1204.6" width="1.3" height="1.3" fill="#e9e9ee" stroke="none"/>
<rect x="392.4" y="1204.6" width="1.3" height="1.3" fill="#e9e9ee" stroke="none"/>
<rect x="388.7" y="1206.8" width="1.3" height="1.3" fill="#e9e9ee" stroke="none"/>
<rect x="390.7" y="1206.8" width="1.3" height="1.3" fill="#e9e9ee" stroke="none"/>
<rect x="392.4" y="1206.8" width="1.3" height="1.3" fill="#e9e9ee" stroke="none"/>
<rect x="388.7" y="1209" width="1.3" height="1.3" fill="#e9e9ee" stroke="none"/>
<rect x="390.7" y="1209" width="1.3" height="1.3" fill="#e9e9ee" stroke="none"/>
<rect x="392.4" y="1209" width="1.3" height="1.3" fill="#e9e9ee" stroke="none"/>
<rect x="388.7" y="1211.2" width="1.3" height="1.3" fill="#e9e9ee" stroke="none"/>
<rect x="390.7" y="1211.2" width="1.3" height="1.3" fill="#e9e9ee" stroke="none"/>
<rect x="392.4" y="1211.2" width="1.3" height="1.3" fill="#e9e9ee" stroke="none"/>
<rect x="388.7" y="1213.4" width="1.3" height="1.3" fill="#e9e9ee" stroke="none"/>
<rect x="390.7" y="1213.4" width="1.3" height="1.3" fill="#e9e9ee" stroke="none"/>
<rect x="392.4" y="1213.4" width="1.3" height="1.3" fill="#e9e9ee" stroke="none"/>
<rect x="388.7" y="1215.6" width="1.3" height="1.3" fill="#e9e9ee" stroke="none"/>
<rect x="390.7" y="1215.6" width="1.3" height="1.3" fill="#e9e9ee" stroke="none"/>
<rect x="392.4" y="1215.6" width="1.3" height="1.3" fill="#e9e9ee" stroke="none"/>
<rect x="388.7" y="1217.8" width="1.3" height="1.3" fill="#e9e9ee" stroke="none"/>
<rect x="390.7" y="1217.8" width="1.3" height="1.3" fill="#e9e9ee" stroke="none"/>
<rect x="392.4" y="1217.8" width="1.3" height="1.3" fill="#e9e9ee" stroke="none"/>
<rect x="388.7" y="1220" width="1.3" height="1.3" fill="#e9e9ee" stroke="none"/>
<rect x="390.7" y="1220" width="1.3" height="1.3" fill="#e9e9ee" stroke="none"/>
<rect x="392.4" y="1220" width="1.3" height="1.3" fill="#e9e9ee" stroke="none"/>
<rect x="388.7" y="1222.2" width="1.3" height="1.3" fill="#e9e9ee" stroke="none"/>
<rect x="390.7" y="1222.2" width="1.3" height="1.3" fill="#e9e9ee" stroke="none"/>
<rect x="392.4" y="1222.2" width="1.3" height="1.3" fill="#e9e9ee" stroke="none"/>
<rect x="388.7" y="1224.4" width="1.3" height="1.3" fill="#e9e9ee" stroke="none"/>
<rect x="390.7" y="1224.4" width="1.3" height="1.3" fill="#e9e9ee" stroke="none"/>
<rect x="392.4" y="1224.4" width="1.3" height="1.3" fill="#e9e9ee" stroke="none"/>
<rect x="388.7" y="1226.6" width="1.3" height="1.3" fill="#e9e9ee" stroke="none"/>
<rect x="390.7" y="1226.6" width="1.3" height="1.3" fill="#e9e9ee" stroke="none"/>
<rect x="392.4" y="1226.6" width="1.3" height="1.3" fill="#e9e9ee" stroke="none"/>
<rect x="388.7" y="1228.8" width="1.3" height="1.3" fill="#e9e9ee" stroke="none"/>
<rect x="390.7" y="1228.8" width="1.3" height="1.3" fill="#e9e9ee" stroke="none"/>
<rect x="392.4" y="1228.8" width="1.3" height="1.3" fill="#e9e9ee" stroke="none"/>
<rect x="388.7" y="1231" width="1.3" height="1.3" fill="#e9e9ee" stroke="none"/>
<rect x="390.7" y="1231" width="1.3" height="1.3" fill="#e9e9ee" stroke="none"/>
<rect x="392.4" y="1231" width="1.3" height="1.3" fill="#e9e9ee" stroke="none"/>
<rect x="388.7" y="1233.2" width="1.3" height="1.3" fill="#e9e9ee" stroke="none"/>
<rect x="390.7" y="1233.2" width="1.3" height="1.3" fill="#e9e9ee" stroke="none"/>
<rect x="392.4" y="1233.2" width="1.3" height="1.3" fill="#e9e9ee" stroke="none"/>
<rect x="388.7" y="1235.4" width="1.3" height="1.3" fill="#e9e9ee" stroke="none"/>
<rect x="390.7" y="1235.4" width="1.3" height="1.3" fill="#e9e9ee" stroke="none"/>
<rect x="392.4" y="1235.4" width="1.3" height="1.3" fill="#e9e9ee" stroke="none"/>
<rect x="388.7" y="1237.6" width="1.3" height="1.3" fill="#e9e9ee" stroke="none"/>
<rect x="390.7" y="1237.6" width="1.3" height="1.3" fill="#e9e9ee" stroke="none"/>
<rect x="392.4" y="1237.6" width="1.3" height="1.3" fill="#e9e9ee" stroke="none"/>
<rect x="388.7" y="1239.8" width="1.3" height="1.3" fill="#e9e9ee" stroke="none"/>
<rect x="390.7" y="1239.8" width="1.3" height="1.3" fill="#e9e9ee" stroke="none"/>
<rect x="392.4" y="1239.8" width="1.3" height="1.3" fill="#e9e9ee" stroke="none"/>
<rect x="388.7" y="1242" width="1.3" height="1.3" fill="#e9e9ee" stroke="none"/>
<rect x="390.7" y="1242" width="1.3" height="1.3" fill="#e9e9ee" stroke="none"/>
<rect x="392.4" y="1242" width="1.3" height="1.3" fill="#e9e9ee" stroke="none"/>
<rect x="388.7" y="1244.2" width="1.3" height="1.3" fill="#e9e9ee" stroke="none"/>
<rect x="390.7" y="1244.2" width="1.3" height="1.3" fill="#e9e9ee" stroke="none"/>
<rect x="392.4" y="1244.2" width="1.3" height="1.3" fill="#e9e9ee" stroke="none"/>
<rect x="388.7" y="1246.4" width="1.3" height="1.3" fill="#e9e9ee" stroke="none"/>
<rect x="390.7" y="1246.4" width="1.3" height="1.3" fill="#e9e9ee" stroke="none"/>
<rect x="392.4" y="1246.4" width="1.3" height="1.3" fill="#e9e9ee" stroke="none"/>
<rect x="388.7" y="1248.6" width="1.3" height="1.3" fill="#e9e9ee" stroke="none"/>
<rect x="390.7" y="1248.6" width="1.3" height="1.3" fill="#e9e9ee" stroke="none"/>
<rect x="392.4" y="1248.6" width="1.3" height="1.3" fill="#e9e9ee" stroke="none"/>
<rect x="388.7" y="1250.8" width="1.3" height="1.3" fill="#e9e9ee" stroke="none"/>
<rect x="390.7" y="1250.8" width="1.3" height="1.3" fill="#e9e9ee" stroke="none"/>
<rect x="392.4" y="1250.8" width="1.3" height="1.3" fill="#e9e9ee" stroke="none"/>
<rect x="388.7" y="1253" width="1.3" height="1.3" fill="#e9e9ee" stroke="none"/>
<rect x="390.7" y="1253" width="1.3" height="1.3" fill="#e9e9ee" stroke="none"/>
<rect x="392.4" y="1253" width="1.3" height="1.3" fill="#e9e9ee" stroke="none"/>
<rect x="388.7" y="1255.2" width="1.3" height="1.3" fill="#e9e9ee" stroke="none"/>
<rect x="390.7" y="1255.2" width="1.3" height="1.3" fill="#e9e9ee" stroke="none"/>
<rect x="392.4" y="1255.2" width="1.3" height="1.3" fill="#e9e9ee" stroke="none"/>
<rect x="388.7" y="1257.4" width="1.3" height="1.3" fill="#e9e9ee" stroke="none"/>
<rect x="390.7" y="1257.4" width="1.3" height="1.3" fill="#e9e9ee" stroke="none"/>
<rect x="392.4" y="1257.4" width="1.3" height="1.3" fill="#e9e9ee" stroke="none"/>
<rect x="388.7" y="1259.6" width="1.3" height="1.3" fill="#e9e9ee" stroke="none"/>
<rect x="390.7" y="1259.6" width="1.3" height="1.3" fill="#e9e9ee" stroke="none"/>
<rect x="392.4" y="1259.6" width="1.3" height="1.3" fill="#e9e9ee" stroke="none"/>
<rect x="388.7" y="1261.8" width="1.3" height="1.3" fill="#e9e9ee" stroke="none"/>
<rect x="390.7" y="1261.8" width="1.3" height="1.3" fill="#e9e9ee" stroke="none"/>
<rect x="392.4" y="1261.8" width="1.3" height="1.3" fill="#e9e9ee" stroke="none"/>
<rect x="388.7" y="1264" width="1.3" height="1.3" fill="#e9e9ee" stroke="none"/>
<rect x="390.7" y="1264" width="1.3" height="1.3" fill="#e9e9ee" stroke="none"/>
<rect x="392.4" y="1264" width="1.3" height="1.3" fill="#e9e9ee" stroke="none"/>
<rect x="388.7" y="1266.2" width="1.3" height="1.3" fill="#e9e9ee" stroke="none"/>
<rect x="390.7" y="1266.2" width="1.3" height="1.3" fill="#e9e9ee" stroke="none"/>
<rect x="392.4" y="1266.2" width="1.3" height="1.3" fill="#e9e9ee" stroke="none"/>
<line x1="366" y1="1165.1" x2="387.2" y2="1165.1" stroke-width="0.9"/>
<line x1="366" y1="1167.2" x2="387.2" y2="1167.2" stroke-width="0.9"/>
<line x1="366" y1="1200" x2="387.2" y2="1200" stroke-width="0.9"/>
<line x1="366" y1="1202" x2="387.2" y2="1202" stroke-width="0.9"/>
<line x1="366" y1="1234.7" x2="387.2" y2="1234.7" stroke-width="0.9"/>
<line x1="366" y1="1236.8" x2="387.2" y2="1236.8" stroke-width="0.9"/>
<circle cx="368" cy="1143" r="0.6" stroke-width="0" fill="#e9e9ee"/>
<circle cx="370.2" cy="1143" r="0.6" stroke-width="0" fill="#e9e9ee"/>
<circle cx="372.4" cy="1143" r="0.6" stroke-width="0" fill="#e9e9ee"/>
<rect x="377.6" y="1115.5" width="3" height="180.5" stroke-width="0.7" fill="#cfcfd4"/>
<circle cx="379.1" cy="1296" r="2.2" stroke-width="0.9"/>
<line x1="340.3" y1="1081.7" x2="340.3" y2="1269.5"/>
<line x1="356.6" y1="1081.7" x2="356.6" y2="1269.5"/>
<line x1="340.3" y1="1086" x2="356.6" y2="1086" stroke-width="0.9"/>
<line x1="340.3" y1="1088" x2="356.6" y2="1088" stroke-width="0.9"/>
<line x1="340.3" y1="1098.2" x2="356.6" y2="1098.2" stroke-width="0.9"/>
<line x1="340.3" y1="1100.2" x2="356.6" y2="1100.2" stroke-width="0.9"/>
<line x1="340.3" y1="1110.4" x2="356.6" y2="1110.4" stroke-width="0.9"/>
<line x1="340.3" y1="1112.4" x2="356.6" y2="1112.4" stroke-width="0.9"/>
<line x1="340.3" y1="1122.6" x2="356.6" y2="1122.6" stroke-width="0.9"/>
<line x1="340.3" y1="1124.6" x2="356.6" y2="1124.6" stroke-width="0.9"/>
<line x1="340.3" y1="1134.8" x2="356.6" y2="1134.8" stroke-width="0.9"/>
<line x1="340.3" y1="1136.8" x2="356.6" y2="1136.8" stroke-width="0.9"/>
<line x1="340.3" y1="1147" x2="356.6" y2="1147" stroke-width="0.9"/>
<line x1="340.3" y1="1149" x2="356.6" y2="1149" stroke-width="0.9"/>
<line x1="340.3" y1="1159.2" x2="356.6" y2="1159.2" stroke-width="0.9"/>
<line x1="340.3" y1="1161.2" x2="356.6" y2="1161.2" stroke-width="0.9"/>
<line x1="340.3" y1="1171.4" x2="356.6" y2="1171.4" stroke-width="0.9"/>
<line x1="340.3" y1="1173.4" x2="356.6" y2="1173.4" stroke-width="0.9"/>
<line x1="340.3" y1="1183.6" x2="356.6" y2="1183.6" stroke-width="0.9"/>
<line x1="340.3" y1="1185.6" x2="356.6" y2="1185.6" stroke-width="0.9"/>
<line x1="340.3" y1="1195.8" x2="356.6" y2="1195.8" stroke-width="0.9"/>
<line x1="340.3" y1="1197.8" x2="356.6" y2="1197.8" stroke-width="0.9"/>
<line x1="340.3" y1="1208" x2="356.6" y2="1208" stroke-width="0.9"/>
<line x1="340.3" y1="1210" x2="356.6" y2="1210" stroke-width="0.9"/>
<line x1="340.3" y1="1220.2" x2="356.6" y2="1220.2" stroke-width="0.9"/>
<line x1="340.3" y1="1222.2" x2="356.6" y2="1222.2" stroke-width="0.9"/>
<line x1="340.3" y1="1232.4" x2="356.6" y2="1232.4" stroke-width="0.9"/>
<line x1="340.3" y1="1234.4" x2="356.6" y2="1234.4" stroke-width="0.9"/>
<line x1="340.3" y1="1244.6" x2="356.6" y2="1244.6" stroke-width="0.9"/>
<line x1="340.3" y1="1246.6" x2="356.6" y2="1246.6" stroke-width="0.9"/>
<line x1="340.3" y1="1256.8" x2="356.6" y2="1256.8" stroke-width="0.9"/>
<line x1="340.3" y1="1258.8" x2="356.6" y2="1258.8" stroke-width="0.9"/>
<polygon points="336.52,1073.3 355.51,1069.08 359.73,1070.14 359.73,1079.63 339.68,1081.75"/>
<rect x="393.9" y="1208.4" width="72.4" height="17.9"/>
<polygon points="451.39,1219.87 450.29,1221.87 452.49,1221.87" stroke-width="0.6" fill="#e9e9ee"/>
<circle cx="399.34" cy="1211.81" r="0.9" stroke-width="0" fill="#e9e9ee"/>
<circle cx="414.22" cy="1220.71" r="0.9" stroke-width="0" fill="#e9e9ee"/>
<circle cx="419.72" cy="1214.54" r="0.9" stroke-width="0" fill="#e9e9ee"/>
<circle cx="438.34" cy="1214.41" r="0.9" stroke-width="0" fill="#e9e9ee"/>
<polygon points="418.2,1213.48 417.1,1215.48 419.3,1215.48" stroke-width="0.6" fill="#e9e9ee"/>
<circle cx="447.63" cy="1222.91" r="0.9" stroke-width="0" fill="#e9e9ee"/>
<polygon points="460.2,1210.22 459.1,1212.22 461.3,1212.22" stroke-width="0.6" fill="#e9e9ee"/>
<circle cx="428.84" cy="1223.44" r="0.9" stroke-width="0" fill="#e9e9ee"/>
<rect x="393.9" y="1208.4" width="1.7" height="17.9" stroke-width="0" fill="#e9e9ee"/>
<polyline points="254.2,1229 288.64,1228 314.47,1227 340.3,1225.5" stroke-width="1"/>
<line x1="254.7" y1="1230.5" x2="262.3" y2="1230.5" stroke-width="0.85"/>
<line x1="254.7" y1="1234.25" x2="262.3" y2="1234.25" stroke-width="0.85"/>
<line x1="254.7" y1="1238" x2="262.3" y2="1238" stroke-width="0.85"/>
<line x1="264" y1="1229.5" x2="264" y2="1239.5" stroke-width="0.85"/>
<line x1="267" y1="1229.5" x2="267" y2="1239.5" stroke-width="0.85"/>
<line x1="270" y1="1229.5" x2="270" y2="1239.5" stroke-width="0.85"/>
<line x1="271.9" y1="1230.5" x2="279.5" y2="1230.5" stroke-width="0.85"/>
<line x1="271.9" y1="1234.25" x2="279.5" y2="1234.25" stroke-width="0.85"/>
<line x1="271.9" y1="1238" x2="279.5" y2="1238" stroke-width="0.85"/>
<line x1="281.2" y1="1229.5" x2="281.2" y2="1239.5" stroke-width="0.85"/>
<line x1="284.2" y1="1229.5" x2="284.2" y2="1239.5" stroke-width="0.85"/>
<line x1="287.2" y1="1229.5" x2="287.2" y2="1239.5" stroke-width="0.85"/>
<line x1="289.1" y1="1230.5" x2="296.7" y2="1230.5" stroke-width="0.85"/>
<line x1="289.1" y1="1234.25" x2="296.7" y2="1234.25" stroke-width="0.85"/>
<line x1="289.1" y1="1238" x2="296.7" y2="1238" stroke-width="0.85"/>
<line x1="298.4" y1="1229.5" x2="298.4" y2="1239.5" stroke-width="0.85"/>
<line x1="301.4" y1="1229.5" x2="301.4" y2="1239.5" stroke-width="0.85"/>
<line x1="304.4" y1="1229.5" x2="304.4" y2="1239.5" stroke-width="0.85"/>
<line x1="306.3" y1="1230.5" x2="313.9" y2="1230.5" stroke-width="0.85"/>
<line x1="306.3" y1="1234.25" x2="313.9" y2="1234.25" stroke-width="0.85"/>
<line x1="306.3" y1="1238" x2="313.9" y2="1238" stroke-width="0.85"/>
<line x1="315.6" y1="1229.5" x2="315.6" y2="1239.5" stroke-width="0.85"/>
<line x1="318.6" y1="1229.5" x2="318.6" y2="1239.5" stroke-width="0.85"/>
<line x1="321.6" y1="1229.5" x2="321.6" y2="1239.5" stroke-width="0.85"/>
<line x1="323.5" y1="1230.5" x2="331.1" y2="1230.5" stroke-width="0.85"/>
<line x1="323.5" y1="1234.25" x2="331.1" y2="1234.25" stroke-width="0.85"/>
<line x1="323.5" y1="1238" x2="331.1" y2="1238" stroke-width="0.85"/>
<line x1="332.8" y1="1229.5" x2="332.8" y2="1239.5" stroke-width="0.85"/>
<line x1="335.8" y1="1229.5" x2="335.8" y2="1239.5" stroke-width="0.85"/>
<line x1="338.8" y1="1229.5" x2="338.8" y2="1239.5" stroke-width="0.85"/>
<line x1="255.4" y1="1240.5" x2="255.4" y2="1250.5" stroke-width="0.85"/>
<line x1="258.4" y1="1240.5" x2="258.4" y2="1250.5" stroke-width="0.85"/>
<line x1="261.4" y1="1240.5" x2="261.4" y2="1250.5" stroke-width="0.85"/>
<line x1="263.3" y1="1241.5" x2="270.9" y2="1241.5" stroke-width="0.85"/>
<line x1="263.3" y1="1245.25" x2="270.9" y2="1245.25" stroke-width="0.85"/>
<line x1="263.3" y1="1249" x2="270.9" y2="1249" stroke-width="0.85"/>
<line x1="272.6" y1="1240.5" x2="272.6" y2="1250.5" stroke-width="0.85"/>
<line x1="275.6" y1="1240.5" x2="275.6" y2="1250.5" stroke-width="0.85"/>
<line x1="278.6" y1="1240.5" x2="278.6" y2="1250.5" stroke-width="0.85"/>
<line x1="280.5" y1="1241.5" x2="288.1" y2="1241.5" stroke-width="0.85"/>
<line x1="280.5" y1="1245.25" x2="288.1" y2="1245.25" stroke-width="0.85"/>
<line x1="280.5" y1="1249" x2="288.1" y2="1249" stroke-width="0.85"/>
<line x1="289.8" y1="1240.5" x2="289.8" y2="1250.5" stroke-width="0.85"/>
<line x1="292.8" y1="1240.5" x2="292.8" y2="1250.5" stroke-width="0.85"/>
<line x1="295.8" y1="1240.5" x2="295.8" y2="1250.5" stroke-width="0.85"/>
<line x1="297.7" y1="1241.5" x2="305.3" y2="1241.5" stroke-width="0.85"/>
<line x1="297.7" y1="1245.25" x2="305.3" y2="1245.25" stroke-width="0.85"/>
<line x1="297.7" y1="1249" x2="305.3" y2="1249" stroke-width="0.85"/>
<line x1="307" y1="1240.5" x2="307" y2="1250.5" stroke-width="0.85"/>
<line x1="310" y1="1240.5" x2="310" y2="1250.5" stroke-width="0.85"/>
<line x1="313" y1="1240.5" x2="313" y2="1250.5" stroke-width="0.85"/>
<line x1="314.9" y1="1241.5" x2="322.5" y2="1241.5" stroke-width="0.85"/>
<line x1="314.9" y1="1245.25" x2="322.5" y2="1245.25" stroke-width="0.85"/>
<line x1="314.9" y1="1249" x2="322.5" y2="1249" stroke-width="0.85"/>
<line x1="324.2" y1="1240.5" x2="324.2" y2="1250.5" stroke-width="0.85"/>
<line x1="327.2" y1="1240.5" x2="327.2" y2="1250.5" stroke-width="0.85"/>
<line x1="330.2" y1="1240.5" x2="330.2" y2="1250.5" stroke-width="0.85"/>
<line x1="332.1" y1="1241.5" x2="339.7" y2="1241.5" stroke-width="0.85"/>
<line x1="332.1" y1="1245.25" x2="339.7" y2="1245.25" stroke-width="0.85"/>
<line x1="332.1" y1="1249" x2="339.7" y2="1249" stroke-width="0.85"/>
<rect x="322.8" y="1271.7" width="88.6" height="35.8"/>
<polygon points="357.5,1280.58 356.4,1282.58 358.6,1282.58" stroke-width="0.6" fill="#e9e9ee"/>
<polygon points="366.55,1302.11 365.45,1304.11 367.65,1304.11" stroke-width="0.6" fill="#e9e9ee"/>
<circle cx="392.7" cy="1297.18" r="0.9" stroke-width="0" fill="#e9e9ee"/>
<polygon points="390.18,1291.91 389.08,1293.91 391.28,1293.91" stroke-width="0.6" fill="#e9e9ee"/>
<circle cx="351.83" cy="1285.21" r="0.9" stroke-width="0" fill="#e9e9ee"/>
<circle cx="331.48" cy="1279.97" r="0.9" stroke-width="0" fill="#e9e9ee"/>
<polygon points="345.72,1274.66 344.62,1276.66 346.82,1276.66" stroke-width="0.6" fill="#e9e9ee"/>
<circle cx="371.55" cy="1284.06" r="0.9" stroke-width="0" fill="#e9e9ee"/>
<polygon points="399.54,1304.01 398.44,1306.01 400.64,1306.01" stroke-width="0.6" fill="#e9e9ee"/>
<polygon points="331.91,1275.67 330.81,1277.67 333.01,1277.67" stroke-width="0.6" fill="#e9e9ee"/>
<polygon points="384.85,1286.81 383.75,1288.81 385.95,1288.81" stroke-width="0.6" fill="#e9e9ee"/>
<circle cx="360.06" cy="1293.43" r="0.9" stroke-width="0" fill="#e9e9ee"/>
<circle cx="388.08" cy="1300.63" r="0.9" stroke-width="0" fill="#e9e9ee"/>
<polygon points="335.05,1299.34 333.95,1301.34 336.15,1301.34" stroke-width="0.6" fill="#e9e9ee"/>
<circle cx="372.76" cy="1285.56" r="0.9" stroke-width="0" fill="#e9e9ee"/>
<polygon points="341.65,1280.47 340.55,1282.47 342.75,1282.47" stroke-width="0.6" fill="#e9e9ee"/>
<circle cx="337.77" cy="1301.82" r="0.9" stroke-width="0" fill="#e9e9ee"/>
<circle cx="352.41" cy="1286.3" r="0.9" stroke-width="0" fill="#e9e9ee"/>
<circle cx="367.72" cy="1281.06" r="0.9" stroke-width="0" fill="#e9e9ee"/>
<polygon points="380.07,1304.11 378.97,1306.11 381.17,1306.11" stroke-width="0.6" fill="#e9e9ee"/>
<circle cx="364.96" cy="1299.75" r="0.9" stroke-width="0" fill="#e9e9ee"/>
<polygon points="402.16,1273.88 401.06,1275.88 403.26,1275.88" stroke-width="0.6" fill="#e9e9ee"/>
<circle cx="334.89" cy="1279.73" r="0.9" stroke-width="0" fill="#e9e9ee"/>
<polygon points="374.14,1302.18 373.04,1304.18 375.24,1304.18" stroke-width="0.6" fill="#e9e9ee"/>
<line x1="322.8" y1="1325.5" x2="322.8" y2="1346"/>
<line x1="411.4" y1="1325.5" x2="411.4" y2="1346"/>
<line x1="320" y1="1344.5" x2="414" y2="1344.5"/>
<line x1="318.3" y1="1349" x2="327.3" y2="1340" stroke-width="1"/>
<line x1="406.9" y1="1349" x2="415.9" y2="1340" stroke-width="1"/>
<text x="342" y="1342" font-size="10.9" textLength="49" lengthAdjust="spacingAndGlyphs">SEE PLAN</text>
<text x="197.5" y="996" font-size="10.17" textLength="137" lengthAdjust="spacingAndGlyphs">3,500 LB HOLDOWN (SIMPSON</text>
<text x="197.5" y="1007.25" font-size="10.17" textLength="84" lengthAdjust="spacingAndGlyphs">HTT4 HOLDOWN W/</text>
<text x="197.5" y="1018.5" font-size="10.17" textLength="89" lengthAdjust="spacingAndGlyphs">18-16dx2-1/2" NAILS</text>
<text x="197.5" y="1029.75" font-size="10.17" textLength="49.5" lengthAdjust="spacingAndGlyphs">OR EQUAL)</text>
<polyline points="290,1003.25 308,1003.25 372,1075"/>
<polygon points="372,1075 367.14,1071.96 369.53,1069.83" stroke-width="0.6" fill="#e9e9ee"/>
<text x="428.75" y="1027.25" font-size="10.17" textLength="76" lengthAdjust="spacingAndGlyphs">2X WALL FRAMING</text>
<polyline points="425,1023.75 412.5,1023.75 387.5,1038.75"/>
<polygon points="387.5,1038.75 391.39,1034.55 393.04,1037.29" stroke-width="0.6" fill="#e9e9ee"/>
<text x="430" y="1060.5" font-size="10.17" textLength="50" lengthAdjust="spacingAndGlyphs">(1) 2x PLATE</text>
<polyline points="426.25,1057 420,1057 387.5,1116.25"/>
<polygon points="387.5,1116.25 388.74,1110.66 391.55,1112.2" stroke-width="0.6" fill="#e9e9ee"/>
<text x="430.75" y="1081.75" font-size="10.17" textLength="65.5" lengthAdjust="spacingAndGlyphs">TREATED PLATE</text>
<polyline points="426.25,1078.25 417.5,1078.25 387.5,1127.5"/>
<polygon points="387.5,1127.5 388.99,1121.97 391.73,1123.64" stroke-width="0.6" fill="#e9e9ee"/>
<text x="188" y="1074.4" font-size="9.16" textLength="38" lengthAdjust="spacingAndGlyphs">OPTIONAL</text>
<text x="188" y="1083.9" font-size="9.16" textLength="31" lengthAdjust="spacingAndGlyphs">VENEER</text>
<polyline points="231.25,1071.75 265,1071.75 339.5,1111.25"/>
<polygon points="339.5,1111.25 333.89,1110.09 335.39,1107.26" stroke-width="0.6" fill="#e9e9ee"/>
<text x="153.75" y="1105.75" font-size="11.63" textLength="96" lengthAdjust="spacingAndGlyphs">8" MASONRY WALL</text>
<text x="153.75" y="1118.55" font-size="11.63" textLength="111" lengthAdjust="spacingAndGlyphs">(INSTALL HORIZONTAL</text>
<text x="153.75" y="1131.35" font-size="11.63" textLength="127.5" lengthAdjust="spacingAndGlyphs">REINFORCING AS REQ'D).</text>
<text x="153.75" y="1144.15" font-size="11.63" textLength="99.5" lengthAdjust="spacingAndGlyphs">TOP COURSE TO BE</text>
<text x="153.75" y="1156.95" font-size="11.63" textLength="70" lengthAdjust="spacingAndGlyphs">FILLED SOLID</text>
<polyline points="261.25,1100.5 286.25,1100.5 367,1185"/>
<polygon points="367,1185 362.04,1182.13 364.36,1179.92" stroke-width="0.6" fill="#e9e9ee"/>
<text x="153.75" y="1177" font-size="11.63" textLength="146" lengthAdjust="spacingAndGlyphs">5/8" THREADED ROD WITH 3/8"</text>
<text x="153.75" y="1189.25" font-size="11.63" textLength="148" lengthAdjust="spacingAndGlyphs">x 1 1/2" x 1 1/2" PLATE WASHERS</text>
<text x="153.75" y="1201.5" font-size="11.63" textLength="143" lengthAdjust="spacingAndGlyphs">AND NUTS OR SIMPSON "SET</text>
<text x="153.75" y="1213.75" font-size="11.63" textLength="143" lengthAdjust="spacingAndGlyphs">OR SET-XP" EPOXY.  7" MIN.</text>
<text x="153.75" y="1226" font-size="11.63" textLength="114.5" lengthAdjust="spacingAndGlyphs">EMBEDMENT INTO FTG.</text>
<polyline points="302.5,1173.75 316.25,1173.75 377.5,1213.75"/>
<polygon points="377.5,1213.75 372.02,1212.08 373.77,1209.4" stroke-width="0.6" fill="#e9e9ee"/>
<text x="452" y="1124.25" font-size="11.63" textLength="77" lengthAdjust="spacingAndGlyphs">8" BOND BEAM</text>
<text x="452" y="1137.25" font-size="11.63" textLength="81" lengthAdjust="spacingAndGlyphs">WITH (1) #4 BAR.</text>
<polyline points="447,1127.25 422,1127.25 388,1153"/>
<polygon points="388,1153 391.42,1148.4 393.35,1150.95" stroke-width="0.6" fill="#e9e9ee"/>
<text x="432.5" y="1172.75" font-size="11.63" textLength="77" lengthAdjust="spacingAndGlyphs">4" CONC. SLAB</text>
<text x="432.5" y="1186" font-size="11.63" textLength="56" lengthAdjust="spacingAndGlyphs">(SEE PLAN)</text>
<polyline points="428.75,1170.5 412.5,1170.5 422.5,1206.25"/>
<polygon points="422.5,1206.25 419.48,1201.38 422.56,1200.52" stroke-width="0.6" fill="#e9e9ee"/>
<text x="446.25" y="1266.5" font-size="11.63" textLength="93" lengthAdjust="spacingAndGlyphs">OPTIONAL 12" CMU</text>
<polyline points="443.75,1262.5 426.25,1262.5 396.25,1253.75"/>
<polygon points="396.25,1253.75 401.98,1253.75 401.08,1256.83" stroke-width="0.6" fill="#e9e9ee"/>
<text x="447.5" y="1287.75" font-size="11.63" textLength="124.5" lengthAdjust="spacingAndGlyphs">MIN 10" DEEP CONCRETE</text>
<text x="447.5" y="1300.85" font-size="11.63" textLength="132.5" lengthAdjust="spacingAndGlyphs">FOOTING (SEE PLANS FOR</text>
<text x="447.5" y="1313.95" font-size="11.63" textLength="33" lengthAdjust="spacingAndGlyphs">WIDTH)</text>
<polyline points="444.5,1284.5 412.5,1288.75"/>
<polygon points="412.5,1288.75 417.74,1286.44 418.16,1289.61" stroke-width="0.6" fill="#e9e9ee"/>
<text x="447.5" y="1331.5" font-size="11.63" textLength="96" lengthAdjust="spacingAndGlyphs">3" CONC. COVER AT</text>
<text x="447.5" y="1344.2" font-size="11.63" textLength="139" lengthAdjust="spacingAndGlyphs">BOTTOM AND 6" MIN CONC.</text>
<text x="447.5" y="1356.9" font-size="11.63" textLength="106" lengthAdjust="spacingAndGlyphs">COVER ON SIDES OF</text>
<text x="447.5" y="1369.6" font-size="11.63" textLength="74.5" lengthAdjust="spacingAndGlyphs">ANCHOR. (TYP)</text>
<polyline points="444.5,1327.5 430,1327.5 382.5,1296.25"/>
<polygon points="382.5,1296.25 387.97,1297.94 386.22,1300.61" stroke-width="0.6" fill="#e9e9ee"/>
<rect x="305.4" y="1389.75" width="145.2" height="28.75"/>
<text x="324.4" y="1410" font-size="14.53" textLength="110" lengthAdjust="spacingAndGlyphs" class="mid">FOOTING SECTION</text>
<rect x="622.3" y="989.4" width="2.7" height="99.3" stroke-width="0.6" fill="#e9e9ee"/>
<line x1="640.5" y1="990" x2="640.5" y2="1062.3"/>
<rect x="625" y="1002.3" width="15.5" height="5.9" stroke-width="0.9"/>
<polyline points="625,1002.3 640.5,1008.2" stroke-width="0.7"/>
<polyline points="625,1008.2 640.5,1002.3" stroke-width="0.7"/>
<rect x="625" y="1055.8" width="15.5" height="5.3" stroke-width="0.9"/>
<polyline points="625,1055.8 640.5,1061.1" stroke-width="0.7"/>
<polyline points="625,1061.1 640.5,1055.8" stroke-width="0.7"/>
<line x1="640.5" y1="1062.3" x2="695.8" y2="1062.3"/>
<rect x="622.3" y="1086.2" width="73.5" height="2.5" stroke-width="0.6" fill="#e9e9ee"/>
<line x1="695.8" y1="1062.3" x2="695.8" y2="1088.7"/>
<rect x="625" y="1062.3" width="13.8" height="23.9" stroke-width="0.9"/>
<polyline points="625,1062.3 638.8,1086.2" stroke-width="0.7"/>
<polyline points="625,1086.2 638.8,1062.3" stroke-width="0.7"/>
<polyline points="631.9,1062.3 638.8,1074 631.9,1086.2 625,1074 631.9,1062.3" stroke-width="0.7"/>
<rect x="681" y="1062.3" width="14.2" height="23.9" stroke-width="0.9"/>
<polyline points="681,1062.3 695.2,1086.2" stroke-width="0.7"/>
<polyline points="681,1086.2 695.2,1062.3" stroke-width="0.7"/>
<polyline points="688.1,1062.3 695.2,1074 688.1,1086.2 681,1074 688.1,1062.3" stroke-width="0.7"/>
<rect x="638.2" y="1069.3" width="10.6" height="10.6" rx="1.5"/>
<circle cx="643.5" cy="1074.6" r="1.1" stroke-width="0.8"/>
<rect x="671" y="1069.3" width="10.6" height="10.6" rx="1.5"/>
<circle cx="676.3" cy="1074.6" r="1.1" stroke-width="0.8"/>
<line x1="696.4" y1="1062.6" x2="818" y2="1062.6" stroke-dasharray="3,2" stroke-width="0.9"/>
<line x1="696.4" y1="1088.5" x2="818" y2="1088.5" stroke-dasharray="3,2" stroke-width="0.9"/>
<text x="704.5" y="1079.5" font-size="9.45" textLength="38" lengthAdjust="spacingAndGlyphs">OPENING</text>
<text x="700" y="991" font-size="10.17" textLength="47" lengthAdjust="spacingAndGlyphs">SIDE WALL</text>
<polyline points="697.5,987.5 685,987.5 641.25,1005"/>
<polygon points="641.25,1005 645.76,1001.47 646.95,1004.44" stroke-width="0.6" fill="#e9e9ee"/>
<text x="700" y="1005.5" font-size="10.17" textLength="44" lengthAdjust="spacingAndGlyphs">2x6 WALL</text>
<polyline points="697.5,1002 686.25,1002 662.5,1060"/>
<polygon points="662.5,1060 663.1,1054.3 666.06,1055.52" stroke-width="0.6" fill="#e9e9ee"/>
<text x="582.5" y="1111.5" font-size="9.45" textLength="66" lengthAdjust="spacingAndGlyphs">EXTERIOR WSP</text>
<text x="582.5" y="1122.5" font-size="9.45" textLength="48" lengthAdjust="spacingAndGlyphs">SHEATHING</text>
<polyline points="580,1107.5 573.75,1107.5 621.25,1012.5"/>
<polygon points="621.25,1012.5 620.22,1018.13 617.36,1016.7" stroke-width="0.6" fill="#e9e9ee"/>
<polyline points="650,1107.5 654,1107.5 646.25,1089.5"/>
<polygon points="646.25,1089.5 649.89,1093.92 646.96,1095.18" stroke-width="0.6" fill="#e9e9ee"/>
<text x="696.25" y="1108.25" font-size="9.45" textLength="88" lengthAdjust="spacingAndGlyphs">3,500 LB HOLDOWN</text>
<text x="696.25" y="1119.75" font-size="9.45" textLength="66" lengthAdjust="spacingAndGlyphs">(SIMPSON HTT4</text>
<text x="696.25" y="1131.25" font-size="9.45" textLength="94" lengthAdjust="spacingAndGlyphs">HOLDOWN) OR EQUAL</text>
<polyline points="693.75,1104.5 682.5,1104.5 648.75,1080"/>
<polygon points="648.75,1080 654.1,1082.04 652.17,1084.59" stroke-width="0.6" fill="#e9e9ee"/>
<polyline points="682.5,1104.5 677.5,1082.5"/>
<polygon points="677.5,1082.5 680.28,1087.51 677.16,1088.22" stroke-width="0.6" fill="#e9e9ee"/>
<rect x="640.5" y="1149.5" width="126" height="25"/>
<text x="668" y="1167" font-size="14.53" textLength="65" lengthAdjust="spacingAndGlyphs" class="mid">PLAN VIEW</text>
<polyline points="732.18,1306.49 732.18,1216.03 735.61,1211.45 755.08,1210.31 759.09,1214.89 759.09,1299.62 760.8,1303.63 773.4,1371.76 771.11,1376.34 746.49,1384.36 741.34,1378.63 731.03,1306.49 732.18,1306.49"/>
<polyline points="734.24,1305.35 734.24,1217.18 736.76,1213.51" stroke-width="0.8"/>
<polyline points="734.24,1313.36 745,1364.89" stroke-width="0.9"/>
<polyline points="757.6,1307.64 752.79,1361.46" stroke-width="0.9"/>
<polyline points="742.48,1364.89 752.79,1361.46 773.4,1371.76" stroke-width="0.9"/>
<polyline points="745,1364.89 749.35,1380.35" stroke-width="0.9"/>
<polyline points="749.35,1380.35 772.25,1373.48" stroke-width="0.9"/>
<circle cx="751.07" cy="1371.19" r="4.4" stroke-width="1"/>
<circle cx="737.33" cy="1220.61" r="1.6" stroke-width="0" fill="#e9e9ee"/>
<circle cx="749.35" cy="1218.32" r="1.6" stroke-width="0" fill="#e9e9ee"/>
<circle cx="742.48" cy="1228.05" r="1.6" stroke-width="0" fill="#e9e9ee"/>
<circle cx="754.51" cy="1226.34" r="1.6" stroke-width="0" fill="#e9e9ee"/>
<circle cx="737.33" cy="1237.79" r="1.6" stroke-width="0" fill="#e9e9ee"/>
<circle cx="749.35" cy="1235.5" r="1.6" stroke-width="0" fill="#e9e9ee"/>
<circle cx="742.48" cy="1245.23" r="1.6" stroke-width="0" fill="#e9e9ee"/>
<circle cx="754.51" cy="1243.51" r="1.6" stroke-width="0" fill="#e9e9ee"/>
<circle cx="737.33" cy="1254.96" r="1.6" stroke-width="0" fill="#e9e9ee"/>
<circle cx="749.35" cy="1252.67" r="1.6" stroke-width="0" fill="#e9e9ee"/>
<circle cx="742.48" cy="1262.41" r="1.6" stroke-width="0" fill="#e9e9ee"/>
<circle cx="754.51" cy="1260.69" r="1.6" stroke-width="0" fill="#e9e9ee"/>
<circle cx="737.33" cy="1272.14" r="1.6" stroke-width="0" fill="#e9e9ee"/>
<circle cx="749.35" cy="1269.85" r="1.6" stroke-width="0" fill="#e9e9ee"/>
<circle cx="742.48" cy="1279.58" r="1.6" stroke-width="0" fill="#e9e9ee"/>
<circle cx="754.51" cy="1277.87" r="1.6" stroke-width="0" fill="#e9e9ee"/>
<circle cx="737.33" cy="1289.32" r="1.6" stroke-width="0" fill="#e9e9ee"/>
<circle cx="749.35" cy="1287.03" r="1.6" stroke-width="0" fill="#e9e9ee"/>
<circle cx="742.48" cy="1296.76" r="1.6" stroke-width="0" fill="#e9e9ee"/>
<circle cx="754.51" cy="1295.04" r="1.6" stroke-width="0" fill="#e9e9ee"/>
<circle cx="737.33" cy="1306.49" r="1.6" stroke-width="0" fill="#e9e9ee"/>
<circle cx="749.35" cy="1304.2" r="1.6" stroke-width="0" fill="#e9e9ee"/>
<circle cx="742.48" cy="1313.94" r="1.6" stroke-width="0" fill="#e9e9ee"/>
<circle cx="754.51" cy="1312.22" r="1.6" stroke-width="0" fill="#e9e9ee"/>
<circle cx="747.06" cy="1323.1" r="1.6" stroke-width="0" fill="#e9e9ee"/>
<circle cx="747.06" cy="1333.97" r="1.6" stroke-width="0" fill="#e9e9ee"/>
<rect x="695.2" y="1396.5" width="112.8" height="22"/>
<text x="708.2" y="1412.7" font-size="13.08" textLength="86.8" lengthAdjust="spacingAndGlyphs">SIMPSON HTT4</text>
<rect x="231.4" y="1476.8" width="73.2" height="15.5"/>
<text x="241" y="1488.95" font-size="12.35" textLength="54" lengthAdjust="spacingAndGlyphs">SECTION</text>
<circle cx="326.6" cy="1484.7" r="22.2"/>
<line x1="304.6" y1="1484.7" x2="348.8" y2="1484.7"/>
<text x="326.6" y="1480.5" font-size="11.63" textLength="28" lengthAdjust="spacingAndGlyphs" text-anchor="middle">901A</text>
<text x="326.6" y="1496.5" font-size="11.63" textLength="14" lengthAdjust="spacingAndGlyphs" text-anchor="middle">SD</text>
<text x="357.8" y="1482.2" font-size="22.82" textLength="404.7" lengthAdjust="spacingAndGlyphs" class="big">APA PORTAL FRAME W/ HOLD-DOWNS</text>
<line x1="357.8" y1="1484.7" x2="763.5" y2="1484.7" stroke-width="1.2"/>
<text x="357.8" y="1500.4" font-size="15.7" textLength="404.7" lengthAdjust="spacingAndGlyphs" class="mid">DETAIL AND APPLICATION BASED ON APA TT-100F WITH USE</text>
<text x="357" y="1515.9" font-size="14.68" textLength="374.3" lengthAdjust="spacingAndGlyphs" class="mid">OF TABLE 1 FOR APA PORTAL FRAME WITH HOLD-DOWN</text>
<text x="357" y="1531.6" font-size="13.95" textLength="81.4" lengthAdjust="spacingAndGlyphs">CAPACITIES.</text>
</g>
</svg></body></html>
